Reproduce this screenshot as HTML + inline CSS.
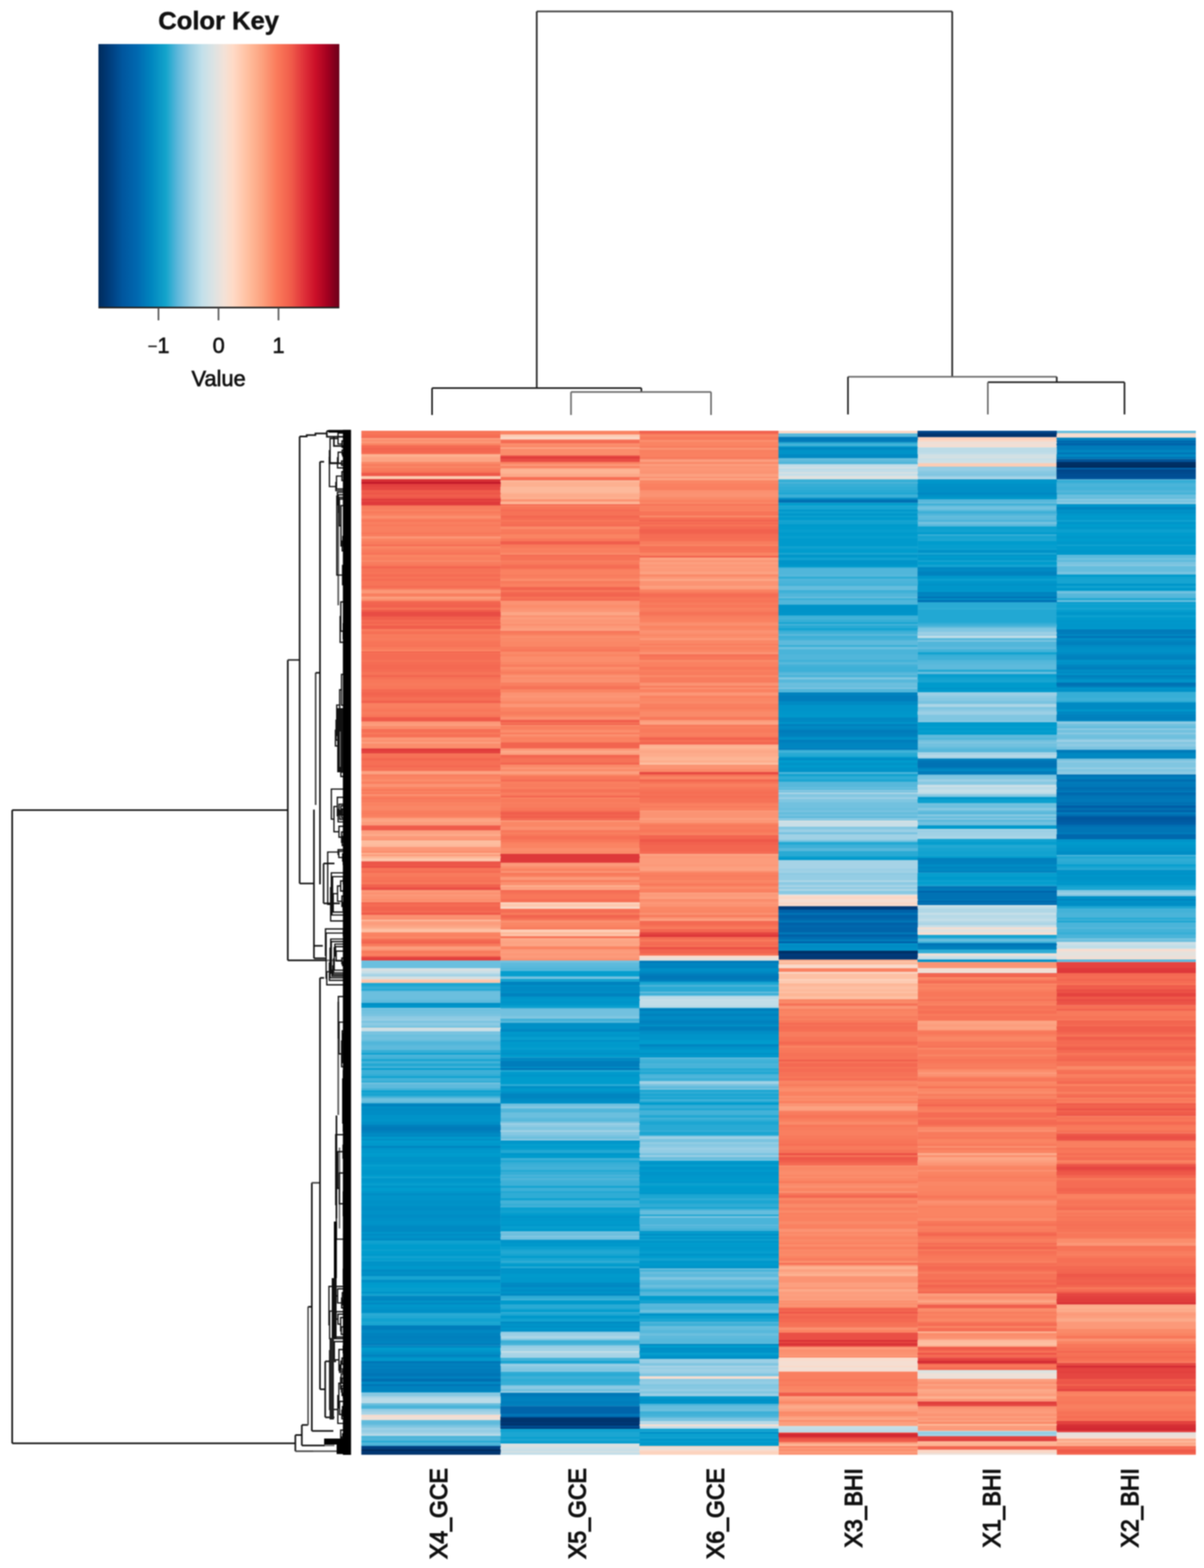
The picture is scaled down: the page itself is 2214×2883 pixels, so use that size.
<!DOCTYPE html>
<html><head><meta charset="utf-8"><style>
html,body{margin:0;padding:0;background:#fff;}
svg{display:block;filter:blur(1.1px);}
</style></head><body>
<svg width="2214" height="2883" viewBox="0 0 2214 2883">
<rect width="2214" height="2883" fill="#fff"/>
<defs><linearGradient id="kg" x1="0" x2="1" y1="0" y2="0"><stop offset="0.0" stop-color="#002b5c"/><stop offset="0.04" stop-color="#003a78"/><stop offset="0.1" stop-color="#00569e"/><stop offset="0.16" stop-color="#0068b0"/><stop offset="0.22" stop-color="#0086bf"/><stop offset="0.28" stop-color="#13a4cb"/><stop offset="0.33" stop-color="#5fb8db"/><stop offset="0.38" stop-color="#97cde2"/><stop offset="0.43" stop-color="#c2e0ea"/><stop offset="0.48" stop-color="#dde3e3"/><stop offset="0.52" stop-color="#f2e2d8"/><stop offset="0.56" stop-color="#ffdac6"/><stop offset="0.62" stop-color="#ffbf9f"/><stop offset="0.68" stop-color="#fca17e"/><stop offset="0.74" stop-color="#fb7b5b"/><stop offset="0.8" stop-color="#f05c4a"/><stop offset="0.85" stop-color="#e0333a"/><stop offset="0.9" stop-color="#cc1029"/><stop offset="0.95" stop-color="#a30020"/><stop offset="1.0" stop-color="#6b001a"/></linearGradient></defs>
<rect x="181" y="81" width="443" height="485" fill="url(#kg)"/>
<path d="M181,565.5 H624" stroke="#222" stroke-width="3"/>
<path d="M291.4,566 V589" stroke="#555" stroke-width="3"/>
<path d="M401.8,566 V589" stroke="#555" stroke-width="3"/>
<path d="M512.1,566 V589" stroke="#555" stroke-width="3"/>
<text x="402" y="54" font-family="Liberation Sans, Arial, sans-serif" font-size="47" font-weight="bold" text-anchor="middle" fill="#111" stroke="#111" stroke-width="0.8">Color Key</text>
<text x="291.5" y="649" font-family="Liberation Sans, Arial, sans-serif" font-size="40" text-anchor="middle" fill="#111" stroke="#111" stroke-width="1.0"><tspan font-size="31" dy="-2.5" fill="#222" stroke="#222" stroke-width="0.5">−</tspan><tspan dy="2.5">1</tspan></text>
<text x="402" y="649" font-family="Liberation Sans, Arial, sans-serif" font-size="40" text-anchor="middle" fill="#111" stroke="#111" stroke-width="1.0">0</text>
<text x="512" y="649" font-family="Liberation Sans, Arial, sans-serif" font-size="40" text-anchor="middle" fill="#111" stroke="#111" stroke-width="1.0">1</text>
<text x="402" y="710" font-family="Liberation Sans, Arial, sans-serif" font-size="40" text-anchor="middle" fill="#111" stroke="#111" stroke-width="1.2">Value</text>
<path d="M987,21 H1751" stroke="#3a3a3a" stroke-width="3" fill="none"/>
<path d="M987,21 V713.5" stroke="#1e1e1e" stroke-width="3" fill="none"/>
<path d="M1751,21 V692.8" stroke="#1e1e1e" stroke-width="3" fill="none"/>
<path d="M794.5,713.5 H1179.4" stroke="#1e1e1e" stroke-width="3" fill="none"/>
<path d="M794.5,713.5 V763" stroke="#1e1e1e" stroke-width="3" fill="none"/>
<path d="M1179.4,713.5 V720.7" stroke="#1e1e1e" stroke-width="3" fill="none"/>
<path d="M1050,720.7 H1307.5" stroke="#6a6a6a" stroke-width="3" fill="none"/>
<path d="M1050,720.7 V763" stroke="#6a6a6a" stroke-width="3" fill="none"/>
<path d="M1307.5,720.7 V763" stroke="#6a6a6a" stroke-width="3" fill="none"/>
<path d="M1559.3,692.8 H1943.2" stroke="#6a6a6a" stroke-width="3" fill="none"/>
<path d="M1559.3,692.8 V762" stroke="#1e1e1e" stroke-width="3" fill="none"/>
<path d="M1943.2,692.8 V702.8" stroke="#1e1e1e" stroke-width="3" fill="none"/>
<path d="M1816.5,702.8 H2067.8" stroke="#1e1e1e" stroke-width="3" fill="none"/>
<path d="M1816.5,702.8 V762" stroke="#6a6a6a" stroke-width="3" fill="none"/>
<path d="M2067.8,702.8 V762" stroke="#1e1e1e" stroke-width="3" fill="none"/>
<path d="M22.4,1489.6 V2653.8" stroke="#111" stroke-width="3" fill="none"/>
<path d="M22.4,1489.6 H529.2" stroke="#1a1a1a" stroke-width="3" fill="none"/>
<path d="M22.4,2653.8 H543.1" stroke="#111" stroke-width="3" fill="none"/>
<path d="M529.2,1213.4 V1765.8" stroke="#111" stroke-width="3" fill="none"/>
<path d="M529.2,1213.4 H551" stroke="#333" stroke-width="3" fill="none"/>
<path d="M529.2,1765.8 H600" stroke="#111" stroke-width="3" fill="none"/>
<path d="M600,1765.8 H630" stroke="#777" stroke-width="3" fill="none"/>
<path d="M551,802.6 V1624.4" stroke="#111" stroke-width="3" fill="none"/>
<path d="M551,1624.4 H577.3" stroke="#1a1a1a" stroke-width="3" fill="none"/>
<path d="M551,802.6 H564 V800 H580 V797 H601" stroke="#111" stroke-width="3" fill="none"/>
<path d="M577.3,1488.4 V1762" stroke="#111" stroke-width="3" fill="none"/>
<path d="M577.3,1739 H593.6" stroke="#111" stroke-width="3" fill="none"/>
<path d="M577.3,1762 H600" stroke="#111" stroke-width="3" fill="none"/>
<path d="M588.4,849 V1626" stroke="#111" stroke-width="3" fill="none"/>
<path d="M588.4,849 H596" stroke="#111" stroke-width="3" fill="none"/>
<path d="M580.4,1237 V1480" stroke="#444" stroke-width="3" fill="none"/>
<path d="M580.4,1237 H588.4" stroke="#111" stroke-width="3" fill="none"/>
<path d="M595,1587.6 V1661" stroke="#1a1a1a" stroke-width="3" fill="none"/>
<path d="M595,1587.6 H615" stroke="#111" stroke-width="3" fill="none"/>
<path d="M595,1661 H625" stroke="#111" stroke-width="3" fill="none"/>
<path d="M622,911 V1113" stroke="#555" stroke-width="3" fill="none"/>
<path d="M601,792.5 H645" stroke="#000" stroke-width="3" fill="none"/>
<path d="M601,792.5 V803 H645" stroke="#111" stroke-width="3" fill="none"/>
<path d="M614,803 V820 H645" stroke="#111" stroke-width="3" fill="none"/>
<path d="M606,840 V852 H640" stroke="#222" stroke-width="3" fill="none"/>
<path d="M543.1,2638.5 V2668.3" stroke="#111" stroke-width="3" fill="none"/>
<path d="M543.1,2638.5 H555" stroke="#111" stroke-width="3" fill="none"/>
<path d="M543.1,2668.3 H576" stroke="#444" stroke-width="3" fill="none"/>
<path d="M576,2668.3 H620" stroke="#555" stroke-width="3" fill="none"/>
<path d="M555,2620 V2657.7" stroke="#111" stroke-width="3" fill="none"/>
<path d="M555,2657.7 H597.5" stroke="#111" stroke-width="3" fill="none"/>
<path d="M597.5,2657.7 H615" stroke="#777" stroke-width="3" fill="none"/>
<path d="M555,2620 H566.5" stroke="#111" stroke-width="3" fill="none"/>
<path d="M566.5,2402.7 V2620" stroke="#555" stroke-width="3" fill="none"/>
<path d="M566.5,2402.7 H573.2" stroke="#111" stroke-width="3" fill="none"/>
<path d="M573.4,2174.8 V2631" stroke="#111" stroke-width="3" fill="none"/>
<path d="M573.4,2631 H613" stroke="#111" stroke-width="3" fill="none"/>
<path d="M573.2,2174.8 H588.4" stroke="#444" stroke-width="3" fill="none"/>
<path d="M588.4,1798 V2554.4" stroke="#111" stroke-width="3" fill="none"/>
<path d="M588.4,1798 H596" stroke="#111" stroke-width="3" fill="none"/>
<path d="M588.4,2554.4 H598" stroke="#111" stroke-width="3" fill="none"/>
<path d="M598,2503 V2606" stroke="#111" stroke-width="3" fill="none"/>
<path d="M598,2503 H618" stroke="#111" stroke-width="3" fill="none"/>
<path d="M598,2606 H615" stroke="#111" stroke-width="3" fill="none"/>
<path d="M622,1842 V2050" stroke="#555" stroke-width="3" fill="none"/>
<path d="M618.7,2051 V2240" stroke="#111" stroke-width="3" fill="none"/>
<path d="M624.3,2110 V2258.7" stroke="#777" stroke-width="3" fill="none"/>
<path d="M632.3,2268 V2417" stroke="#777" stroke-width="3" fill="none"/>
<path d="M645.0 799.7H639.8V802.8H645.0M645.0 796.6H637.0V801.2H639.8M645.0 793.5H635.8V798.9H637.0M645.0 805.9H636.6V809.0H645.0M645.0 812.1H636.8V815.2H645.0M636.6 807.5H635.4V813.7H636.8M645.0 818.3H640.2V821.4H645.0M640.2 819.9H632.8V824.5H645.0M635.4 810.6H628.8V822.2H632.8M635.8 796.2H621.6V816.4H628.8M645.0 830.7H638.0V833.8H645.0M645.0 836.9H637.2V840.0H645.0M638.0 832.3H630.3V838.5H637.2M645.0 827.6H629.1V835.4H630.3M645.0 843.1H638.0V846.2H645.0M645.0 849.3H635.5V852.4H645.0M638.0 844.7H634.3V850.9H635.5M634.3 847.8H628.1V855.5H645.0M629.1 831.5H621.9V851.6H628.1M645.0 858.6H640.4V861.7H645.0M621.9 841.6H620.7V860.2H640.4M621.6 806.3H607.0V850.9H620.7M645.0 867.9H638.0V871.0H645.0M645.0 864.8H632.5V869.5H638.0M645.0 874.1H637.1V877.2H645.0M637.1 875.7H635.9V880.3H645.0M645.0 883.4H641.8V886.5H645.0M645.0 889.6H642.3V892.7H645.0M642.3 891.2H641.1V895.8H645.0M641.8 885.0H637.3V893.5H641.1M635.9 878.0H634.7V889.2H637.3M632.5 867.1H628.7V883.6H634.7M628.7 875.4H618.8V898.9H645.0M618.8 887.1H617.6V902.0H645.0M607.0 828.6H605.8V894.6H617.6M645.0 908.2H642.1V911.3H645.0M645.0 923.7H641.4V926.8H645.0M645.0 920.6H639.5V925.3H641.4M645.0 933.0H642.4V936.1H645.0M645.0 939.2H642.8V942.3H645.0M642.8 940.8H641.6V945.4H645.0M645.0 948.5H641.5V951.6H645.0M641.6 943.1H640.3V950.1H641.5M640.3 946.6H637.6V954.7H645.0M642.4 934.6H636.4V950.6H637.6M645.0 929.9H635.2V942.6H636.4M639.5 922.9H633.0V936.2H635.2M645.0 957.8H642.7V960.9H645.0M645.0 964.0H640.3V967.1H645.0M640.3 965.6H639.1V970.2H645.0M642.7 959.4H637.9V967.9H639.1M637.9 963.6H636.7V973.3H645.0M645.0 979.5H641.3V982.6H645.0M645.0 976.4H639.3V981.1H641.3M645.0 985.7H641.0V988.8H645.0M641.0 987.3H639.2V991.9H645.0M639.3 978.7H638.0V989.6H639.2M636.7 968.5H634.9V984.2H638.0M645.0 995.0H641.6V998.1H645.0M634.9 976.3H633.2V996.6H641.6M645.0 1004.3H641.5V1007.4H645.0M645.0 1001.2H639.9V1005.9H641.5M633.2 986.4H630.5V1003.5H639.9M645.0 1013.6H640.8V1016.7H645.0M645.0 1010.5H639.4V1015.2H640.8M630.5 995.0H629.3V1012.8H639.4M633.0 929.6H627.0V1003.9H629.3M645.0 917.5H624.1V966.7H627.0M645.0 914.4H622.9V942.1H624.1M642.1 909.8H621.7V928.3H622.9M645.0 905.1H620.5V919.0H621.7M645.0 1022.9H641.9V1026.0H645.0M645.0 1019.8H639.9V1024.5H641.9M645.0 1029.1H641.7V1032.2H645.0M641.7 1030.7H640.5V1035.3H645.0M639.9 1022.1H638.6V1033.0H640.5M638.6 1027.6H637.4V1038.4H645.0M645.0 1047.7H641.6V1050.8H645.0M645.0 1044.6H639.4V1049.3H641.6M645.0 1053.9H641.9V1057.0H645.0M639.4 1046.9H638.2V1055.5H641.9M645.0 1041.5H637.0V1051.2H638.2M637.4 1033.0H635.3V1046.3H637.0M645.0 1060.1H642.3V1063.2H645.0M645.0 1069.4H641.8V1072.5H645.0M645.0 1066.3H639.7V1071.0H641.8M642.3 1061.7H637.5V1068.6H639.7M645.0 1075.6H642.3V1078.7H645.0M642.3 1077.2H641.1V1081.8H645.0M645.0 1088.0H642.4V1091.1H645.0M645.0 1084.9H640.9V1089.5H642.4M640.9 1087.2H639.7V1094.2H645.0M641.1 1079.5H638.5V1090.7H639.7M637.5 1065.1H636.3V1085.1H638.5M635.3 1039.7H629.9V1075.1H636.3M620.5 912.1H619.3V1057.4H629.9M645.0 1103.5H641.2V1106.6H645.0M645.0 1100.4H640.0V1105.0H641.2M645.0 1109.7H642.4V1112.8H645.0M640.0 1102.7H638.2V1111.2H642.4M645.0 1119.0H640.8V1122.1H645.0M645.0 1125.2H640.4V1128.3H645.0M640.8 1120.5H639.2V1126.7H640.4M645.0 1115.9H638.0V1123.6H639.2M638.0 1119.8H636.8V1131.4H645.0M638.2 1107.0H635.6V1125.6H636.8M645.0 1097.3H634.4V1116.3H635.6M645.0 1140.7H641.2V1143.8H645.0M645.0 1137.6H639.4V1142.2H641.2M639.4 1139.9H638.2V1146.9H645.0M645.0 1150.0H641.7V1153.1H645.0M641.7 1151.5H640.2V1156.2H645.0M638.2 1143.4H637.0V1153.9H640.2M637.0 1148.6H635.8V1159.3H645.0M645.0 1165.5H641.0V1168.6H645.0M645.0 1162.4H639.8V1167.0H641.0M635.8 1154.0H633.6V1164.7H639.8M645.0 1134.5H632.4V1159.3H633.6M645.0 1174.8H640.8V1177.9H645.0M645.0 1171.7H639.6V1176.3H640.8M632.4 1146.9H631.2V1174.0H639.6M634.4 1106.8H626.7V1160.5H631.2M626.7 1133.6H625.5V1181.0H645.0M645.0 1187.2H640.8V1190.3H645.0M645.0 1193.4H642.5V1196.5H645.0M640.8 1188.7H639.6V1194.9H642.5M645.0 1184.1H638.4V1191.8H639.6M645.0 1202.7H641.4V1205.8H645.0M645.0 1199.6H639.6V1204.2H641.4M639.6 1201.9H638.4V1208.9H645.0M645.0 1212.0H642.5V1215.1H645.0M638.4 1205.4H637.2V1213.5H642.5M637.2 1209.5H636.0V1218.2H645.0M638.4 1188.0H634.8V1213.8H636.0M634.8 1200.9H633.6V1221.3H645.0M645.0 1224.4H640.3V1227.5H645.0M645.0 1230.6H640.5V1233.7H645.0M645.0 1236.8H640.8V1239.9H645.0M640.5 1232.1H639.3V1238.3H640.8M639.3 1235.2H638.1V1243.0H645.0M645.0 1246.1H641.6V1249.2H645.0M638.1 1239.1H636.9V1247.6H641.6M645.0 1252.3H642.6V1255.4H645.0M645.0 1258.5H642.6V1261.6H645.0M642.6 1260.0H639.8V1264.7H645.0M642.6 1253.8H638.6V1262.4H639.8M645.0 1270.9H642.1V1274.0H645.0M645.0 1267.8H640.0V1272.4H642.1M638.6 1258.1H637.4V1270.1H640.0M636.9 1243.4H634.6V1264.1H637.4M640.3 1225.9H633.4V1253.8H634.6M645.0 1277.1H642.8V1280.2H645.0M645.0 1283.3H641.2V1286.4H645.0M642.8 1278.6H638.7V1284.8H641.2M645.0 1289.5H640.6V1292.6H645.0M645.0 1298.8H641.5V1301.9H645.0M645.0 1295.7H639.6V1300.3H641.5M640.6 1291.0H638.4V1298.0H639.6M638.7 1281.7H635.0V1294.5H638.4M635.0 1288.1H633.8V1305.0H645.0M633.4 1239.9H628.0V1296.6H633.8M645.0 1311.2H640.7V1314.3H645.0M640.7 1312.7H639.5V1317.4H645.0M645.0 1308.1H638.3V1315.1H639.5M638.3 1311.6H637.1V1320.5H645.0M637.1 1316.0H635.9V1323.6H645.0M645.0 1332.9H640.5V1336.0H645.0M645.0 1329.8H639.2V1334.4H640.5M645.0 1326.7H638.0V1332.1H639.2M635.9 1319.8H634.7V1329.4H638.0M628.0 1268.2H624.6V1324.6H634.7M645.0 1342.2H641.7V1345.3H645.0M645.0 1339.1H638.3V1343.7H641.7M645.0 1348.4H641.3V1351.5H645.0M641.3 1349.9H640.1V1354.6H645.0M638.3 1341.4H637.1V1352.3H640.1M637.1 1346.8H632.1V1357.7H645.0M624.6 1296.4H619.2V1352.3H632.1M619.2 1324.3H618.0V1360.8H645.0M645.0 1370.1H640.0V1373.2H645.0M645.0 1367.0H638.5V1371.6H640.0M645.0 1376.3H639.3V1379.4H645.0M645.0 1391.8H638.7V1394.9H645.0M638.7 1393.3H637.5V1398.0H645.0M645.0 1388.7H635.1V1395.7H637.5M645.0 1404.2H638.6V1407.3H645.0M645.0 1401.1H637.4V1405.7H638.6M635.1 1392.2H631.6V1403.4H637.4M645.0 1413.5H638.8V1416.6H645.0M645.0 1410.4H637.3V1415.0H638.8M631.6 1397.8H630.4V1412.7H637.3M645.0 1385.6H629.2V1405.3H630.4M629.2 1395.4H628.0V1419.7H645.0M645.0 1422.8H638.3V1425.9H645.0M645.0 1432.1H641.6V1435.2H645.0M645.0 1429.0H639.7V1433.6H641.6M638.3 1424.3H633.5V1431.3H639.7M628.0 1407.6H626.8V1427.8H633.5M645.0 1382.5H625.6V1417.7H626.8M639.3 1377.8H624.4V1400.1H625.6M638.5 1369.3H623.2V1389.0H624.4M645.0 1363.9H622.0V1379.2H623.2M618.0 1342.6H616.8V1371.5H622.0M645.0 1438.3H640.9V1441.4H645.0M645.0 1444.5H642.4V1447.6H645.0M642.4 1446.0H641.1V1450.7H645.0M640.9 1439.8H639.7V1448.4H641.1M645.0 1453.8H641.6V1456.9H645.0M641.6 1455.3H639.2V1460.0H645.0M639.7 1444.1H637.3V1457.7H639.2M645.0 1472.4H641.5V1475.5H645.0M645.0 1469.3H640.3V1473.9H641.5M645.0 1466.2H639.1V1471.6H640.3M645.0 1463.1H637.9V1468.9H639.1M645.0 1491.0H640.7V1494.1H645.0M645.0 1487.9H633.8V1492.5H640.7M645.0 1484.8H632.2V1490.2H633.8M645.0 1497.2H640.6V1500.3H645.0M632.2 1487.5H629.4V1498.7H640.6M629.4 1493.1H628.2V1503.4H645.0M645.0 1481.7H627.0V1498.3H628.2M627.0 1490.0H624.7V1506.5H645.0M645.0 1478.6H623.5V1498.2H624.7M645.0 1509.6H638.4V1512.7H645.0M623.5 1488.4H621.7V1511.1H638.4M637.9 1466.0H620.3V1499.8H621.7M645.0 1518.9H640.0V1522.0H645.0M640.0 1520.4H638.8V1525.1H645.0M645.0 1515.8H635.3V1522.8H638.8M645.0 1528.2H638.9V1531.3H645.0M645.0 1537.5H637.3V1540.6H645.0M637.3 1539.0H636.1V1543.7H645.0M645.0 1534.4H634.9V1541.4H636.1M645.0 1546.8H636.5V1549.9H645.0M634.9 1537.9H630.5V1548.3H636.5M645.0 1553.0H637.9V1556.1H645.0M630.5 1543.1H629.3V1554.5H637.9M638.9 1529.7H628.1V1548.8H629.3M635.3 1519.3H623.3V1539.3H628.1M620.3 1482.9H614.1V1529.3H623.3M637.3 1450.9H609.3V1506.1H614.1M645.0 1568.5H637.2V1571.6H645.0M645.0 1577.8H639.2V1580.9H645.0M645.0 1574.7H637.9V1579.3H639.2M645.0 1584.0H636.8V1587.1H645.0M645.0 1596.4H637.1V1599.5H645.0M645.0 1593.3H635.9V1597.9H637.1M645.0 1590.2H633.7V1595.6H635.9M636.8 1585.5H632.5V1592.9H633.7M637.9 1577.0H631.3V1589.2H632.5M637.2 1570.0H630.1V1583.1H631.3M645.0 1565.4H623.0V1576.6H630.1M645.0 1562.3H621.8V1571.0H623.0M645.0 1605.7H640.6V1608.8H645.0M645.0 1602.6H636.5V1607.2H640.6M645.0 1621.2H638.8V1624.3H645.0M645.0 1618.1H636.3V1622.7H638.8M645.0 1627.4H636.5V1630.5H645.0M636.3 1620.4H632.7V1628.9H636.5M645.0 1615.0H631.5V1624.7H632.7M645.0 1633.6H638.7V1636.7H645.0M645.0 1639.8H639.9V1642.9H645.0M638.7 1635.1H632.0V1641.3H639.9M631.5 1619.8H626.4V1638.2H632.0M645.0 1646.0H639.2V1649.1H645.0M645.0 1652.2H637.3V1655.3H645.0M645.0 1661.5H640.1V1664.6H645.0M645.0 1658.4H635.2V1663.0H640.1M645.0 1667.7H636.6V1670.8H645.0M635.2 1660.7H634.0V1669.2H636.6M637.3 1653.7H632.8V1665.0H634.0M632.8 1659.4H630.9V1673.9H645.0M639.2 1647.5H628.7V1666.6H630.9M626.4 1629.0H620.7V1657.1H628.7M620.7 1643.1H612.8V1677.0H645.0M645.0 1611.9H611.6V1660.0H612.8M645.0 1683.2H638.3V1686.3H645.0M645.0 1680.1H635.1V1684.7H638.3M611.6 1636.0H610.4V1682.4H635.1M636.5 1604.9H609.2V1659.2H610.4M645.0 1689.4H640.6V1692.5H645.0M640.6 1690.9H636.0V1695.6H645.0M609.2 1632.1H608.0V1693.3H636.0M621.8 1566.6H602.6V1662.7H608.0M645.0 1701.8H637.4V1704.9H645.0M645.0 1698.7H636.2V1703.3H637.4M645.0 1717.3H636.5V1720.4H645.0M645.0 1714.2H634.0V1718.8H636.5M634.0 1716.5H632.8V1723.5H645.0M645.0 1711.1H631.6V1720.0H632.8M645.0 1729.7H636.1V1732.8H645.0M645.0 1739.0H637.4V1742.1H645.0M645.0 1748.3H637.9V1751.4H645.0M637.9 1749.8H634.1V1754.5H645.0M645.0 1745.2H632.9V1752.2H634.1M645.0 1757.6H637.1V1760.7H645.0M637.1 1759.1H635.9V1763.8H645.0M645.0 1766.9H639.1V1770.0H645.0M645.0 1776.2H635.8V1779.3H645.0M645.0 1773.1H633.6V1777.7H635.8M639.1 1768.4H629.8V1775.4H633.6M635.9 1761.5H628.6V1771.9H629.8M632.9 1748.7H618.2V1766.7H628.6M637.4 1740.5H617.0V1757.7H618.2M645.0 1735.9H615.8V1749.1H617.0M645.0 1782.4H635.1V1785.5H645.0M615.8 1742.5H614.6V1783.9H635.1M614.6 1763.2H613.4V1788.6H645.0M613.4 1775.9H612.2V1791.7H645.0M612.2 1783.8H610.5V1794.8H645.0M636.1 1731.2H609.3V1789.3H610.5M645.0 1726.6H608.1V1760.3H609.3M608.1 1743.4H606.9V1797.9H645.0M645.0 1801.0H635.1V1804.1H645.0M606.9 1770.7H605.7V1802.5H635.1M645.0 1810.3H641.4V1813.4H645.0M641.4 1811.8H640.2V1816.5H645.0M645.0 1807.2H639.0V1814.2H640.2M605.7 1786.6H600.9V1810.7H639.0M631.6 1715.6H599.7V1798.6H600.9M645.0 1708.0H598.5V1757.1H599.7M645.0 1828.9H640.8V1832.0H645.0M645.0 1825.8H639.6V1830.4H640.8M645.0 1822.7H638.4V1828.1H639.6M645.0 1835.1H641.5V1838.2H645.0M641.5 1836.6H640.3V1841.3H645.0M638.4 1825.4H637.2V1839.0H640.3M645.0 1853.7H641.6V1856.8H645.0M645.0 1850.6H640.4V1855.2H641.6M645.0 1847.5H639.2V1852.9H640.4M645.0 1844.4H638.0V1850.2H639.2M645.0 1859.9H640.6V1863.0H645.0M638.0 1847.3H636.4V1861.4H640.6M636.4 1854.4H635.2V1866.1H645.0M645.0 1869.2H641.2V1872.3H645.0M645.0 1875.4H640.4V1878.5H645.0M645.0 1884.7H642.7V1887.8H645.0M645.0 1881.6H641.5V1886.2H642.7M640.4 1876.9H639.2V1883.9H641.5M641.2 1870.7H638.0V1880.4H639.2M635.2 1860.2H634.0V1875.6H638.0M634.0 1867.9H632.8V1890.9H645.0M645.0 1894.0H642.5V1897.1H645.0M645.0 1909.5H640.7V1912.6H645.0M645.0 1906.4H639.3V1911.0H640.7M645.0 1918.8H642.0V1921.9H645.0M645.0 1915.7H640.8V1920.3H642.0M640.8 1918.0H639.6V1925.0H645.0M639.3 1908.7H638.1V1921.5H639.6M645.0 1903.3H636.5V1915.1H638.1M645.0 1928.1H642.0V1931.2H645.0M642.0 1929.6H640.8V1934.3H645.0M640.8 1932.0H639.4V1937.4H645.0M645.0 1940.5H642.0V1943.6H645.0M642.0 1942.0H640.8V1946.7H645.0M639.4 1934.7H638.2V1944.4H640.8M636.5 1909.2H632.9V1939.5H638.2M645.0 1900.2H631.7V1924.4H632.9M645.0 1949.8H641.4V1952.9H645.0M641.4 1951.3H640.2V1956.0H645.0M631.7 1912.3H630.5V1953.7H640.2M642.5 1895.5H629.3V1933.0H630.5M645.0 1962.2H641.4V1965.3H645.0M645.0 1959.1H640.2V1963.7H641.4M629.3 1914.3H628.1V1961.4H640.2M632.8 1879.4H623.4V1937.8H628.1M637.2 1832.2H622.2V1908.6H623.4M645.0 1971.5H641.4V1974.6H645.0M645.0 1977.7H641.4V1980.8H645.0M641.4 1973.0H640.2V1979.2H641.4M645.0 1983.9H642.6V1987.0H645.0M645.0 1990.1H640.7V1993.2H645.0M642.6 1985.4H639.5V1991.6H640.7M645.0 1996.3H640.5V1999.4H645.0M639.5 1988.5H638.3V1997.8H640.5M640.2 1976.1H636.2V1993.2H638.3M645.0 2005.6H642.4V2008.7H645.0M642.4 2007.1H639.1V2011.8H645.0M645.0 2002.5H637.9V2009.5H639.1M645.0 2018.0H640.5V2021.1H645.0M645.0 2014.9H639.3V2019.5H640.5M645.0 2027.3H642.5V2030.4H645.0M642.5 2028.8H641.1V2033.5H645.0M645.0 2024.2H639.7V2031.2H641.1M639.3 2017.2H638.1V2027.7H639.7M637.9 2006.0H636.1V2022.5H638.1M636.2 1984.7H634.8V2014.2H636.1M645.0 1968.4H631.5V1999.4H634.8M645.0 2039.7H641.7V2042.8H645.0M645.0 2036.6H640.5V2041.2H641.7M645.0 2049.0H640.6V2052.1H645.0M645.0 2045.9H639.4V2050.5H640.6M645.0 2055.2H640.4V2058.3H645.0M645.0 2061.4H642.0V2064.5H645.0M640.4 2056.7H639.2V2062.9H642.0M639.4 2048.2H638.0V2059.8H639.2M645.0 2070.7H641.3V2073.8H645.0M645.0 2067.6H640.1V2072.2H641.3M638.0 2054.0H636.8V2069.9H640.1M640.5 2038.9H635.6V2062.0H636.8M645.0 2080.0H640.6V2083.1H645.0M645.0 2076.9H639.4V2081.5H640.6M635.6 2050.5H631.4V2079.2H639.4M631.5 1983.9H630.2V2064.8H631.4M645.0 2089.3H640.8V2092.4H645.0M645.0 2098.6H640.8V2101.7H645.0M645.0 2095.5H639.6V2100.1H640.8M639.6 2097.8H638.4V2104.8H645.0M640.8 2090.8H636.6V2101.3H638.4M645.0 2114.1H641.8V2117.2H645.0M645.0 2111.0H640.6V2115.6H641.8M645.0 2107.9H639.4V2113.3H640.6M639.4 2110.6H638.2V2120.3H645.0M636.6 2096.1H635.4V2115.5H638.2M645.0 2123.4H641.6V2126.5H645.0M645.0 2129.6H641.6V2132.7H645.0M641.6 2131.1H640.4V2135.8H645.0M641.6 2124.9H639.2V2133.5H640.4M635.4 2105.8H630.8V2129.2H639.2M645.0 2138.9H641.2V2142.0H645.0M645.0 2145.1H641.5V2148.2H645.0M645.0 2151.3H642.1V2154.4H645.0M642.1 2152.8H639.7V2157.5H645.0M641.5 2146.6H637.3V2155.2H639.7M641.2 2140.4H636.1V2150.9H637.3M645.0 2169.9H641.1V2173.0H645.0M641.1 2171.4H639.8V2176.1H645.0M645.0 2166.8H638.6V2173.8H639.8M645.0 2163.7H637.4V2170.3H638.6M645.0 2179.2H642.3V2182.3H645.0M645.0 2185.4H642.1V2188.5H645.0M642.3 2180.7H638.3V2186.9H642.1M637.4 2167.0H636.2V2183.8H638.3M645.0 2160.6H635.0V2175.4H636.2M636.1 2145.7H632.7V2168.0H635.0M645.0 2194.7H642.1V2197.8H645.0M642.1 2196.2H639.9V2200.9H645.0M645.0 2204.0H642.2V2207.1H645.0M639.9 2198.6H638.7V2205.5H642.2M645.0 2213.3H640.5V2216.4H645.0M645.0 2210.2H639.3V2214.8H640.5M645.0 2219.5H642.7V2222.6H645.0M645.0 2225.7H640.8V2228.8H645.0M642.7 2221.0H638.4V2227.2H640.8M645.0 2235.0H641.3V2238.1H645.0M645.0 2231.9H639.8V2236.5H641.3M645.0 2241.2H642.6V2244.3H645.0M639.8 2234.2H638.6V2242.7H642.6M638.4 2224.1H636.1V2238.5H638.6M639.3 2212.5H634.9V2231.3H636.1M638.7 2202.1H633.7V2221.9H634.9M645.0 2247.4H641.4V2250.5H645.0M645.0 2253.6H641.6V2256.7H645.0M641.4 2248.9H640.2V2255.1H641.6M645.0 2262.9H642.0V2266.0H645.0M645.0 2269.1H640.8V2272.2H645.0M640.8 2270.6H639.6V2275.3H645.0M642.0 2264.4H638.4V2273.0H639.6M645.0 2259.8H637.0V2268.7H638.4M640.2 2252.0H635.8V2264.3H637.0M633.7 2212.0H632.5V2258.2H635.8M645.0 2191.6H631.3V2235.1H632.5M632.7 2156.8H624.0V2213.3H631.3M630.8 2117.5H621.2V2185.1H624.0M621.2 2151.3H618.5V2278.4H645.0M645.0 2086.2H617.3V2214.8H618.5M645.0 2284.6H641.9V2287.7H645.0M645.0 2281.5H640.7V2286.1H641.9M645.0 2290.8H641.6V2293.9H645.0M640.7 2283.8H638.6V2292.3H641.6M645.0 2297.0H641.1V2300.1H645.0M645.0 2303.2H641.0V2306.3H645.0M641.1 2298.5H638.2V2304.7H641.0M638.2 2301.6H637.0V2309.4H645.0M638.6 2288.1H635.1V2305.5H637.0M635.1 2296.8H633.9V2312.5H645.0M645.0 2315.6H641.9V2318.7H645.0M645.0 2321.8H642.1V2324.9H645.0M641.9 2317.1H640.3V2323.3H642.1M645.0 2328.0H642.3V2331.1H645.0M642.3 2329.5H641.1V2334.2H645.0M641.1 2331.9H638.3V2337.3H645.0M645.0 2343.5H642.7V2346.6H645.0M645.0 2349.7H642.0V2352.8H645.0M642.7 2345.0H639.2V2351.2H642.0M645.0 2340.4H637.7V2348.1H639.2M638.3 2334.6H636.5V2344.3H637.7M636.5 2339.4H634.2V2355.9H645.0M640.3 2320.2H633.0V2347.7H634.2M645.0 2359.0H639.0V2362.1H645.0M633.0 2334.0H631.4V2360.5H639.0M645.0 2368.3H639.4V2371.4H645.0M645.0 2377.6H639.6V2380.7H645.0M645.0 2374.5H634.1V2379.1H639.6M645.0 2383.8H640.5V2386.9H645.0M640.5 2385.3H639.3V2390.0H645.0M639.3 2387.7H633.8V2393.1H645.0M633.8 2390.4H631.9V2396.2H645.0M631.9 2393.3H630.7V2399.3H645.0M634.1 2376.8H629.5V2396.3H630.7M645.0 2405.5H636.0V2408.6H645.0M645.0 2402.4H634.7V2407.0H636.0M629.5 2386.6H628.2V2404.7H634.7M639.4 2369.8H620.8V2395.6H628.2M645.0 2414.8H640.8V2417.9H645.0M645.0 2421.0H640.0V2424.1H645.0M645.0 2427.2H638.3V2430.3H645.0M638.3 2428.7H637.1V2433.4H645.0M645.0 2436.5H640.3V2439.6H645.0M637.1 2431.1H634.1V2438.0H640.3M645.0 2445.8H639.3V2448.9H645.0M645.0 2442.7H638.1V2447.3H639.3M634.1 2434.6H632.9V2445.0H638.1M645.0 2452.0H640.9V2455.1H645.0M632.9 2439.8H627.6V2453.5H640.9M640.0 2422.5H626.4V2446.7H627.6M640.8 2416.3H621.5V2434.6H626.4M645.0 2411.7H618.1V2425.5H621.5M618.1 2418.6H616.9V2458.2H645.0M620.8 2382.7H612.3V2438.4H616.9M612.3 2410.6H606.1V2461.3H645.0M645.0 2365.2H604.9V2435.9H606.1M645.0 2467.5H638.5V2470.6H645.0M645.0 2464.4H636.9V2469.0H638.5M645.0 2473.7H640.2V2476.8H645.0M645.0 2479.9H640.5V2483.0H645.0M640.5 2481.4H637.9V2486.1H645.0M645.0 2489.2H638.9V2492.3H645.0M637.9 2483.8H636.7V2490.7H638.9M640.2 2475.2H631.2V2487.3H636.7M645.0 2495.4H638.1V2498.5H645.0M645.0 2504.7H640.8V2507.8H645.0M645.0 2501.6H638.0V2506.2H640.8M645.0 2510.9H639.1V2514.0H645.0M638.0 2503.9H635.9V2512.4H639.1M638.1 2496.9H628.9V2508.2H635.9M628.9 2502.6H626.9V2517.1H645.0M626.9 2509.8H625.7V2520.2H645.0M625.7 2515.0H624.5V2523.3H645.0M631.2 2481.3H623.3V2519.2H624.5M636.9 2466.7H614.8V2500.2H623.3M645.0 2529.5H640.3V2532.6H645.0M645.0 2535.7H638.5V2538.8H645.0M640.3 2531.0H636.9V2537.2H638.5M645.0 2541.9H639.2V2545.0H645.0M636.9 2534.1H628.7V2543.4H639.2M645.0 2526.4H627.5V2538.8H628.7M645.0 2551.2H638.3V2554.3H645.0M645.0 2557.4H640.6V2560.5H645.0M645.0 2563.6H636.9V2566.7H645.0M640.6 2558.9H632.7V2565.1H636.9M632.7 2562.0H631.5V2569.8H645.0M638.3 2552.7H629.1V2565.9H631.5M645.0 2548.1H627.9V2559.3H629.1M627.5 2532.6H626.3V2553.7H627.9M645.0 2572.9H636.9V2576.0H645.0M636.9 2574.4H635.7V2579.1H645.0M645.0 2582.2H638.3V2585.3H645.0M638.3 2583.7H637.1V2588.4H645.0M645.0 2591.5H636.6V2594.6H645.0M645.0 2597.7H636.0V2600.8H645.0M636.6 2593.0H633.1V2599.2H636.0M633.1 2596.1H631.0V2603.9H645.0M637.1 2586.1H629.8V2600.0H631.0M645.0 2607.0H636.7V2610.1H645.0M629.8 2593.0H628.6V2608.5H636.7M635.7 2576.8H624.3V2600.8H628.6M626.3 2543.2H623.1V2588.8H624.3M645.0 2613.2H636.6V2616.3H645.0M636.6 2614.7H635.4V2619.4H645.0M623.1 2566.0H621.2V2617.1H635.4M614.8 2483.5H606.1V2591.5H621.2M645.0 2625.6H640.1V2628.7H645.0M640.1 2627.1H634.6V2631.8H645.0M645.0 2634.9H637.9V2638.0H645.0M645.0 2644.2H642.1V2647.3H645.0M645.0 2641.1H635.9V2645.7H642.1M645.0 2650.4H640.3V2653.5H645.0M635.9 2643.4H634.7V2651.9H640.3M637.9 2636.4H630.1V2647.7H634.7M645.0 2656.6H642.2V2659.7H645.0M645.0 2662.8H642.2V2665.9H645.0M642.2 2658.1H640.9V2664.3H642.2M630.1 2642.1H628.9V2661.2H640.9M645.0 2669.0H641.9V2672.1H645.0M628.9 2651.7H627.7V2670.5H641.9M634.6 2629.5H626.5V2661.1H627.7" stroke="#111" stroke-width="2.4" fill="none"/>
<rect x="630.5" y="790.5" width="15" height="1884.5" fill="#000"/>
<rect x="596" y="2645" width="49" height="11" fill="#000"/>
<rect x="620" y="1302" width="11" height="118" fill="#111"/>
<rect x="614" y="2246" width="5.5" height="104" fill="#000"/>
<rect x="610" y="2350" width="9" height="110" fill="#111"/>
<rect x="606" y="2460" width="8" height="150" fill="#222"/>
<path d="M625.5,1345 V1410" stroke="#999" stroke-width="1.5"/>
<rect x="619" y="2656" width="26" height="17.5" fill="#000"/>
<rect x="604" y="790.5" width="41" height="5" fill="#000"/>
<g><path fill="#f77458" d="M664.5 792.0h256.2v4.3h-256.2zM664.5 796.0h256.2v3.3h-256.2zM664.5 866.0h256.2v3.9h-256.2zM664.5 956.0h256.2v3.3h-256.2zM664.5 1016.0h256.2v4.3h-256.2zM664.5 1051.0h256.2v5.3h-256.2zM664.5 1060.0h256.2v4.3h-256.2zM664.5 1068.0h256.2v5.3h-256.2zM664.5 1073.0h256.2v4.3h-256.2zM664.5 1159.0h256.2v3.3h-256.2zM664.5 1180.0h256.2v6.3h-256.2zM664.5 1238.0h256.2v1.3h-256.2zM664.5 1239.0h256.2v2.3h-256.2zM664.5 1597.0h256.2v4.3h-256.2zM664.5 1612.0h256.2v6.3h-256.2zM920.2 876.4h256.2v1.9h-256.2zM920.2 932.0h256.2v5.3h-256.2zM920.2 1097.0h256.2v3.3h-256.2zM920.2 1159.4h256.2v2.9h-256.2zM920.2 1261.0h256.2v3.3h-256.2zM920.2 1387.6h256.2v0.7h-256.2zM1175.8 940.0h256.2v4.3h-256.2zM1175.8 944.0h256.2v4.3h-256.2zM1175.8 964.0h256.2v4.3h-256.2zM1175.8 1011.0h256.2v5.3h-256.2zM1175.8 1103.0h256.2v5.3h-256.2zM1175.8 1332.7h256.2v2.6h-256.2zM1175.8 1354.0h256.2v1.9h-256.2zM1175.8 1437.0h256.2v4.3h-256.2zM1175.8 1701.0h256.2v4.3h-256.2zM1431.5 1906.0h256.2v6.3h-256.2zM1431.5 1912.0h256.2v3.3h-256.2zM1431.5 1920.0h256.2v3.3h-256.2zM1431.5 1942.0h256.2v5.3h-256.2zM1431.5 1961.0h256.2v3.3h-256.2zM1431.5 2050.0h256.2v5.3h-256.2zM1431.5 2097.0h256.2v3.3h-256.2zM1431.5 2100.0h256.2v3.3h-256.2zM1431.5 2195.0h256.2v3.3h-256.2zM1687.2 1868.0h256.2v5.3h-256.2zM1687.2 1873.0h256.2v3.2h-256.2zM1687.2 1947.0h256.2v4.3h-256.2zM1687.2 1997.0h256.2v4.3h-256.2zM1687.2 2018.0h256.2v1.7h-256.2zM1687.2 2024.0h256.2v3.3h-256.2zM1687.2 2068.0h256.2v2.0h-256.2zM1687.2 2069.7h256.2v2.6h-256.2zM1687.2 2272.0h256.2v3.3h-256.2zM1687.2 2288.0h256.2v4.3h-256.2zM1687.2 2305.0h256.2v4.3h-256.2zM1687.2 2348.0h256.2v5.3h-256.2zM1687.2 2358.0h256.2v4.3h-256.2zM1687.2 2430.0h256.2v3.3h-256.2zM1687.2 2484.0h256.2v3.3h-256.2zM1687.2 2507.7h256.2v3.6h-256.2zM1687.2 2517.0h256.2v2.3h-256.2zM1942.8 1808.0h256.2v3.3h-256.2zM1942.8 1868.0h256.2v5.3h-256.2zM1942.8 1951.0h256.2v4.3h-256.2zM1942.8 2207.0h256.2v6.3h-256.2zM1942.8 2236.0h256.2v3.3h-256.2zM1942.8 2259.0h256.2v6.3h-256.2zM1942.8 2292.0h256.2v5.3h-256.2zM1942.8 2297.0h256.2v3.3h-256.2zM1942.8 2599.0h256.2v5.3h-256.2zM1942.8 2607.0h256.2v4.3h-256.2z"/>
<path fill="#f66f55" d="M664.5 799.0h256.2v4.3h-256.2zM664.5 832.0h256.2v3.3h-256.2zM664.5 1147.0h256.2v3.3h-256.2zM664.5 1162.0h256.2v4.3h-256.2zM664.5 1199.0h256.2v4.3h-256.2zM664.5 1339.6h256.2v2.7h-256.2zM664.5 1342.0h256.2v5.3h-256.2zM664.5 1350.0h256.2v4.3h-256.2zM664.5 1354.0h256.2v1.9h-256.2zM664.5 1391.0h256.2v3.3h-256.2zM664.5 1398.0h256.2v4.3h-256.2zM664.5 1402.0h256.2v5.3h-256.2zM664.5 1414.0h256.2v3.3h-256.2zM664.5 1595.0h256.2v2.3h-256.2zM664.5 1625.0h256.2v2.3h-256.2zM920.2 809.0h256.2v3.3h-256.2zM920.2 878.0h256.2v5.3h-256.2zM920.2 959.0h256.2v5.3h-256.2zM920.2 1038.0h256.2v3.3h-256.2zM920.2 1504.0h256.2v3.3h-256.2zM920.2 1537.0h256.2v6.3h-256.2zM920.2 1670.6h256.2v4.7h-256.2zM920.2 1687.0h256.2v3.3h-256.2zM920.2 1690.0h256.2v1.3h-256.2zM1175.8 951.0h256.2v5.3h-256.2zM1175.8 990.0h256.2v5.3h-256.2zM1175.8 1360.0h256.2v4.3h-256.2zM1175.8 1457.0h256.2v3.3h-256.2zM1175.8 1466.0h256.2v3.3h-256.2zM1431.5 1875.9h256.2v1.4h-256.2zM1431.5 1892.0h256.2v5.3h-256.2zM1431.5 1947.0h256.2v2.3h-256.2zM1431.5 1982.0h256.2v5.7h-256.2zM1431.5 2103.0h256.2v4.3h-256.2zM1431.5 2430.0h256.2v3.3h-256.2zM1687.2 1858.0h256.2v6.3h-256.2zM1687.2 2021.0h256.2v3.3h-256.2zM1687.2 2027.0h256.2v4.3h-256.2zM1687.2 2300.0h256.2v5.3h-256.2zM1687.2 2322.0h256.2v1.3h-256.2zM1687.2 2334.0h256.2v4.3h-256.2zM1687.2 2441.0h256.2v4.3h-256.2zM1687.2 2491.0h256.2v3.3h-256.2zM1942.8 1789.0h256.2v1.3h-256.2zM1942.8 1849.0h256.2v6.3h-256.2zM1942.8 1920.0h256.2v3.3h-256.2zM1942.8 1939.0h256.2v3.3h-256.2zM1942.8 1966.9h256.2v0.4h-256.2zM1942.8 1971.0h256.2v4.3h-256.2zM1942.8 2011.0h256.2v4.3h-256.2zM1942.8 2169.0h256.2v3.3h-256.2zM1942.8 2251.0h256.2v3.3h-256.2zM1942.8 2313.0h256.2v5.3h-256.2zM1942.8 2318.0h256.2v4.3h-256.2zM1942.8 2491.0h256.2v3.3h-256.2zM1942.8 2497.0h256.2v5.3h-256.2z"/>
<path fill="#f46952" d="M664.5 803.0h256.2v2.8h-256.2zM664.5 1104.6h256.2v3.7h-256.2zM664.5 1139.0h256.2v5.3h-256.2zM664.5 1222.0h256.2v4.3h-256.2zM664.5 1226.0h256.2v5.3h-256.2zM664.5 1267.0h256.2v6.3h-256.2zM664.5 1279.0h256.2v4.3h-256.2zM664.5 1318.0h256.2v1.3h-256.2zM664.5 1407.0h256.2v4.3h-256.2zM664.5 1727.0h256.2v4.3h-256.2zM920.2 812.0h256.2v3.0h-256.2zM920.2 926.7h256.2v2.6h-256.2zM920.2 1088.0h256.2v3.3h-256.2zM920.2 1103.0h256.2v1.9h-256.2zM920.2 1391.0h256.2v3.3h-256.2zM1175.8 960.0h256.2v4.3h-256.2zM1175.8 968.0h256.2v5.3h-256.2zM1175.8 1367.0h256.2v2.6h-256.2zM1175.8 1693.0h256.2v3.3h-256.2zM1175.8 1696.0h256.2v5.3h-256.2zM1175.8 1735.0h256.2v3.3h-256.2zM1431.5 1915.0h256.2v5.3h-256.2zM1431.5 1955.0h256.2v5.3h-256.2zM1431.5 2137.0h256.2v4.3h-256.2zM1431.5 2424.0h256.2v6.3h-256.2zM1687.2 1790.0h256.2v4.3h-256.2zM1687.2 2062.0h256.2v6.3h-256.2zM1687.2 2328.0h256.2v6.3h-256.2zM1687.2 2353.0h256.2v5.3h-256.2zM1687.2 2514.0h256.2v3.3h-256.2zM1942.8 1790.0h256.2v4.3h-256.2zM1942.8 1912.0h256.2v3.3h-256.2zM1942.8 1915.0h256.2v5.3h-256.2zM1942.8 1930.0h256.2v6.3h-256.2zM1942.8 1942.0h256.2v5.3h-256.2zM1942.8 1988.0h256.2v5.3h-256.2zM1942.8 2015.0h256.2v3.3h-256.2zM1942.8 2062.0h256.2v6.3h-256.2zM1942.8 2190.0h256.2v3.3h-256.2zM1942.8 2328.0h256.2v6.3h-256.2zM1942.8 2494.0h256.2v3.3h-256.2zM1942.8 2658.6h256.2v2.7h-256.2z"/>
<path fill="#fc9979" d="M664.5 805.5h256.2v3.8h-256.2zM664.5 812.0h256.2v3.3h-256.2zM664.5 1084.0h256.2v1.3h-256.2zM664.5 1088.0h256.2v3.3h-256.2zM664.5 1328.0h256.2v3.3h-256.2zM664.5 1357.0h256.2v3.3h-256.2zM664.5 1516.0h256.2v1.7h-256.2zM664.5 1537.0h256.2v6.3h-256.2zM664.5 1571.0h256.2v3.3h-256.2zM664.5 1638.0h256.2v3.3h-256.2zM664.5 1644.0h256.2v4.3h-256.2zM920.2 1144.0h256.2v3.3h-256.2zM920.2 1150.0h256.2v5.3h-256.2zM920.2 1586.0h256.2v3.3h-256.2zM920.2 1589.0h256.2v4.3h-256.2zM920.2 1612.0h256.2v6.3h-256.2zM920.2 1745.0h256.2v4.3h-256.2zM1175.8 844.4h256.2v1.9h-256.2zM1175.8 1045.0h256.2v6.3h-256.2zM1175.8 1081.0h256.2v3.3h-256.2zM1175.8 1173.0h256.2v4.3h-256.2zM1175.8 1331.0h256.2v2.0h-256.2zM1175.8 1490.0h256.2v3.3h-256.2zM1175.8 1511.0h256.2v2.3h-256.2zM1175.8 1574.0h256.2v4.3h-256.2zM1175.8 1589.0h256.2v4.3h-256.2zM1175.8 1644.0h256.2v4.3h-256.2zM1175.8 1659.0h256.2v3.3h-256.2zM1431.5 2491.0h256.2v3.3h-256.2zM1687.2 1768.4h256.2v1.9h-256.2zM1687.2 1971.0h256.2v4.3h-256.2zM1687.2 2388.0h256.2v3.3h-256.2zM1687.2 2398.0h256.2v0.7h-256.2zM1687.2 2590.0h256.2v5.3h-256.2zM1687.2 2625.0h256.2v4.3h-256.2zM1942.8 2285.0h256.2v3.3h-256.2zM1942.8 2415.0h256.2v4.3h-256.2zM1942.8 2430.0h256.2v3.3h-256.2zM1942.8 2433.0h256.2v5.3h-256.2zM1942.8 2438.0h256.2v3.3h-256.2zM1942.8 2441.0h256.2v3.0h-256.2z"/>
<path fill="#fa8766" d="M664.5 809.0h256.2v1.3h-256.2zM664.5 857.0h256.2v3.3h-256.2zM664.5 1004.0h256.2v4.3h-256.2zM664.5 1481.0h256.2v4.3h-256.2zM664.5 1485.0h256.2v5.3h-256.2zM920.2 1180.0h256.2v6.3h-256.2zM920.2 1186.0h256.2v3.3h-256.2zM920.2 1217.0h256.2v5.3h-256.2zM920.2 1289.0h256.2v5.3h-256.2zM920.2 1511.0h256.2v5.3h-256.2zM920.2 1516.0h256.2v4.3h-256.2zM920.2 1551.7h256.2v1.6h-256.2zM920.2 1696.0h256.2v5.3h-256.2zM1175.8 886.0h256.2v3.3h-256.2zM1175.8 923.0h256.2v3.3h-256.2zM1175.8 1001.0h256.2v3.3h-256.2zM1175.8 1155.0h256.2v4.3h-256.2zM1175.8 1166.0h256.2v3.3h-256.2zM1175.8 1177.0h256.2v3.3h-256.2zM1175.8 1180.0h256.2v4.9h-256.2zM1175.8 1194.0h256.2v5.3h-256.2zM1175.8 1283.0h256.2v6.3h-256.2zM1175.8 1618.0h256.2v4.3h-256.2zM1175.8 1667.0h256.2v3.3h-256.2zM1175.8 1670.0h256.2v5.3h-256.2zM1431.5 1864.0h256.2v4.3h-256.2zM1431.5 1997.0h256.2v4.3h-256.2zM1431.5 2018.0h256.2v3.3h-256.2zM1431.5 2145.0h256.2v6.3h-256.2zM1431.5 2160.0h256.2v3.3h-256.2zM1431.5 2166.0h256.2v3.3h-256.2zM1431.5 2203.0h256.2v4.3h-256.2zM1431.5 2265.0h256.2v3.3h-256.2zM1431.5 2272.0h256.2v3.3h-256.2zM1431.5 2281.0h256.2v4.3h-256.2zM1431.5 2300.0h256.2v5.3h-256.2zM1431.5 2494.0h256.2v2.6h-256.2zM1431.5 2554.0h256.2v4.3h-256.2zM1431.5 2558.0h256.2v2.6h-256.2zM1687.2 1795.9h256.2v4.4h-256.2zM1687.2 1808.0h256.2v3.3h-256.2zM1687.2 1906.0h256.2v6.3h-256.2zM1687.2 1926.0h256.2v4.3h-256.2zM1687.2 1939.0h256.2v3.3h-256.2zM1687.2 1988.0h256.2v5.3h-256.2zM1687.2 2001.0h256.2v6.3h-256.2zM1687.2 2015.0h256.2v3.3h-256.2zM1687.2 2172.0h256.2v3.3h-256.2zM1687.2 2175.0h256.2v5.3h-256.2zM1687.2 2405.0h256.2v1.3h-256.2zM1687.2 2424.0h256.2v6.3h-256.2zM1687.2 2438.0h256.2v3.3h-256.2zM1942.8 1964.0h256.2v3.2h-256.2zM1942.8 2277.0h256.2v1.3h-256.2zM1942.8 2443.7h256.2v1.6h-256.2z"/>
<path fill="#fb9373" d="M664.5 810.0h256.2v2.3h-256.2zM664.5 1100.0h256.2v3.3h-256.2zM664.5 1326.0h256.2v2.3h-256.2zM664.5 1423.0h256.2v1.3h-256.2zM664.5 1441.0h256.2v6.3h-256.2zM664.5 1460.0h256.2v3.3h-256.2zM664.5 1636.0h256.2v2.3h-256.2zM664.5 1648.0h256.2v5.3h-256.2zM664.5 1656.0h256.2v3.3h-256.2zM664.5 1745.0h256.2v3.3h-256.2zM920.2 917.6h256.2v1.7h-256.2zM920.2 919.0h256.2v3.3h-256.2zM920.2 1104.6h256.2v3.7h-256.2zM920.2 1108.0h256.2v4.3h-256.2zM920.2 1117.0h256.2v4.3h-256.2zM920.2 1131.0h256.2v4.3h-256.2zM920.2 1241.0h256.2v4.3h-256.2zM920.2 1273.0h256.2v6.3h-256.2zM920.2 1601.0h256.2v4.3h-256.2zM920.2 1622.0h256.2v3.3h-256.2zM920.2 1761.0h256.2v3.3h-256.2zM1175.8 823.0h256.2v4.3h-256.2zM1175.8 857.0h256.2v3.3h-256.2zM1175.8 866.0h256.2v5.3h-256.2zM1175.8 906.0h256.2v3.3h-256.2zM1175.8 909.0h256.2v5.3h-256.2zM1175.8 1030.0h256.2v3.3h-256.2zM1175.8 1068.0h256.2v5.3h-256.2zM1175.8 1073.0h256.2v4.3h-256.2zM1175.8 1159.0h256.2v3.3h-256.2zM1175.8 1199.0h256.2v4.3h-256.2zM1175.8 1255.0h256.2v6.3h-256.2zM1175.8 1407.0h256.2v4.3h-256.2zM1175.8 1411.0h256.2v3.3h-256.2zM1175.8 1493.0h256.2v4.3h-256.2zM1175.8 1497.0h256.2v4.3h-256.2zM1175.8 1501.0h256.2v3.3h-256.2zM1175.8 1662.0h256.2v5.3h-256.2zM1175.8 1687.0h256.2v3.3h-256.2zM1431.5 1849.0h256.2v6.3h-256.2zM1431.5 2031.0h256.2v3.3h-256.2zM1431.5 2041.0h256.2v1.6h-256.2zM1431.5 2190.0h256.2v3.3h-256.2zM1431.5 2259.0h256.2v6.3h-256.2zM1431.5 2348.0h256.2v5.3h-256.2zM1431.5 2353.0h256.2v5.3h-256.2zM1431.5 2367.0h256.2v3.3h-256.2zM1431.5 2398.0h256.2v5.3h-256.2zM1431.5 2487.0h256.2v4.3h-256.2zM1687.2 1770.0h256.2v6.3h-256.2zM1687.2 2107.0h256.2v3.3h-256.2zM1687.2 2141.0h256.2v2.2h-256.2zM1687.2 2540.0h256.2v5.3h-256.2zM1687.2 2599.0h256.2v5.3h-256.2zM1687.2 2607.0h256.2v4.3h-256.2zM1942.8 2288.0h256.2v3.3h-256.2zM1942.8 2461.0h256.2v5.3h-256.2z"/>
<path fill="#fa8463" d="M664.5 815.0h256.2v4.3h-256.2zM664.5 937.0h256.2v3.3h-256.2zM664.5 990.0h256.2v5.3h-256.2zM664.5 1020.0h256.2v2.3h-256.2zM664.5 1022.0h256.2v3.3h-256.2zM664.5 1194.0h256.2v4.3h-256.2zM664.5 1427.0h256.2v6.3h-256.2zM664.5 1447.0h256.2v4.3h-256.2zM664.5 1454.0h256.2v3.3h-256.2zM664.5 1475.0h256.2v3.3h-256.2zM664.5 1501.0h256.2v3.0h-256.2zM664.5 1714.0h256.2v4.3h-256.2zM920.2 792.0h256.2v4.3h-256.2zM920.2 814.7h256.2v0.6h-256.2zM920.2 820.0h256.2v2.3h-256.2zM920.2 982.0h256.2v3.3h-256.2zM920.2 985.0h256.2v5.3h-256.2zM920.2 1166.0h256.2v3.3h-256.2zM920.2 1203.0h256.2v4.3h-256.2zM920.2 1231.0h256.2v4.3h-256.2zM920.2 1238.0h256.2v3.3h-256.2zM920.2 1267.0h256.2v6.3h-256.2zM920.2 1300.7h256.2v3.6h-256.2zM920.2 1304.0h256.2v4.3h-256.2zM920.2 1314.0h256.2v4.3h-256.2zM920.2 1354.0h256.2v3.3h-256.2zM920.2 1360.0h256.2v4.3h-256.2zM920.2 1424.0h256.2v3.3h-256.2zM920.2 1466.0h256.2v3.3h-256.2zM920.2 1553.0h256.2v6.3h-256.2zM920.2 1701.0h256.2v4.3h-256.2zM920.2 1741.0h256.2v4.3h-256.2zM1175.8 799.0h256.2v4.3h-256.2zM1175.8 812.0h256.2v3.3h-256.2zM1175.8 815.0h256.2v5.3h-256.2zM1175.8 883.0h256.2v3.3h-256.2zM1175.8 1016.0h256.2v4.3h-256.2zM1175.8 1020.0h256.2v2.3h-256.2zM1175.8 1085.0h256.2v3.3h-256.2zM1175.8 1150.0h256.2v5.3h-256.2zM1175.8 1304.0h256.2v4.3h-256.2zM1175.8 1427.0h256.2v6.3h-256.2zM1175.8 1513.0h256.2v3.3h-256.2zM1175.8 1534.0h256.2v2.0h-256.2zM1175.8 1628.0h256.2v3.3h-256.2zM1175.8 1675.0h256.2v3.3h-256.2zM1431.5 1837.0h256.2v3.3h-256.2zM1431.5 1858.0h256.2v6.3h-256.2zM1431.5 1873.0h256.2v3.2h-256.2zM1431.5 1923.0h256.2v3.3h-256.2zM1431.5 1988.0h256.2v5.3h-256.2zM1431.5 2169.0h256.2v3.3h-256.2zM1431.5 2184.0h256.2v6.3h-256.2zM1431.5 2233.0h256.2v3.3h-256.2zM1431.5 2309.0h256.2v4.3h-256.2zM1431.5 2403.0h256.2v2.3h-256.2zM1431.5 2445.0h256.2v5.9h-256.2zM1431.5 2548.0h256.2v6.3h-256.2zM1687.2 1814.0h256.2v5.3h-256.2zM1687.2 1845.0h256.2v4.3h-256.2zM1687.2 1912.0h256.2v3.3h-256.2zM1687.2 1964.6h256.2v2.7h-256.2zM1687.2 1979.0h256.2v3.3h-256.2zM1687.2 1993.0h256.2v4.3h-256.2zM1687.2 2094.0h256.2v6.3h-256.2zM1687.2 2114.0h256.2v6.3h-256.2zM1687.2 2145.0h256.2v6.3h-256.2zM1687.2 2154.0h256.2v6.3h-256.2zM1687.2 2180.0h256.2v4.3h-256.2zM1687.2 2184.0h256.2v6.3h-256.2zM1687.2 2220.0h256.2v5.3h-256.2zM1687.2 2225.0h256.2v5.3h-256.2zM1687.2 2230.0h256.2v3.3h-256.2zM1687.2 2233.0h256.2v3.3h-256.2zM1687.2 2415.0h256.2v4.3h-256.2zM1942.8 2133.0h256.2v4.3h-256.2zM1942.8 2451.0h256.2v5.3h-256.2zM1942.8 2466.0h256.2v4.3h-256.2zM1942.8 2470.0h256.2v1.3h-256.2zM1942.8 2562.0h256.2v5.3h-256.2z"/>
<path fill="#f2644f" d="M664.5 819.0h256.2v1.3h-256.2zM664.5 823.0h256.2v4.3h-256.2zM664.5 1108.0h256.2v4.3h-256.2zM664.5 1144.0h256.2v3.3h-256.2zM664.5 1273.0h256.2v6.3h-256.2zM664.5 1628.0h256.2v3.3h-256.2zM664.5 1659.0h256.2v3.3h-256.2zM664.5 1667.0h256.2v3.3h-256.2zM664.5 1670.0h256.2v5.3h-256.2zM664.5 1731.0h256.2v4.3h-256.2zM920.2 1081.0h256.2v4.3h-256.2zM920.2 1091.0h256.2v6.3h-256.2zM920.2 1367.0h256.2v6.3h-256.2zM920.2 1497.0h256.2v4.3h-256.2zM920.2 1682.0h256.2v5.3h-256.2zM1175.8 979.0h256.2v3.3h-256.2zM1175.8 1725.0h256.2v2.3h-256.2zM1175.8 1749.0h256.2v4.3h-256.2zM1431.5 2419.0h256.2v5.3h-256.2zM1431.5 2649.0h256.2v3.0h-256.2zM1687.2 2031.0h256.2v3.3h-256.2zM1687.2 2362.0h256.2v5.3h-256.2zM1687.2 2375.0h256.2v3.2h-256.2zM1687.2 2475.7h256.2v2.6h-256.2zM1687.2 2481.0h256.2v3.3h-256.2zM1687.2 2661.0h256.2v4.3h-256.2zM1942.8 1800.0h256.2v3.3h-256.2zM1942.8 1877.0h256.2v3.3h-256.2zM1942.8 2031.0h256.2v3.3h-256.2zM1942.8 2184.0h256.2v6.3h-256.2zM1942.8 2338.0h256.2v4.3h-256.2z"/>
<path fill="#f56c54" d="M664.5 820.0h256.2v3.3h-256.2zM664.5 1001.0h256.2v3.3h-256.2zM664.5 1056.0h256.2v4.3h-256.2zM664.5 1064.0h256.2v4.3h-256.2zM664.5 1077.0h256.2v4.3h-256.2zM664.5 1134.0h256.2v1.3h-256.2zM664.5 1203.0h256.2v4.3h-256.2zM664.5 1207.0h256.2v6.3h-256.2zM664.5 1217.0h256.2v5.3h-256.2zM664.5 1231.0h256.2v4.3h-256.2zM664.5 1285.0h256.2v4.3h-256.2zM664.5 1601.0h256.2v4.3h-256.2zM664.5 1662.0h256.2v5.3h-256.2zM664.5 1675.0h256.2v3.3h-256.2zM920.2 808.0h256.2v1.3h-256.2zM920.2 937.0h256.2v3.3h-256.2zM920.2 951.0h256.2v5.3h-256.2zM920.2 964.0h256.2v4.3h-256.2zM920.2 1041.0h256.2v4.3h-256.2zM920.2 1100.0h256.2v3.3h-256.2zM920.2 1433.0h256.2v4.3h-256.2zM920.2 1490.0h256.2v3.3h-256.2zM920.2 1638.0h256.2v3.3h-256.2zM920.2 1653.0h256.2v3.3h-256.2zM920.2 1675.0h256.2v3.3h-256.2zM1175.8 796.0h256.2v3.0h-256.2zM1175.8 982.0h256.2v3.3h-256.2zM1175.8 985.0h256.2v5.3h-256.2zM1175.8 1091.0h256.2v6.3h-256.2zM1175.8 1355.6h256.2v1.7h-256.2zM1175.8 1455.0h256.2v2.3h-256.2zM1175.8 1463.0h256.2v3.3h-256.2zM1175.8 1565.0h256.2v5.3h-256.2zM1175.8 1731.0h256.2v4.3h-256.2zM1431.5 1880.0h256.2v4.3h-256.2zM1431.5 1887.0h256.2v5.3h-256.2zM1431.5 1964.0h256.2v3.3h-256.2zM1431.5 1967.0h256.2v4.3h-256.2zM1431.5 2141.0h256.2v2.2h-256.2zM1431.5 2322.0h256.2v3.3h-256.2zM1431.5 2415.0h256.2v4.3h-256.2zM1687.2 1803.0h256.2v5.3h-256.2zM1687.2 2045.0h256.2v5.3h-256.2zM1687.2 2050.0h256.2v5.3h-256.2zM1687.2 2058.0h256.2v4.3h-256.2zM1687.2 2249.9h256.2v1.4h-256.2zM1687.2 2265.0h256.2v3.3h-256.2zM1687.2 2285.0h256.2v3.3h-256.2zM1687.2 2323.0h256.2v2.3h-256.2zM1687.2 2367.0h256.2v3.3h-256.2zM1687.2 2433.0h256.2v5.3h-256.2zM1687.2 2445.0h256.2v3.6h-256.2zM1942.8 1794.0h256.2v6.3h-256.2zM1942.8 1803.0h256.2v5.3h-256.2zM1942.8 1884.0h256.2v3.3h-256.2zM1942.8 2120.0h256.2v4.3h-256.2zM1942.8 2127.0h256.2v6.3h-256.2zM1942.8 2172.0h256.2v3.3h-256.2zM1942.8 2175.0h256.2v5.3h-256.2zM1942.8 2180.0h256.2v4.3h-256.2zM1942.8 2220.0h256.2v5.3h-256.2zM1942.8 2291.0h256.2v1.3h-256.2zM1942.8 2370.0h256.2v5.3h-256.2zM1942.8 2604.0h256.2v3.3h-256.2zM1942.8 2661.0h256.2v4.3h-256.2z"/>
<path fill="#f36650" d="M664.5 827.0h256.2v5.3h-256.2zM664.5 1041.0h256.2v4.3h-256.2zM664.5 1155.0h256.2v2.3h-256.2zM664.5 1241.0h256.2v4.3h-256.2zM664.5 1394.0h256.2v4.3h-256.2zM920.2 948.0h256.2v3.3h-256.2zM920.2 1020.0h256.2v2.3h-256.2zM920.2 1079.0h256.2v2.3h-256.2zM920.2 1364.7h256.2v2.6h-256.2zM920.2 1373.0h256.2v3.3h-256.2zM920.2 1388.0h256.2v3.3h-256.2zM920.2 1402.0h256.2v4.2h-256.2zM920.2 1463.0h256.2v3.3h-256.2zM1175.8 1364.0h256.2v3.3h-256.2zM1175.8 1433.0h256.2v4.3h-256.2zM1175.8 1537.0h256.2v6.3h-256.2zM1175.8 1553.0h256.2v6.3h-256.2zM1175.8 1559.0h256.2v6.3h-256.2zM1175.8 1708.0h256.2v6.3h-256.2zM1175.8 1746.0h256.2v3.3h-256.2zM1431.5 1960.0h256.2v1.3h-256.2zM1431.5 2198.0h256.2v4.2h-256.2zM1431.5 2409.0h256.2v3.3h-256.2zM1687.2 2268.0h256.2v4.3h-256.2zM1687.2 2292.0h256.2v5.3h-256.2zM1687.2 2658.6h256.2v2.7h-256.2zM1942.8 1811.0h256.2v1.2h-256.2zM1942.8 1875.9h256.2v1.4h-256.2zM1942.8 1880.0h256.2v4.3h-256.2zM1942.8 1897.0h256.2v5.3h-256.2zM1942.8 1923.0h256.2v3.3h-256.2zM1942.8 1947.0h256.2v4.3h-256.2zM1942.8 2161.0h256.2v2.3h-256.2zM1942.8 2163.0h256.2v3.3h-256.2zM1942.8 2193.0h256.2v2.3h-256.2zM1942.8 2334.0h256.2v4.3h-256.2zM1942.8 2362.0h256.2v5.3h-256.2zM1942.8 2484.0h256.2v3.3h-256.2zM1942.8 2545.0h256.2v3.3h-256.2zM1942.8 2671.0h256.2v3.8h-256.2z"/>
<path fill="#fdb090" d="M664.5 835.0h256.2v5.3h-256.2zM664.5 1567.7h256.2v3.6h-256.2zM664.5 1705.0h256.2v3.3h-256.2zM920.2 886.0h256.2v3.3h-256.2zM920.2 889.0h256.2v6.3h-256.2zM920.2 906.0h256.2v3.3h-256.2zM920.2 914.0h256.2v3.9h-256.2zM920.2 922.0h256.2v1.3h-256.2zM920.2 1627.0h256.2v1.3h-256.2zM920.2 1634.0h256.2v2.3h-256.2zM1175.8 1369.3h256.2v4.0h-256.2zM1431.5 2327.6h256.2v0.7h-256.2zM1431.5 2328.0h256.2v6.3h-256.2zM1687.2 2448.3h256.2v3.0h-256.2zM1687.2 2567.0h256.2v5.3h-256.2zM1687.2 2655.0h256.2v3.9h-256.2zM1942.8 2403.0h256.2v3.3h-256.2z"/>
<path fill="#fca686" d="M664.5 840.0h256.2v3.3h-256.2zM664.5 846.0h256.2v3.3h-256.2zM664.5 1507.0h256.2v4.3h-256.2zM664.5 1701.0h256.2v4.3h-256.2zM920.2 860.4h256.2v2.9h-256.2zM920.2 875.0h256.2v1.7h-256.2zM920.2 1125.0h256.2v6.3h-256.2zM920.2 1727.0h256.2v4.3h-256.2zM920.2 1735.0h256.2v3.3h-256.2zM1175.8 1064.0h256.2v4.3h-256.2zM1175.8 1328.0h256.2v3.3h-256.2zM1175.8 1380.0h256.2v4.3h-256.2zM1431.5 2607.0h256.2v4.3h-256.2zM1431.5 2651.7h256.2v0.6h-256.2zM1687.2 1877.0h256.2v3.3h-256.2zM1687.2 2127.0h256.2v6.3h-256.2zM1687.2 2391.0h256.2v4.3h-256.2zM1687.2 2558.0h256.2v4.3h-256.2zM1687.2 2629.0h256.2v2.3h-256.2zM1942.8 2645.0h256.2v4.3h-256.2zM1942.8 2652.0h256.2v3.3h-256.2z"/>
<path fill="#fca282" d="M664.5 843.0h256.2v3.3h-256.2zM664.5 1339.0h256.2v0.9h-256.2zM664.5 1418.0h256.2v5.3h-256.2zM664.5 1530.0h256.2v4.3h-256.2zM664.5 1693.0h256.2v3.3h-256.2zM920.2 823.0h256.2v3.3h-256.2zM920.2 1731.0h256.2v4.3h-256.2zM920.2 1738.0h256.2v2.3h-256.2zM1175.8 878.0h256.2v5.3h-256.2zM1175.8 1025.0h256.2v5.3h-256.2zM1175.8 1051.0h256.2v5.3h-256.2zM1175.8 1323.6h256.2v0.7h-256.2zM1175.8 1597.0h256.2v4.3h-256.2zM1175.8 1690.0h256.2v3.3h-256.2zM1431.5 2034.0h256.2v4.3h-256.2zM1431.5 2038.0h256.2v3.3h-256.2zM1431.5 2388.0h256.2v3.3h-256.2zM1687.2 1880.0h256.2v4.3h-256.2zM1687.2 1887.0h256.2v5.3h-256.2zM1687.2 2461.0h256.2v3.6h-256.2zM1687.2 2545.0h256.2v3.3h-256.2z"/>
<path fill="#fa8a69" d="M664.5 849.0h256.2v4.3h-256.2zM664.5 1030.0h256.2v3.3h-256.2zM664.5 1103.0h256.2v1.9h-256.2zM664.5 1335.0h256.2v4.3h-256.2zM664.5 1722.0h256.2v3.3h-256.2zM920.2 860.0h256.2v0.7h-256.2zM920.2 968.0h256.2v5.3h-256.2zM920.2 1016.0h256.2v4.3h-256.2zM920.2 1173.0h256.2v4.3h-256.2zM920.2 1177.0h256.2v3.3h-256.2zM920.2 1199.0h256.2v4.3h-256.2zM920.2 1300.0h256.2v1.0h-256.2zM920.2 1407.0h256.2v4.3h-256.2zM920.2 1414.0h256.2v4.3h-256.2zM920.2 1565.0h256.2v5.3h-256.2zM920.2 1625.0h256.2v2.3h-256.2zM920.2 1740.0h256.2v1.3h-256.2zM1175.8 849.0h256.2v4.3h-256.2zM1175.8 914.0h256.2v5.3h-256.2zM1175.8 926.0h256.2v1.0h-256.2zM1175.8 948.0h256.2v3.3h-256.2zM1175.8 1056.0h256.2v4.3h-256.2zM1175.8 1186.0h256.2v3.3h-256.2zM1175.8 1213.0h256.2v4.3h-256.2zM1175.8 1241.0h256.2v4.3h-256.2zM1175.8 1289.0h256.2v5.3h-256.2zM1175.8 1308.0h256.2v6.3h-256.2zM1175.8 1314.0h256.2v4.3h-256.2zM1175.8 1405.9h256.2v1.4h-256.2zM1175.8 1414.0h256.2v4.3h-256.2zM1175.8 1418.0h256.2v1.9h-256.2zM1175.8 1653.0h256.2v3.3h-256.2zM1431.5 1840.0h256.2v5.3h-256.2zM1431.5 2062.0h256.2v6.3h-256.2zM1431.5 2151.0h256.2v3.3h-256.2zM1431.5 2175.0h256.2v5.3h-256.2zM1431.5 2213.0h256.2v4.3h-256.2zM1431.5 2217.0h256.2v3.3h-256.2zM1431.5 2225.0h256.2v5.3h-256.2zM1431.5 2245.0h256.2v6.3h-256.2zM1431.5 2278.0h256.2v3.3h-256.2zM1431.5 2297.0h256.2v3.3h-256.2zM1431.5 2305.0h256.2v4.3h-256.2zM1431.5 2396.0h256.2v2.3h-256.2zM1431.5 2576.0h256.2v5.3h-256.2zM1431.5 2595.0h256.2v4.3h-256.2zM1687.2 1875.9h256.2v1.4h-256.2zM1687.2 2072.0h256.2v6.3h-256.2zM1687.2 2142.9h256.2v2.4h-256.2zM1687.2 2213.0h256.2v4.3h-256.2zM1687.2 2239.0h256.2v6.3h-256.2zM1687.2 2409.0h256.2v3.3h-256.2zM1687.2 2614.0h256.2v4.3h-256.2zM1942.8 1960.0h256.2v1.3h-256.2zM1942.8 1961.0h256.2v3.3h-256.2zM1942.8 2445.0h256.2v6.3h-256.2z"/>
<path fill="#f87c5e" d="M664.5 853.0h256.2v4.3h-256.2zM664.5 860.0h256.2v3.3h-256.2zM664.5 932.0h256.2v5.3h-256.2zM664.5 995.0h256.2v6.3h-256.2zM664.5 1033.0h256.2v5.3h-256.2zM664.5 1166.0h256.2v3.3h-256.2zM664.5 1173.0h256.2v4.3h-256.2zM664.5 1292.0h256.2v2.3h-256.2zM664.5 1300.0h256.2v4.3h-256.2zM664.5 1308.0h256.2v6.3h-256.2zM664.5 1469.0h256.2v6.3h-256.2zM664.5 1493.0h256.2v4.3h-256.2zM664.5 1605.0h256.2v3.3h-256.2zM664.5 1725.0h256.2v2.3h-256.2zM920.2 929.0h256.2v3.3h-256.2zM920.2 1004.0h256.2v1.3h-256.2zM920.2 1056.0h256.2v4.3h-256.2zM920.2 1189.0h256.2v5.3h-256.2zM920.2 1222.0h256.2v4.3h-256.2zM920.2 1235.0h256.2v3.3h-256.2zM920.2 1308.0h256.2v6.3h-256.2zM920.2 1441.0h256.2v6.3h-256.2zM920.2 1478.0h256.2v3.3h-256.2zM920.2 1481.0h256.2v4.3h-256.2zM920.2 1705.0h256.2v3.3h-256.2zM920.2 1708.0h256.2v1.3h-256.2zM1175.8 820.0h256.2v3.3h-256.2zM1175.8 995.0h256.2v6.3h-256.2zM1175.8 1108.0h256.2v4.3h-256.2zM1175.8 1121.0h256.2v4.3h-256.2zM1175.8 1131.0h256.2v4.3h-256.2zM1175.8 1235.0h256.2v3.3h-256.2zM1175.8 1245.0h256.2v4.3h-256.2zM1175.8 1249.0h256.2v6.3h-256.2zM1175.8 1261.0h256.2v3.3h-256.2zM1175.8 1300.0h256.2v4.3h-256.2zM1175.8 1339.0h256.2v3.3h-256.2zM1175.8 1481.0h256.2v4.3h-256.2zM1175.8 1520.0h256.2v5.3h-256.2zM1175.8 1604.0h256.2v1.3h-256.2zM1175.8 1608.0h256.2v4.3h-256.2zM1175.8 1682.0h256.2v4.9h-256.2zM1175.8 1705.0h256.2v3.3h-256.2zM1431.5 1786.0h256.2v1.0h-256.2zM1431.5 1868.0h256.2v5.3h-256.2zM1431.5 1897.0h256.2v5.3h-256.2zM1431.5 1902.0h256.2v4.3h-256.2zM1431.5 1993.0h256.2v4.3h-256.2zM1431.5 2045.0h256.2v5.3h-256.2zM1431.5 2072.0h256.2v6.3h-256.2zM1431.5 2193.0h256.2v2.3h-256.2zM1431.5 2201.9h256.2v1.4h-256.2zM1431.5 2207.0h256.2v6.3h-256.2zM1431.5 2313.0h256.2v5.3h-256.2zM1431.5 2439.0h256.2v2.3h-256.2zM1687.2 1800.0h256.2v3.3h-256.2zM1687.2 1832.0h256.2v5.3h-256.2zM1687.2 1894.0h256.2v3.3h-256.2zM1687.2 1936.0h256.2v3.3h-256.2zM1687.2 1955.0h256.2v5.3h-256.2zM1687.2 1964.0h256.2v0.9h-256.2zM1687.2 1978.3h256.2v1.0h-256.2zM1687.2 2011.0h256.2v4.3h-256.2zM1687.2 2019.4h256.2v1.9h-256.2zM1687.2 2038.0h256.2v3.3h-256.2zM1687.2 2087.0h256.2v3.3h-256.2zM1687.2 2110.0h256.2v4.3h-256.2zM1687.2 2163.0h256.2v3.3h-256.2zM1687.2 2259.0h256.2v6.3h-256.2zM1687.2 2281.0h256.2v4.3h-256.2zM1687.2 2338.0h256.2v4.3h-256.2zM1687.2 2412.0h256.2v3.3h-256.2zM1942.8 1979.0h256.2v3.3h-256.2zM1942.8 2097.0h256.2v3.3h-256.2zM1942.8 2233.0h256.2v3.3h-256.2zM1942.8 2265.0h256.2v3.3h-256.2zM1942.8 2275.0h256.2v2.3h-256.2zM1942.8 2300.0h256.2v5.3h-256.2zM1942.8 2581.0h256.2v3.3h-256.2z"/>
<path fill="#f87a5c" d="M664.5 863.0h256.2v3.3h-256.2zM664.5 929.0h256.2v3.3h-256.2zM664.5 940.0h256.2v4.3h-256.2zM664.5 964.0h256.2v4.3h-256.2zM664.5 1011.0h256.2v5.3h-256.2zM664.5 1081.0h256.2v3.3h-256.2zM664.5 1169.0h256.2v4.3h-256.2zM664.5 1189.0h256.2v5.3h-256.2zM664.5 1255.0h256.2v6.3h-256.2zM664.5 1347.0h256.2v3.3h-256.2zM664.5 1457.0h256.2v3.3h-256.2zM664.5 1608.0h256.2v4.3h-256.2zM664.5 1622.0h256.2v3.3h-256.2zM664.5 1735.0h256.2v3.3h-256.2zM664.5 1748.0h256.2v1.3h-256.2zM664.5 1749.0h256.2v4.3h-256.2zM920.2 883.0h256.2v0.6h-256.2zM920.2 973.0h256.2v6.3h-256.2zM920.2 1005.0h256.2v3.3h-256.2zM920.2 1033.0h256.2v5.3h-256.2zM920.2 1068.0h256.2v5.3h-256.2zM920.2 1162.0h256.2v4.3h-256.2zM920.2 1347.0h256.2v3.3h-256.2zM920.2 1460.0h256.2v3.3h-256.2zM920.2 1469.0h256.2v6.3h-256.2zM920.2 1678.0h256.2v4.3h-256.2zM920.2 1721.0h256.2v1.3h-256.2zM1175.8 803.0h256.2v6.3h-256.2zM1175.8 840.0h256.2v3.3h-256.2zM1175.8 1088.0h256.2v3.3h-256.2zM1175.8 1238.0h256.2v3.3h-256.2zM1175.8 1318.0h256.2v5.9h-256.2zM1175.8 1342.0h256.2v5.3h-256.2zM1175.8 1475.0h256.2v3.3h-256.2zM1175.8 1516.0h256.2v4.3h-256.2zM1175.8 1727.0h256.2v4.3h-256.2zM1431.5 1877.0h256.2v3.3h-256.2zM1431.5 1926.0h256.2v4.3h-256.2zM1431.5 2055.0h256.2v3.3h-256.2zM1431.5 2087.0h256.2v3.3h-256.2zM1431.5 2090.0h256.2v4.3h-256.2zM1431.5 2107.0h256.2v3.3h-256.2zM1431.5 2110.0h256.2v4.3h-256.2zM1431.5 2172.0h256.2v3.3h-256.2zM1431.5 2535.0h256.2v5.3h-256.2zM1431.5 2545.0h256.2v3.3h-256.2zM1687.2 1843.9h256.2v1.4h-256.2zM1687.2 1864.0h256.2v4.3h-256.2zM1687.2 1930.0h256.2v6.3h-256.2zM1687.2 1942.0h256.2v5.3h-256.2zM1687.2 1961.0h256.2v3.3h-256.2zM1687.2 2055.0h256.2v3.3h-256.2zM1687.2 2081.0h256.2v6.3h-256.2zM1687.2 2103.0h256.2v4.3h-256.2zM1687.2 2297.0h256.2v3.3h-256.2zM1687.2 2313.0h256.2v5.3h-256.2zM1942.8 1858.0h256.2v6.3h-256.2zM1942.8 1864.0h256.2v4.3h-256.2zM1942.8 1873.0h256.2v3.2h-256.2zM1942.8 2072.0h256.2v6.3h-256.2zM1942.8 2166.0h256.2v3.3h-256.2zM1942.8 2204.0h256.2v3.3h-256.2zM1942.8 2367.0h256.2v3.3h-256.2zM1942.8 2567.0h256.2v5.3h-256.2zM1942.8 2572.0h256.2v4.3h-256.2zM1942.8 2590.0h256.2v5.3h-256.2z"/>
<path fill="#ec5548" d="M664.5 869.6h256.2v1.7h-256.2zM664.5 906.0h256.2v3.3h-256.2zM664.5 914.0h256.2v3.9h-256.2zM664.5 1525.0h256.2v1.9h-256.2zM664.5 1584.0h256.2v5.3h-256.2zM1942.8 2094.0h256.2v3.3h-256.2zM1942.8 2141.0h256.2v4.3h-256.2zM1942.8 2540.0h256.2v5.3h-256.2z"/>
<path fill="#ee5849" d="M664.5 871.0h256.2v4.3h-256.2zM664.5 1324.0h256.2v2.3h-256.2zM664.5 1589.0h256.2v4.3h-256.2zM664.5 1627.0h256.2v1.3h-256.2zM1175.8 1543.0h256.2v5.3h-256.2zM1431.5 1949.0h256.2v2.3h-256.2zM1431.5 2127.0h256.2v6.3h-256.2zM1431.5 2412.0h256.2v3.3h-256.2zM1431.5 2645.0h256.2v4.3h-256.2zM1687.2 2478.0h256.2v3.3h-256.2zM1687.2 2487.0h256.2v4.3h-256.2zM1687.2 2665.0h256.2v0.7h-256.2zM1942.8 1811.9h256.2v2.4h-256.2zM1942.8 1832.0h256.2v5.3h-256.2zM1942.8 1845.0h256.2v3.7h-256.2zM1942.8 2028.6h256.2v2.7h-256.2zM1942.8 2154.0h256.2v6.3h-256.2zM1942.8 2342.0h256.2v6.3h-256.2zM1942.8 2375.0h256.2v3.2h-256.2zM1942.8 2535.0h256.2v5.3h-256.2z"/>
<path fill="#eb5246" d="M664.5 875.0h256.2v0.8h-256.2zM664.5 1631.0h256.2v3.3h-256.2zM1175.8 1423.0h256.2v1.3h-256.2zM1175.8 1741.0h256.2v4.3h-256.2zM1431.5 2120.0h256.2v4.3h-256.2zM1942.8 1823.0h256.2v3.3h-256.2zM1942.8 1840.0h256.2v5.3h-256.2zM1942.8 2038.0h256.2v3.3h-256.2zM1942.8 2087.0h256.2v3.3h-256.2zM1942.8 2151.0h256.2v3.3h-256.2zM1942.8 2548.0h256.2v6.3h-256.2z"/>
<path fill="#fdceb6" d="M664.5 875.5h256.2v2.8h-256.2zM920.2 1709.0h256.2v5.3h-256.2zM1687.2 803.3h256.2v5.0h-256.2zM1687.2 853.0h256.2v4.3h-256.2z"/>
<path fill="#fdc7ad" d="M664.5 878.0h256.2v3.3h-256.2zM664.5 1578.0h256.2v6.0h-256.2zM920.2 1662.0h256.2v5.3h-256.2zM920.2 1718.0h256.2v3.3h-256.2zM1687.2 857.0h256.2v1.3h-256.2z"/>
<path fill="#d73035" d="M664.5 881.0h256.2v2.3h-256.2zM664.5 883.0h256.2v3.3h-256.2zM1431.5 2470.0h256.2v3.3h-256.2zM1942.8 2395.0h256.2v3.3h-256.2z"/>
<path fill="#c21a2a" d="M664.5 886.0h256.2v3.3h-256.2z"/>
<path fill="#d02630" d="M664.5 889.0h256.2v1.3h-256.2zM1431.5 2464.0h256.2v2.3h-256.2z"/>
<path fill="#e2403e" d="M664.5 890.0h256.2v5.3h-256.2zM664.5 1761.0h256.2v3.3h-256.2zM1431.5 2450.6h256.2v0.7h-256.2zM1431.5 2473.0h256.2v3.0h-256.2zM1687.2 2640.3h256.2v2.0h-256.2zM1687.2 2642.0h256.2v3.3h-256.2zM1942.8 2383.0h256.2v5.3h-256.2zM1942.8 2514.0h256.2v3.3h-256.2zM1942.8 2521.0h256.2v4.3h-256.2z"/>
<path fill="#e54641" d="M664.5 895.0h256.2v6.3h-256.2zM1175.8 1714.0h256.2v4.3h-256.2zM1431.5 2633.4h256.2v2.9h-256.2zM1431.5 2642.0h256.2v3.2h-256.2zM1687.2 2581.0h256.2v3.3h-256.2zM1942.8 2050.0h256.2v1.7h-256.2zM1942.8 2145.0h256.2v6.3h-256.2zM1942.8 2377.9h256.2v0.4h-256.2zM1942.8 2378.0h256.2v5.3h-256.2zM1942.8 2525.0h256.2v5.3h-256.2zM1942.8 2530.0h256.2v5.3h-256.2zM1942.8 2554.0h256.2v4.3h-256.2z"/>
<path fill="#ef5b4a" d="M664.5 901.0h256.2v5.3h-256.2zM664.5 1121.0h256.2v4.3h-256.2zM664.5 1198.0h256.2v1.3h-256.2zM664.5 1319.0h256.2v5.3h-256.2zM664.5 1520.0h256.2v5.3h-256.2zM664.5 1678.0h256.2v4.3h-256.2zM920.2 1507.0h256.2v1.3h-256.2zM1431.5 2562.0h256.2v5.3h-256.2zM1687.2 1794.0h256.2v2.2h-256.2zM1942.8 2045.0h256.2v5.3h-256.2zM1942.8 2083.4h256.2v3.9h-256.2zM1942.8 2665.0h256.2v3.3h-256.2zM1942.8 2668.0h256.2v3.3h-256.2z"/>
<path fill="#f05e4c" d="M664.5 909.0h256.2v5.3h-256.2zM664.5 1135.0h256.2v4.3h-256.2zM664.5 1150.0h256.2v5.3h-256.2zM664.5 1289.0h256.2v3.3h-256.2zM664.5 1517.4h256.2v2.9h-256.2zM920.2 995.0h256.2v6.3h-256.2zM920.2 1324.0h256.2v4.3h-256.2zM920.2 1493.0h256.2v4.3h-256.2zM920.2 1501.0h256.2v3.3h-256.2zM1175.8 1745.0h256.2v1.3h-256.2zM1431.5 2133.0h256.2v4.3h-256.2zM1431.5 2405.0h256.2v1.3h-256.2zM1431.5 2560.3h256.2v2.0h-256.2zM1431.5 2644.9h256.2v0.4h-256.2zM1687.2 2398.4h256.2v4.9h-256.2zM1942.8 1814.0h256.2v5.3h-256.2zM1942.8 1887.0h256.2v5.3h-256.2zM1942.8 1892.0h256.2v5.3h-256.2zM1942.8 1906.0h256.2v6.3h-256.2zM1942.8 1926.0h256.2v4.3h-256.2zM1942.8 2327.6h256.2v0.7h-256.2zM1942.8 2348.0h256.2v5.3h-256.2zM1942.8 2358.0h256.2v4.3h-256.2z"/>
<path fill="#d93337" d="M664.5 917.6h256.2v1.7h-256.2zM1942.8 2618.0h256.2v3.3h-256.2z"/>
<path fill="#e4433f" d="M664.5 919.0h256.2v4.3h-256.2zM664.5 1380.0h256.2v4.3h-256.2zM1431.5 2466.0h256.2v4.3h-256.2zM1687.2 2496.3h256.2v1.0h-256.2zM1687.2 2497.0h256.2v5.3h-256.2zM1942.8 1770.0h256.2v6.3h-256.2zM1942.8 1776.0h256.2v4.3h-256.2zM1942.8 1826.0h256.2v6.3h-256.2zM1942.8 2505.4h256.2v0.9h-256.2zM1942.8 2517.0h256.2v4.3h-256.2zM1942.8 2614.0h256.2v4.3h-256.2zM1942.8 2630.0h256.2v3.3h-256.2z"/>
<path fill="#de393a" d="M664.5 923.0h256.2v3.3h-256.2zM664.5 1376.0h256.2v4.3h-256.2zM920.2 840.0h256.2v3.3h-256.2zM920.2 1570.0h256.2v1.3h-256.2zM920.2 1571.0h256.2v3.3h-256.2zM920.2 1574.0h256.2v4.3h-256.2zM920.2 1578.0h256.2v6.3h-256.2zM1175.8 1718.0h256.2v4.3h-256.2zM1175.8 1722.0h256.2v1.3h-256.2zM1942.8 1780.0h256.2v6.3h-256.2zM1942.8 1786.0h256.2v3.3h-256.2zM1942.8 2398.0h256.2v0.7h-256.2zM1942.8 2633.0h256.2v0.7h-256.2z"/>
<path fill="#e03d3c" d="M664.5 926.0h256.2v3.3h-256.2zM664.5 1384.0h256.2v1.3h-256.2zM664.5 1764.0h256.2v2.3h-256.2zM920.2 1584.0h256.2v2.3h-256.2zM1687.2 2576.3h256.2v5.0h-256.2zM1687.2 2645.0h256.2v4.3h-256.2zM1942.8 2388.0h256.2v3.3h-256.2zM1942.8 2391.0h256.2v4.3h-256.2z"/>
<path fill="#fa8161" d="M664.5 944.0h256.2v4.3h-256.2zM664.5 1463.0h256.2v3.3h-256.2zM664.5 1478.0h256.2v3.3h-256.2zM664.5 1718.0h256.2v4.3h-256.2zM664.5 1753.0h256.2v4.3h-256.2zM920.2 826.0h256.2v1.3h-256.2zM920.2 849.0h256.2v4.3h-256.2zM920.2 1008.0h256.2v3.3h-256.2zM920.2 1047.0h256.2v4.3h-256.2zM920.2 1051.0h256.2v5.3h-256.2zM920.2 1073.0h256.2v4.3h-256.2zM920.2 1077.0h256.2v2.3h-256.2zM920.2 1339.0h256.2v3.3h-256.2zM920.2 1357.0h256.2v3.3h-256.2zM920.2 1548.0h256.2v4.0h-256.2zM920.2 1597.0h256.2v4.3h-256.2zM920.2 1691.0h256.2v2.3h-256.2zM1175.8 832.0h256.2v3.3h-256.2zM1175.8 835.0h256.2v5.3h-256.2zM1175.8 889.0h256.2v6.3h-256.2zM1175.8 919.0h256.2v4.3h-256.2zM1175.8 937.0h256.2v3.3h-256.2zM1175.8 1139.0h256.2v5.3h-256.2zM1175.8 1189.0h256.2v5.3h-256.2zM1175.8 1217.0h256.2v5.3h-256.2zM1175.8 1222.0h256.2v4.3h-256.2zM1175.8 1267.0h256.2v6.3h-256.2zM1175.8 1279.0h256.2v4.3h-256.2zM1175.8 1478.0h256.2v3.3h-256.2zM1175.8 1485.0h256.2v5.3h-256.2zM1175.8 1605.0h256.2v3.3h-256.2zM1175.8 1622.0h256.2v3.3h-256.2zM1175.8 1634.0h256.2v4.3h-256.2zM1431.5 1780.0h256.2v6.3h-256.2zM1431.5 1987.4h256.2v0.9h-256.2zM1431.5 2007.0h256.2v4.3h-256.2zM1431.5 2011.0h256.2v4.3h-256.2zM1431.5 2024.0h256.2v3.3h-256.2zM1431.5 2236.0h256.2v3.3h-256.2zM1431.5 2239.0h256.2v6.3h-256.2zM1431.5 2251.0h256.2v3.3h-256.2zM1431.5 2254.0h256.2v5.3h-256.2zM1431.5 2275.0h256.2v3.3h-256.2zM1431.5 2285.0h256.2v3.3h-256.2zM1431.5 2521.4h256.2v3.9h-256.2zM1687.2 2100.0h256.2v3.3h-256.2zM1687.2 2160.0h256.2v3.3h-256.2zM1687.2 2166.0h256.2v3.3h-256.2zM1687.2 2190.0h256.2v3.3h-256.2zM1687.2 2193.0h256.2v2.3h-256.2zM1687.2 2195.0h256.2v3.3h-256.2zM1687.2 2236.0h256.2v3.3h-256.2zM1942.8 1993.0h256.2v4.3h-256.2zM1942.8 2107.0h256.2v3.3h-256.2zM1942.8 2198.0h256.2v5.3h-256.2z"/>
<path fill="#fb8d6c" d="M664.5 948.0h256.2v3.3h-256.2zM664.5 1367.0h256.2v6.3h-256.2zM664.5 1373.0h256.2v3.3h-256.2zM664.5 1417.0h256.2v1.3h-256.2zM664.5 1433.0h256.2v4.3h-256.2zM664.5 1565.0h256.2v3.0h-256.2zM664.5 1653.0h256.2v3.3h-256.2zM664.5 1690.0h256.2v1.3h-256.2zM664.5 1738.7h256.2v2.6h-256.2zM920.2 815.0h256.2v5.3h-256.2zM920.2 827.0h256.2v5.3h-256.2zM920.2 832.0h256.2v3.3h-256.2zM920.2 835.0h256.2v2.9h-256.2zM920.2 1064.0h256.2v4.3h-256.2zM920.2 1112.0h256.2v5.3h-256.2zM920.2 1169.0h256.2v4.3h-256.2zM920.2 1198.0h256.2v1.3h-256.2zM920.2 1207.0h256.2v6.3h-256.2zM920.2 1213.0h256.2v4.3h-256.2zM920.2 1226.0h256.2v5.3h-256.2zM920.2 1245.0h256.2v4.3h-256.2zM920.2 1332.7h256.2v2.6h-256.2zM920.2 1342.0h256.2v5.3h-256.2zM920.2 1405.9h256.2v1.4h-256.2zM920.2 1525.0h256.2v1.9h-256.2zM920.2 1559.0h256.2v6.3h-256.2zM920.2 1593.0h256.2v4.3h-256.2zM920.2 1764.0h256.2v2.3h-256.2zM1175.8 1144.0h256.2v3.3h-256.2zM1175.8 1169.0h256.2v4.3h-256.2zM1175.8 1631.0h256.2v3.3h-256.2zM1431.5 2001.0h256.2v6.3h-256.2zM1431.5 2021.0h256.2v3.3h-256.2zM1431.5 2154.0h256.2v6.3h-256.2zM1431.5 2163.0h256.2v3.3h-256.2zM1431.5 2268.0h256.2v4.3h-256.2zM1431.5 2288.0h256.2v4.3h-256.2zM1431.5 2318.0h256.2v4.3h-256.2zM1431.5 2475.7h256.2v2.6h-256.2zM1431.5 2481.0h256.2v3.3h-256.2zM1431.5 2599.0h256.2v5.3h-256.2zM1431.5 2611.0h256.2v3.3h-256.2zM1431.5 2665.0h256.2v3.3h-256.2zM1687.2 1967.0h256.2v4.3h-256.2zM1687.2 2007.0h256.2v4.3h-256.2zM1687.2 2124.0h256.2v3.3h-256.2zM1687.2 2406.0h256.2v3.3h-256.2zM1687.2 2451.0h256.2v5.3h-256.2zM1942.8 2278.0h256.2v3.3h-256.2zM1942.8 2281.0h256.2v4.3h-256.2z"/>
<path fill="#fb9070" d="M664.5 951.0h256.2v2.3h-256.2zM664.5 1355.6h256.2v1.7h-256.2zM664.5 1360.0h256.2v4.3h-256.2zM664.5 1543.0h256.2v2.2h-256.2zM664.5 1641.0h256.2v3.3h-256.2zM664.5 1682.0h256.2v5.3h-256.2zM664.5 1687.0h256.2v3.3h-256.2zM920.2 1147.0h256.2v3.3h-256.2zM920.2 1249.0h256.2v6.3h-256.2zM920.2 1283.0h256.2v6.3h-256.2zM920.2 1318.0h256.2v5.9h-256.2zM920.2 1350.0h256.2v4.3h-256.2zM920.2 1520.0h256.2v5.3h-256.2zM920.2 1693.0h256.2v3.3h-256.2zM1175.8 798.7h256.2v0.6h-256.2zM1175.8 809.0h256.2v3.3h-256.2zM1175.8 901.0h256.2v5.3h-256.2zM1175.8 1147.0h256.2v3.3h-256.2zM1175.8 1162.0h256.2v4.3h-256.2zM1175.8 1264.0h256.2v3.3h-256.2zM1175.8 1601.0h256.2v3.3h-256.2zM1175.8 1656.0h256.2v3.3h-256.2zM1175.8 1678.0h256.2v4.3h-256.2zM1431.5 2015.0h256.2v3.3h-256.2zM1431.5 2142.9h256.2v2.4h-256.2zM1431.5 2180.0h256.2v4.3h-256.2zM1431.5 2325.0h256.2v2.9h-256.2zM1431.5 2391.0h256.2v4.3h-256.2zM1431.5 2441.0h256.2v4.3h-256.2zM1431.5 2484.0h256.2v3.3h-256.2zM1431.5 2671.0h256.2v3.8h-256.2zM1687.2 1975.0h256.2v3.6h-256.2zM1687.2 2078.0h256.2v3.3h-256.2zM1687.2 2151.0h256.2v3.3h-256.2zM1687.2 2207.0h256.2v6.3h-256.2zM1687.2 2383.0h256.2v5.3h-256.2zM1687.2 2395.0h256.2v3.3h-256.2zM1687.2 2456.0h256.2v5.3h-256.2zM1687.2 2585.4h256.2v4.9h-256.2z"/>
<path fill="#f97f60" d="M664.5 953.0h256.2v3.3h-256.2zM664.5 959.0h256.2v5.3h-256.2zM664.5 968.0h256.2v5.3h-256.2zM664.5 973.0h256.2v6.3h-256.2zM664.5 982.0h256.2v3.3h-256.2zM664.5 1008.0h256.2v3.3h-256.2zM664.5 1025.0h256.2v5.3h-256.2zM664.5 1091.0h256.2v6.3h-256.2zM664.5 1157.0h256.2v2.3h-256.2zM664.5 1294.0h256.2v6.3h-256.2zM664.5 1424.0h256.2v3.3h-256.2zM664.5 1437.0h256.2v4.3h-256.2zM664.5 1490.0h256.2v3.3h-256.2zM664.5 1497.0h256.2v4.3h-256.2zM920.2 796.0h256.2v3.0h-256.2zM920.2 857.0h256.2v3.3h-256.2zM920.2 1011.0h256.2v5.3h-256.2zM920.2 1030.0h256.2v3.3h-256.2zM920.2 1060.0h256.2v4.3h-256.2zM920.2 1255.0h256.2v6.3h-256.2zM920.2 1335.0h256.2v4.3h-256.2zM920.2 1364.0h256.2v1.0h-256.2zM920.2 1437.0h256.2v4.3h-256.2zM920.2 1447.0h256.2v4.3h-256.2zM920.2 1457.0h256.2v3.3h-256.2zM920.2 1475.0h256.2v3.3h-256.2zM920.2 1530.0h256.2v4.3h-256.2zM920.2 1608.0h256.2v4.3h-256.2zM920.2 1618.0h256.2v4.3h-256.2zM1175.8 827.0h256.2v5.3h-256.2zM1175.8 843.0h256.2v1.7h-256.2zM1175.8 876.4h256.2v1.9h-256.2zM1175.8 895.0h256.2v6.3h-256.2zM1175.8 929.0h256.2v3.3h-256.2zM1175.8 932.0h256.2v5.3h-256.2zM1175.8 959.0h256.2v1.3h-256.2zM1175.8 1084.0h256.2v1.3h-256.2zM1175.8 1117.0h256.2v4.3h-256.2zM1175.8 1135.0h256.2v4.3h-256.2zM1175.8 1231.0h256.2v4.3h-256.2zM1175.8 1294.0h256.2v6.3h-256.2zM1175.8 1335.0h256.2v4.3h-256.2zM1175.8 1347.0h256.2v3.3h-256.2zM1175.8 1350.0h256.2v4.3h-256.2zM1175.8 1441.0h256.2v6.3h-256.2zM1175.8 1530.0h256.2v4.3h-256.2zM1175.8 1612.0h256.2v6.3h-256.2zM1175.8 1638.0h256.2v3.3h-256.2zM1431.5 1855.0h256.2v3.3h-256.2zM1431.5 2027.0h256.2v1.9h-256.2zM1431.5 2042.3h256.2v3.0h-256.2zM1431.5 2058.0h256.2v4.3h-256.2zM1431.5 2078.0h256.2v3.3h-256.2zM1431.5 2081.0h256.2v6.3h-256.2zM1431.5 2220.0h256.2v5.3h-256.2zM1431.5 2230.0h256.2v3.3h-256.2zM1431.5 2292.0h256.2v5.3h-256.2zM1431.5 2525.0h256.2v5.3h-256.2zM1431.5 2530.0h256.2v5.3h-256.2zM1431.5 2540.0h256.2v5.3h-256.2zM1431.5 2658.6h256.2v2.7h-256.2zM1687.2 1811.0h256.2v3.3h-256.2zM1687.2 1819.0h256.2v4.3h-256.2zM1687.2 1840.0h256.2v4.2h-256.2zM1687.2 1902.0h256.2v4.3h-256.2zM1687.2 1960.0h256.2v1.3h-256.2zM1687.2 2041.0h256.2v4.3h-256.2zM1687.2 2169.0h256.2v3.3h-256.2zM1687.2 2203.0h256.2v4.3h-256.2zM1687.2 2217.0h256.2v3.3h-256.2zM1687.2 2254.0h256.2v5.3h-256.2zM1687.2 2278.0h256.2v3.3h-256.2zM1687.2 2318.0h256.2v4.3h-256.2zM1687.2 2419.0h256.2v5.3h-256.2zM1942.8 1975.0h256.2v4.3h-256.2zM1942.8 2007.0h256.2v4.3h-256.2zM1942.8 2018.0h256.2v3.3h-256.2zM1942.8 2024.0h256.2v3.3h-256.2zM1942.8 2100.0h256.2v3.3h-256.2zM1942.8 2103.0h256.2v4.3h-256.2zM1942.8 2195.0h256.2v3.3h-256.2zM1942.8 2203.0h256.2v1.3h-256.2zM1942.8 2225.0h256.2v5.3h-256.2zM1942.8 2305.0h256.2v4.3h-256.2zM1942.8 2558.0h256.2v4.3h-256.2zM1942.8 2584.0h256.2v6.3h-256.2z"/>
<path fill="#f8775a" d="M664.5 979.0h256.2v3.3h-256.2zM664.5 985.0h256.2v1.3h-256.2zM664.5 1038.0h256.2v3.3h-256.2zM664.5 1177.0h256.2v3.3h-256.2zM664.5 1249.0h256.2v6.3h-256.2zM664.5 1261.0h256.2v3.3h-256.2zM664.5 1264.0h256.2v3.3h-256.2zM664.5 1304.0h256.2v4.3h-256.2zM664.5 1314.0h256.2v4.3h-256.2zM664.5 1451.0h256.2v3.3h-256.2zM664.5 1466.0h256.2v3.3h-256.2zM920.2 956.0h256.2v3.3h-256.2zM920.2 979.0h256.2v3.3h-256.2zM920.2 990.0h256.2v5.3h-256.2zM920.2 1001.0h256.2v3.3h-256.2zM920.2 1045.0h256.2v2.3h-256.2zM920.2 1085.0h256.2v3.3h-256.2zM920.2 1194.0h256.2v4.3h-256.2zM920.2 1427.0h256.2v6.3h-256.2zM920.2 1485.0h256.2v5.3h-256.2zM920.2 1526.6h256.2v3.7h-256.2zM920.2 1534.0h256.2v3.3h-256.2zM920.2 1543.0h256.2v5.3h-256.2zM920.2 1605.0h256.2v3.3h-256.2zM920.2 1644.0h256.2v4.3h-256.2zM920.2 1648.0h256.2v5.3h-256.2zM1175.8 1100.0h256.2v3.3h-256.2zM1175.8 1112.0h256.2v5.3h-256.2zM1175.8 1184.6h256.2v1.7h-256.2zM1175.8 1207.0h256.2v6.3h-256.2zM1175.8 1226.0h256.2v5.3h-256.2zM1175.8 1447.0h256.2v4.3h-256.2zM1175.8 1454.0h256.2v1.3h-256.2zM1175.8 1525.0h256.2v5.3h-256.2zM1175.8 1625.0h256.2v3.3h-256.2zM1431.5 1930.0h256.2v6.3h-256.2zM1431.5 1979.0h256.2v3.3h-256.2zM1431.5 2068.0h256.2v4.3h-256.2zM1431.5 2094.0h256.2v3.3h-256.2zM1687.2 1823.0h256.2v3.3h-256.2zM1687.2 1826.0h256.2v6.3h-256.2zM1687.2 1855.0h256.2v3.3h-256.2zM1687.2 1897.0h256.2v5.3h-256.2zM1687.2 1915.0h256.2v5.3h-256.2zM1687.2 1920.0h256.2v3.3h-256.2zM1687.2 1951.0h256.2v4.3h-256.2zM1687.2 1982.0h256.2v6.3h-256.2zM1687.2 2034.0h256.2v4.3h-256.2zM1687.2 2090.0h256.2v4.3h-256.2zM1687.2 2198.0h256.2v5.3h-256.2zM1687.2 2245.0h256.2v5.2h-256.2zM1687.2 2275.0h256.2v3.3h-256.2zM1687.2 2309.0h256.2v4.3h-256.2zM1687.2 2511.0h256.2v3.3h-256.2zM1942.8 1936.0h256.2v3.3h-256.2zM1942.8 2021.0h256.2v3.3h-256.2zM1942.8 2027.0h256.2v1.9h-256.2zM1942.8 2051.4h256.2v3.9h-256.2zM1942.8 2058.0h256.2v4.3h-256.2zM1942.8 2068.0h256.2v4.3h-256.2zM1942.8 2114.0h256.2v6.3h-256.2zM1942.8 2124.0h256.2v3.3h-256.2zM1942.8 2137.0h256.2v3.9h-256.2zM1942.8 2213.0h256.2v4.3h-256.2zM1942.8 2230.0h256.2v3.3h-256.2zM1942.8 2239.0h256.2v6.3h-256.2zM1942.8 2268.0h256.2v4.3h-256.2zM1942.8 2272.0h256.2v3.3h-256.2zM1942.8 2309.0h256.2v4.3h-256.2zM1942.8 2456.0h256.2v5.3h-256.2zM1942.8 2471.0h256.2v2.3h-256.2zM1942.8 2473.0h256.2v5.3h-256.2zM1942.8 2502.0h256.2v3.7h-256.2zM1942.8 2576.0h256.2v5.3h-256.2z"/>
<path fill="#fc9676" d="M664.5 986.0h256.2v4.3h-256.2zM664.5 1085.0h256.2v3.3h-256.2zM664.5 1559.0h256.2v6.3h-256.2zM920.2 853.0h256.2v4.3h-256.2zM920.2 1121.0h256.2v4.3h-256.2zM920.2 1139.0h256.2v5.3h-256.2zM920.2 1279.0h256.2v4.3h-256.2zM920.2 1294.0h256.2v6.3h-256.2zM920.2 1376.0h256.2v4.3h-256.2zM920.2 1411.0h256.2v3.3h-256.2zM920.2 1423.0h256.2v1.3h-256.2zM920.2 1508.0h256.2v3.3h-256.2zM920.2 1753.0h256.2v4.3h-256.2zM1175.8 860.0h256.2v3.3h-256.2zM1175.8 863.0h256.2v3.3h-256.2zM1175.8 1024.6h256.2v0.7h-256.2zM1175.8 1038.0h256.2v3.3h-256.2zM1175.8 1060.0h256.2v4.3h-256.2zM1175.8 1273.0h256.2v6.3h-256.2zM1175.8 1507.0h256.2v4.3h-256.2zM1175.8 1686.6h256.2v0.7h-256.2zM1431.5 2028.6h256.2v2.7h-256.2zM1431.5 2345.9h256.2v2.4h-256.2zM1431.5 2572.0h256.2v4.3h-256.2zM1431.5 2661.0h256.2v4.3h-256.2zM1687.2 1776.0h256.2v4.3h-256.2zM1687.2 2137.0h256.2v4.3h-256.2zM1687.2 2548.0h256.2v6.3h-256.2zM1687.2 2572.0h256.2v4.3h-256.2z"/>
<path fill="#f67257" d="M664.5 1045.0h256.2v6.3h-256.2zM664.5 1117.0h256.2v4.3h-256.2zM664.5 1186.0h256.2v3.3h-256.2zM664.5 1213.0h256.2v4.3h-256.2zM664.5 1235.0h256.2v3.3h-256.2zM664.5 1245.0h256.2v4.3h-256.2zM664.5 1283.0h256.2v2.3h-256.2zM664.5 1385.0h256.2v3.3h-256.2zM664.5 1388.0h256.2v3.3h-256.2zM664.5 1411.0h256.2v3.3h-256.2zM664.5 1618.0h256.2v4.3h-256.2zM664.5 1738.0h256.2v1.0h-256.2zM664.5 1757.0h256.2v2.3h-256.2zM920.2 940.0h256.2v4.3h-256.2zM920.2 944.0h256.2v4.3h-256.2zM920.2 1022.0h256.2v3.3h-256.2zM920.2 1025.0h256.2v5.3h-256.2zM920.2 1264.0h256.2v3.3h-256.2zM920.2 1328.0h256.2v3.3h-256.2zM920.2 1394.0h256.2v4.3h-256.2zM920.2 1398.0h256.2v4.3h-256.2zM920.2 1451.0h256.2v3.3h-256.2zM920.2 1454.0h256.2v3.3h-256.2zM920.2 1636.0h256.2v2.3h-256.2zM920.2 1641.0h256.2v3.3h-256.2zM920.2 1656.0h256.2v3.3h-256.2zM920.2 1722.0h256.2v3.3h-256.2zM1175.8 926.7h256.2v2.6h-256.2zM1175.8 1004.0h256.2v4.3h-256.2zM1175.8 1008.0h256.2v3.3h-256.2zM1175.8 1097.0h256.2v3.3h-256.2zM1175.8 1125.0h256.2v6.3h-256.2zM1175.8 1203.0h256.2v4.3h-256.2zM1175.8 1424.0h256.2v3.3h-256.2zM1175.8 1451.0h256.2v3.3h-256.2zM1175.8 1460.0h256.2v3.3h-256.2zM1175.8 1469.0h256.2v6.3h-256.2zM1175.8 1723.0h256.2v2.3h-256.2zM1175.8 1738.0h256.2v3.3h-256.2zM1175.8 1753.0h256.2v4.3h-256.2zM1431.5 1845.0h256.2v4.3h-256.2zM1431.5 1884.0h256.2v3.3h-256.2zM1431.5 1936.0h256.2v3.3h-256.2zM1431.5 1939.0h256.2v3.3h-256.2zM1431.5 1951.0h256.2v4.3h-256.2zM1431.5 1971.0h256.2v4.3h-256.2zM1431.5 1975.0h256.2v4.3h-256.2zM1431.5 2114.0h256.2v6.3h-256.2zM1431.5 2124.0h256.2v3.3h-256.2zM1431.5 2433.0h256.2v5.3h-256.2zM1431.5 2438.0h256.2v1.3h-256.2zM1687.2 1837.0h256.2v3.3h-256.2zM1687.2 1849.0h256.2v6.3h-256.2zM1687.2 1923.0h256.2v3.3h-256.2zM1687.2 2251.0h256.2v3.3h-256.2zM1687.2 2325.0h256.2v3.3h-256.2zM1687.2 2342.0h256.2v6.3h-256.2zM1687.2 2370.0h256.2v5.3h-256.2zM1942.8 1848.4h256.2v0.9h-256.2zM1942.8 1902.0h256.2v4.3h-256.2zM1942.8 1955.0h256.2v5.3h-256.2zM1942.8 1967.0h256.2v4.3h-256.2zM1942.8 1982.0h256.2v6.3h-256.2zM1942.8 1997.0h256.2v4.3h-256.2zM1942.8 2001.0h256.2v6.3h-256.2zM1942.8 2055.0h256.2v3.3h-256.2zM1942.8 2078.0h256.2v3.3h-256.2zM1942.8 2081.0h256.2v2.7h-256.2zM1942.8 2110.0h256.2v4.3h-256.2zM1942.8 2217.0h256.2v3.3h-256.2zM1942.8 2245.0h256.2v6.3h-256.2zM1942.8 2254.0h256.2v5.3h-256.2zM1942.8 2322.0h256.2v3.3h-256.2zM1942.8 2325.0h256.2v2.9h-256.2zM1942.8 2478.0h256.2v3.3h-256.2zM1942.8 2481.0h256.2v3.3h-256.2zM1942.8 2487.0h256.2v4.3h-256.2zM1942.8 2595.0h256.2v4.3h-256.2zM1942.8 2611.0h256.2v2.2h-256.2z"/>
<path fill="#fc9f7f" d="M664.5 1097.0h256.2v3.3h-256.2zM664.5 1364.0h256.2v3.3h-256.2zM664.5 1503.7h256.2v0.6h-256.2zM664.5 1504.0h256.2v3.3h-256.2zM664.5 1526.6h256.2v3.7h-256.2zM664.5 1741.0h256.2v4.3h-256.2zM920.2 822.0h256.2v1.3h-256.2zM920.2 1155.0h256.2v4.3h-256.2zM920.2 1384.0h256.2v3.9h-256.2zM920.2 1418.0h256.2v5.3h-256.2zM1175.8 846.0h256.2v3.3h-256.2zM1175.8 871.0h256.2v4.3h-256.2zM1175.8 875.0h256.2v1.7h-256.2zM1175.8 1033.0h256.2v5.3h-256.2zM1175.8 1077.0h256.2v4.3h-256.2zM1175.8 1504.0h256.2v3.3h-256.2zM1175.8 1571.0h256.2v3.3h-256.2zM1175.8 1593.0h256.2v4.3h-256.2zM1175.8 1641.0h256.2v3.3h-256.2zM1175.8 1648.0h256.2v5.3h-256.2zM1431.5 2334.0h256.2v4.3h-256.2zM1431.5 2358.0h256.2v4.3h-256.2zM1431.5 2362.0h256.2v5.3h-256.2zM1431.5 2378.0h256.2v5.3h-256.2zM1431.5 2567.0h256.2v5.3h-256.2zM1431.5 2590.0h256.2v5.3h-256.2zM1431.5 2604.0h256.2v3.3h-256.2zM1431.5 2614.0h256.2v4.3h-256.2zM1431.5 2618.0h256.2v3.3h-256.2zM1431.5 2652.0h256.2v3.3h-256.2zM1687.2 1892.0h256.2v2.3h-256.2zM1687.2 2133.0h256.2v4.3h-256.2zM1687.2 2535.0h256.2v5.3h-256.2zM1687.2 2604.0h256.2v3.3h-256.2zM1687.2 2611.0h256.2v3.3h-256.2zM1942.8 2412.0h256.2v3.3h-256.2zM1942.8 2419.0h256.2v5.3h-256.2z"/>
<path fill="#f1614e" d="M664.5 1112.0h256.2v5.3h-256.2zM920.2 1323.6h256.2v0.7h-256.2zM920.2 1331.0h256.2v2.0h-256.2zM1175.8 792.0h256.2v4.3h-256.2zM1175.8 956.0h256.2v3.3h-256.2zM1175.8 973.0h256.2v6.3h-256.2zM1175.8 1022.0h256.2v2.9h-256.2zM1175.8 1357.0h256.2v3.3h-256.2zM1175.8 1535.7h256.2v1.6h-256.2zM1175.8 1548.0h256.2v5.3h-256.2zM1431.5 2406.0h256.2v3.3h-256.2zM1687.2 2403.0h256.2v2.3h-256.2zM1687.2 2494.0h256.2v2.6h-256.2zM1942.8 1855.0h256.2v3.3h-256.2zM1942.8 2034.0h256.2v4.3h-256.2zM1942.8 2041.0h256.2v4.3h-256.2zM1942.8 2160.0h256.2v1.3h-256.2zM1942.8 2353.0h256.2v5.3h-256.2z"/>
<path fill="#e84c44" d="M664.5 1125.0h256.2v6.3h-256.2zM664.5 1583.7h256.2v0.6h-256.2zM664.5 1593.0h256.2v2.3h-256.2zM664.5 1634.0h256.2v2.3h-256.2zM920.2 837.6h256.2v2.7h-256.2zM920.2 843.0h256.2v3.3h-256.2zM920.2 846.0h256.2v3.3h-256.2zM1687.2 1789.0h256.2v1.3h-256.2zM1942.8 1837.0h256.2v3.3h-256.2zM1942.8 2140.6h256.2v0.7h-256.2z"/>
<path fill="#ea4f45" d="M664.5 1131.0h256.2v3.3h-256.2zM1431.5 2451.0h256.2v5.3h-256.2zM1431.5 2456.0h256.2v5.3h-256.2zM1431.5 2461.0h256.2v3.3h-256.2zM1942.8 1819.0h256.2v4.3h-256.2zM1942.8 2090.0h256.2v4.3h-256.2z"/>
<path fill="#fc9c7c" d="M664.5 1331.0h256.2v4.3h-256.2zM664.5 1511.0h256.2v5.3h-256.2zM664.5 1556.3h256.2v3.0h-256.2zM664.5 1696.0h256.2v5.3h-256.2zM920.2 1135.0h256.2v4.3h-256.2zM920.2 1159.0h256.2v0.7h-256.2zM920.2 1631.0h256.2v3.3h-256.2zM920.2 1749.0h256.2v4.3h-256.2zM920.2 1757.0h256.2v4.3h-256.2zM1175.8 853.0h256.2v4.3h-256.2zM1175.8 1041.0h256.2v4.3h-256.2zM1175.8 1324.0h256.2v4.3h-256.2zM1175.8 1578.0h256.2v6.3h-256.2zM1175.8 1584.0h256.2v5.3h-256.2zM1431.5 2375.0h256.2v3.3h-256.2zM1431.5 2383.0h256.2v5.3h-256.2zM1431.5 2395.0h256.2v1.3h-256.2zM1431.5 2478.0h256.2v3.3h-256.2zM1431.5 2581.0h256.2v3.3h-256.2zM1431.5 2668.0h256.2v3.3h-256.2zM1687.2 1884.0h256.2v3.3h-256.2zM1687.2 2377.9h256.2v0.4h-256.2zM1687.2 2378.0h256.2v5.3h-256.2zM1687.2 2562.0h256.2v5.3h-256.2zM1687.2 2595.0h256.2v4.3h-256.2zM1687.2 2621.0h256.2v4.3h-256.2z"/>
<path fill="#fdac8c" d="M664.5 1534.0h256.2v3.3h-256.2zM920.2 909.0h256.2v5.3h-256.2zM920.2 1628.0h256.2v3.3h-256.2zM920.2 1725.0h256.2v2.3h-256.2zM1175.8 1376.0h256.2v4.3h-256.2zM1175.8 1384.0h256.2v4.3h-256.2zM1175.8 1388.0h256.2v3.3h-256.2zM1175.8 1398.0h256.2v4.3h-256.2zM1175.8 1570.0h256.2v1.3h-256.2zM1431.5 1764.0h256.2v3.3h-256.2zM1431.5 2621.0h256.2v1.3h-256.2zM1687.2 2576.0h256.2v0.6h-256.2zM1942.8 2398.4h256.2v4.9h-256.2zM1942.8 2409.0h256.2v3.3h-256.2zM1942.8 2655.0h256.2v3.9h-256.2z"/>
<path fill="#fdbd9f" d="M664.5 1544.9h256.2v3.4h-256.2zM664.5 1548.0h256.2v5.3h-256.2zM664.5 1691.0h256.2v2.3h-256.2zM1175.8 1402.0h256.2v4.2h-256.2zM1687.2 2466.0h256.2v4.3h-256.2z"/>
<path fill="#fdb99b" d="M664.5 1553.0h256.2v3.6h-256.2zM920.2 883.3h256.2v3.0h-256.2zM920.2 895.0h256.2v6.3h-256.2zM920.2 901.0h256.2v5.3h-256.2zM920.2 1714.0h256.2v4.3h-256.2zM1431.5 1811.0h256.2v3.3h-256.2zM1431.5 1819.0h256.2v4.3h-256.2zM1687.2 2464.3h256.2v2.0h-256.2zM1942.8 2649.0h256.2v3.3h-256.2z"/>
<path fill="#fdb696" d="M664.5 1574.0h256.2v4.3h-256.2zM920.2 863.0h256.2v3.3h-256.2zM1175.8 1373.0h256.2v3.3h-256.2zM1175.8 1394.0h256.2v4.3h-256.2zM1431.5 1770.0h256.2v3.3h-256.2zM1431.5 1808.0h256.2v3.3h-256.2zM1431.5 1826.0h256.2v6.3h-256.2zM1431.5 2655.0h256.2v3.9h-256.2zM1687.2 2618.0h256.2v3.3h-256.2zM1687.2 2649.4h256.2v2.9h-256.2zM1687.2 2652.0h256.2v3.3h-256.2z"/>
<path fill="#fdc0a4" d="M664.5 1708.0h256.2v6.3h-256.2zM1431.5 1790.0h256.2v4.3h-256.2zM1431.5 1794.0h256.2v6.3h-256.2zM1431.5 1814.0h256.2v5.3h-256.2zM1431.5 1823.0h256.2v3.3h-256.2zM1431.5 1832.0h256.2v5.3h-256.2zM1687.2 2470.0h256.2v3.3h-256.2z"/>
<path fill="#e64942" d="M664.5 1759.0h256.2v2.3h-256.2zM1175.8 1419.6h256.2v3.7h-256.2zM1687.2 2506.0h256.2v2.0h-256.2zM1687.2 2584.0h256.2v1.7h-256.2zM1942.8 1768.4h256.2v1.9h-256.2zM1942.8 2506.0h256.2v5.3h-256.2z"/>
<path fill="#86c8e2" d="M664.5 1766.0h256.2v1.3h-256.2zM664.5 1884.0h256.2v3.3h-256.2zM664.5 2562.0h256.2v5.3h-256.2zM920.2 2034.0h256.2v4.3h-256.2zM920.2 2081.0h256.2v6.3h-256.2zM920.2 2263.6h256.2v1.7h-256.2zM920.2 2461.0h256.2v3.6h-256.2zM920.2 2514.0h256.2v3.3h-256.2zM1175.8 2103.0h256.2v4.3h-256.2zM1175.8 2548.0h256.2v6.3h-256.2zM1431.5 1463.0h256.2v3.3h-256.2zM1431.5 1520.0h256.2v5.3h-256.2zM1431.5 1622.0h256.2v3.3h-256.2zM1431.5 1638.0h256.2v3.3h-256.2zM1687.2 866.0h256.2v5.3h-256.2zM1687.2 1159.0h256.2v3.3h-256.2zM1687.2 1272.4h256.2v0.9h-256.2zM1687.2 1283.0h256.2v6.3h-256.2zM1687.2 1324.0h256.2v4.3h-256.2zM1687.2 1437.0h256.2v4.3h-256.2zM1687.2 1485.0h256.2v5.3h-256.2zM1687.2 1497.0h256.2v4.3h-256.2zM1687.2 1504.0h256.2v3.3h-256.2zM1942.8 1038.0h256.2v3.3h-256.2zM1942.8 1636.3h256.2v2.0h-256.2zM1942.8 1638.0h256.2v3.3h-256.2zM1942.8 1644.0h256.2v4.0h-256.2z"/>
<path fill="#6bbfde" d="M664.5 1767.0h256.2v3.3h-256.2zM664.5 1770.0h256.2v6.3h-256.2zM664.5 1776.0h256.2v4.3h-256.2zM664.5 1823.0h256.2v3.3h-256.2zM664.5 1826.0h256.2v6.3h-256.2zM664.5 1832.0h256.2v5.3h-256.2zM664.5 1855.0h256.2v3.3h-256.2zM664.5 1902.0h256.2v4.3h-256.2zM664.5 2581.0h256.2v3.3h-256.2zM664.5 2618.0h256.2v3.3h-256.2zM920.2 2028.6h256.2v2.7h-256.2zM920.2 2045.0h256.2v5.3h-256.2zM920.2 2050.0h256.2v5.3h-256.2zM920.2 2090.0h256.2v4.3h-256.2zM920.2 2268.0h256.2v4.3h-256.2zM1175.8 2127.0h256.2v6.3h-256.2zM1175.8 2338.0h256.2v4.3h-256.2zM1175.8 2362.0h256.2v5.3h-256.2zM1175.8 2438.0h256.2v3.3h-256.2zM1175.8 2451.0h256.2v5.3h-256.2zM1175.8 2590.0h256.2v5.3h-256.2zM1431.5 1189.0h256.2v5.3h-256.2zM1431.5 1255.0h256.2v6.3h-256.2zM1431.5 1485.0h256.2v5.3h-256.2zM1687.2 1152.6h256.2v2.7h-256.2zM1687.2 1235.0h256.2v3.3h-256.2zM1687.2 1481.0h256.2v4.3h-256.2zM1687.2 1516.0h256.2v1.7h-256.2zM1687.2 1727.0h256.2v4.3h-256.2zM1942.8 909.0h256.2v5.3h-256.2zM1942.8 1020.0h256.2v2.3h-256.2zM1942.8 1025.0h256.2v5.3h-256.2zM1942.8 1086.3h256.2v2.0h-256.2zM1942.8 1354.0h256.2v3.3h-256.2zM1942.8 1727.0h256.2v4.3h-256.2zM1942.8 1767.0h256.2v1.7h-256.2z"/>
<path fill="#d5e0e3" d="M664.5 1780.0h256.2v6.3h-256.2zM920.2 2668.0h256.2v3.3h-256.2zM1431.5 860.0h256.2v2.3h-256.2zM1431.5 867.0h256.2v4.3h-256.2zM1431.5 2633.0h256.2v0.7h-256.2zM1687.2 840.0h256.2v3.3h-256.2zM1687.2 2519.0h256.2v2.3h-256.2z"/>
<path fill="#c6dfe8" d="M664.5 1786.0h256.2v4.3h-256.2zM920.2 2484.0h256.2v3.3h-256.2zM920.2 2665.0h256.2v3.3h-256.2zM1175.8 1837.0h256.2v3.3h-256.2zM1431.5 863.0h256.2v3.3h-256.2zM1431.5 871.0h256.2v4.3h-256.2zM1431.5 2622.0h256.2v3.3h-256.2zM1687.2 843.0h256.2v3.3h-256.2zM1687.2 1451.0h256.2v3.3h-256.2zM1687.2 1454.0h256.2v3.3h-256.2zM1687.2 1678.0h256.2v4.3h-256.2zM1687.2 1690.0h256.2v3.3h-256.2z"/>
<path fill="#abd5e6" d="M664.5 1790.0h256.2v4.3h-256.2zM920.2 2456.0h256.2v5.3h-256.2zM920.2 2487.0h256.2v4.3h-256.2zM1431.5 862.0h256.2v1.3h-256.2zM1431.5 1618.0h256.2v4.3h-256.2zM1431.5 1628.0h256.2v3.3h-256.2zM1431.5 1634.0h256.2v4.3h-256.2zM1687.2 1294.0h256.2v6.3h-256.2zM1687.2 1391.0h256.2v3.3h-256.2zM1687.2 1394.0h256.2v0.7h-256.2zM1687.2 1537.0h256.2v5.9h-256.2zM1687.2 1696.0h256.2v5.3h-256.2z"/>
<path fill="#8dcae3" d="M664.5 1794.0h256.2v1.3h-256.2zM664.5 1868.0h256.2v5.3h-256.2zM664.5 1880.0h256.2v4.3h-256.2zM664.5 2560.0h256.2v2.3h-256.2zM920.2 2068.0h256.2v4.3h-256.2zM920.2 2094.0h256.2v3.3h-256.2zM920.2 2448.3h256.2v3.0h-256.2zM920.2 2511.0h256.2v3.3h-256.2zM920.2 2548.0h256.2v6.3h-256.2zM1175.8 2107.0h256.2v3.3h-256.2zM1175.8 2535.0h256.2v5.3h-256.2zM1431.5 1451.6h256.2v2.7h-256.2zM1431.5 1504.0h256.2v3.3h-256.2zM1431.5 1605.0h256.2v3.3h-256.2zM1431.5 1631.0h256.2v3.3h-256.2zM1431.5 1641.0h256.2v3.3h-256.2zM1687.2 1279.0h256.2v4.3h-256.2zM1687.2 1304.0h256.2v4.3h-256.2zM1687.2 1441.0h256.2v2.3h-256.2zM1687.2 1460.0h256.2v3.3h-256.2zM1687.2 2633.0h256.2v3.3h-256.2zM1942.8 923.0h256.2v3.3h-256.2zM1942.8 1325.9h256.2v2.4h-256.2zM1942.8 1328.0h256.2v3.3h-256.2zM1942.8 1339.0h256.2v3.3h-256.2zM1942.8 1347.0h256.2v3.3h-256.2zM1942.8 1367.0h256.2v6.3h-256.2zM1942.8 1398.0h256.2v4.3h-256.2zM1942.8 1418.0h256.2v5.3h-256.2zM1942.8 1423.0h256.2v1.3h-256.2z"/>
<path fill="#d1e0e4" d="M664.5 1795.0h256.2v5.3h-256.2zM1687.2 835.0h256.2v5.3h-256.2zM1687.2 1757.0h256.2v4.3h-256.2z"/>
<path fill="#d9e1e2" d="M664.5 1800.0h256.2v0.7h-256.2zM920.2 2655.0h256.2v6.3h-256.2zM1431.5 1508.3h256.2v3.0h-256.2zM1687.2 821.6h256.2v1.7h-256.2zM1687.2 1752.4h256.2v0.9h-256.2zM1942.8 1743.3h256.2v2.0h-256.2z"/>
<path fill="#fdcab2" d="M664.5 1800.4h256.2v2.9h-256.2zM920.2 799.0h256.2v4.3h-256.2zM1431.5 1803.0h256.2v5.3h-256.2zM1687.2 851.3h256.2v2.0h-256.2z"/>
<path fill="#fdc4a8" d="M664.5 1803.0h256.2v4.6h-256.2zM920.2 926.0h256.2v1.0h-256.2zM1431.5 1767.0h256.2v3.3h-256.2zM1431.5 1802.7h256.2v0.6h-256.2z"/>
<path fill="#2facd5" d="M664.5 1807.3h256.2v1.0h-256.2zM664.5 1975.0h256.2v4.3h-256.2zM920.2 2193.0h256.2v2.3h-256.2zM920.2 2195.0h256.2v3.3h-256.2zM920.2 2198.0h256.2v5.3h-256.2zM920.2 2318.0h256.2v4.3h-256.2zM920.2 2383.0h256.2v5.3h-256.2zM920.2 2412.0h256.2v3.3h-256.2zM920.2 2535.0h256.2v5.3h-256.2zM1175.8 1967.0h256.2v4.3h-256.2zM1175.8 2007.0h256.2v4.3h-256.2zM1175.8 2031.0h256.2v3.3h-256.2zM1175.8 2058.0h256.2v4.3h-256.2zM1175.8 2203.0h256.2v4.3h-256.2zM1175.8 2213.0h256.2v4.3h-256.2zM1175.8 2217.0h256.2v3.3h-256.2zM1431.5 883.0h256.2v3.3h-256.2zM1431.5 895.0h256.2v6.3h-256.2zM1431.5 1060.0h256.2v4.3h-256.2zM1431.5 1427.0h256.2v6.3h-256.2zM1687.2 1117.0h256.2v4.3h-256.2zM1687.2 1144.0h256.2v3.3h-256.2zM1687.2 1745.6h256.2v3.7h-256.2zM1687.2 1749.0h256.2v3.7h-256.2zM1942.8 883.0h256.2v3.3h-256.2zM1942.8 1578.0h256.2v6.3h-256.2zM1942.8 1666.0h256.2v1.3h-256.2z"/>
<path fill="#17a4d1" d="M664.5 1808.0h256.2v3.3h-256.2zM664.5 1819.0h256.2v2.3h-256.2zM664.5 2011.0h256.2v4.3h-256.2zM664.5 2346.0h256.2v2.3h-256.2zM664.5 2348.0h256.2v5.3h-256.2zM664.5 2414.4h256.2v0.9h-256.2zM664.5 2433.0h256.2v4.3h-256.2zM920.2 1803.0h256.2v2.3h-256.2zM920.2 2180.0h256.2v4.3h-256.2zM920.2 2305.0h256.2v4.3h-256.2zM920.2 2502.0h256.2v4.3h-256.2zM1175.8 1805.0h256.2v3.3h-256.2zM1175.8 2018.0h256.2v3.3h-256.2zM1175.8 2195.0h256.2v3.3h-256.2zM1175.8 2391.0h256.2v4.3h-256.2zM1175.8 2629.0h256.2v4.3h-256.2zM1431.5 932.0h256.2v5.3h-256.2zM1431.5 956.0h256.2v3.3h-256.2zM1431.5 1016.0h256.2v4.3h-256.2zM1431.5 1144.0h256.2v3.3h-256.2zM1431.5 1157.0h256.2v2.3h-256.2zM1687.2 985.0h256.2v5.3h-256.2zM1687.2 1016.0h256.2v4.3h-256.2zM1687.2 1030.0h256.2v3.3h-256.2zM1687.2 1038.0h256.2v3.3h-256.2zM1687.2 1249.0h256.2v6.3h-256.2zM1687.2 1350.0h256.2v1.3h-256.2zM1687.2 1475.0h256.2v2.0h-256.2zM1687.2 1542.6h256.2v0.7h-256.2zM1687.2 1559.0h256.2v6.3h-256.2zM1687.2 1571.0h256.2v3.3h-256.2zM1687.2 1718.6h256.2v3.7h-256.2zM1687.2 1722.0h256.2v3.3h-256.2zM1942.8 1064.0h256.2v4.3h-256.2zM1942.8 1068.0h256.2v5.3h-256.2zM1942.8 1117.0h256.2v4.3h-256.2zM1942.8 1634.0h256.2v2.6h-256.2z"/>
<path fill="#22a8d3" d="M664.5 1811.0h256.2v3.3h-256.2zM664.5 1955.0h256.2v5.3h-256.2zM664.5 2419.0h256.2v5.3h-256.2zM664.5 2649.0h256.2v3.3h-256.2zM920.2 1784.4h256.2v1.9h-256.2zM920.2 2114.0h256.2v6.3h-256.2zM920.2 2133.0h256.2v4.3h-256.2zM920.2 2151.0h256.2v3.3h-256.2zM920.2 2190.0h256.2v3.3h-256.2zM920.2 2300.0h256.2v5.3h-256.2zM920.2 2328.0h256.2v4.3h-256.2zM920.2 2382.4h256.2v0.9h-256.2zM1175.8 1808.0h256.2v3.3h-256.2zM1175.8 1964.0h256.2v3.3h-256.2zM1175.8 1971.0h256.2v4.3h-256.2zM1175.8 2050.0h256.2v5.3h-256.2zM1431.5 914.0h256.2v1.6h-256.2zM1431.5 1388.0h256.2v3.3h-256.2zM1431.5 1548.0h256.2v5.3h-256.2zM1687.2 1121.0h256.2v4.3h-256.2zM1687.2 1125.0h256.2v6.3h-256.2zM1687.2 1131.0h256.2v4.3h-256.2zM1687.2 1135.0h256.2v4.3h-256.2zM1687.2 1139.0h256.2v5.3h-256.2zM1687.2 1231.0h256.2v4.3h-256.2zM1687.2 1553.0h256.2v6.3h-256.2zM1942.8 1574.0h256.2v4.3h-256.2z"/>
<path fill="#36aed6" d="M664.5 1814.0h256.2v5.3h-256.2zM664.5 1930.7h256.2v5.6h-256.2zM664.5 1960.0h256.2v1.3h-256.2zM920.2 2137.0h256.2v4.3h-256.2zM920.2 2154.0h256.2v6.3h-256.2zM920.2 2213.0h256.2v4.3h-256.2zM920.2 2464.3h256.2v2.0h-256.2zM920.2 2521.4h256.2v3.9h-256.2zM920.2 2540.0h256.2v5.3h-256.2zM1175.8 2034.0h256.2v4.3h-256.2zM1175.8 2078.0h256.2v3.3h-256.2zM1175.8 2370.0h256.2v5.3h-256.2zM1431.5 803.0h256.2v0.6h-256.2zM1431.5 889.0h256.2v6.3h-256.2zM1431.5 1100.0h256.2v3.3h-256.2zM1431.5 1139.0h256.2v5.3h-256.2zM1431.5 1159.0h256.2v3.3h-256.2zM1431.5 1186.0h256.2v3.3h-256.2zM1431.5 1451.0h256.2v0.9h-256.2zM1431.5 1574.0h256.2v0.9h-256.2zM1687.2 982.0h256.2v3.3h-256.2zM1687.2 1203.0h256.2v4.3h-256.2zM1942.8 1273.0h256.2v6.3h-256.2zM1942.8 1279.0h256.2v4.3h-256.2zM1942.8 1714.0h256.2v4.3h-256.2z"/>
<path fill="#57b8db" d="M664.5 1821.0h256.2v2.3h-256.2zM664.5 1920.0h256.2v3.3h-256.2zM664.5 2580.0h256.2v1.3h-256.2zM664.5 2610.6h256.2v0.7h-256.2zM920.2 1776.0h256.2v4.3h-256.2zM920.2 1853.0h256.2v2.3h-256.2zM920.2 1877.0h256.2v3.3h-256.2zM920.2 2038.0h256.2v3.3h-256.2zM920.2 2058.0h256.2v4.3h-256.2zM1175.8 2358.0h256.2v4.3h-256.2zM1175.8 2367.0h256.2v3.3h-256.2zM1175.8 2378.0h256.2v4.7h-256.2zM1175.8 2396.0h256.2v2.3h-256.2zM1175.8 2398.0h256.2v5.3h-256.2zM1175.8 2406.0h256.2v3.3h-256.2zM1175.8 2412.0h256.2v2.7h-256.2zM1175.8 2445.0h256.2v6.3h-256.2zM1175.8 2461.0h256.2v5.3h-256.2zM1175.8 2466.0h256.2v4.3h-256.2zM1175.8 2604.0h256.2v3.3h-256.2zM1431.5 796.4h256.2v2.9h-256.2zM1431.5 799.0h256.2v4.3h-256.2zM1431.5 1056.0h256.2v4.3h-256.2zM1431.5 1217.0h256.2v5.3h-256.2zM1431.5 1249.0h256.2v6.3h-256.2zM1431.5 1437.0h256.2v4.3h-256.2zM1431.5 1441.0h256.2v6.3h-256.2zM1431.5 1559.0h256.2v6.3h-256.2zM1687.2 917.6h256.2v1.7h-256.2zM1687.2 919.0h256.2v4.3h-256.2zM1687.2 937.0h256.2v3.3h-256.2zM1687.2 964.0h256.2v4.3h-256.2zM1687.2 1173.0h256.2v4.3h-256.2zM1687.2 1217.0h256.2v5.3h-256.2zM1687.2 1238.0h256.2v1.7h-256.2zM1687.2 1376.0h256.2v4.3h-256.2zM1687.2 1380.0h256.2v3.3h-256.2zM1687.2 1493.0h256.2v4.3h-256.2zM1687.2 1725.0h256.2v2.3h-256.2zM1942.8 1022.0h256.2v3.3h-256.2zM1942.8 1091.0h256.2v6.3h-256.2zM1942.8 1705.0h256.2v3.3h-256.2z"/>
<path fill="#65bddd" d="M664.5 1837.0h256.2v3.3h-256.2zM664.5 1912.0h256.2v3.3h-256.2zM664.5 2018.0h256.2v3.3h-256.2zM664.5 2024.0h256.2v3.3h-256.2zM664.5 2611.0h256.2v3.3h-256.2zM1175.8 1823.0h256.2v3.3h-256.2zM1175.8 2225.0h256.2v5.3h-256.2zM1175.8 2230.0h256.2v3.3h-256.2zM1175.8 2441.0h256.2v4.3h-256.2zM1175.8 2470.0h256.2v1.3h-256.2zM1175.8 2584.0h256.2v6.3h-256.2zM1431.5 842.0h256.2v1.3h-256.2zM1431.5 843.0h256.2v3.3h-256.2zM1431.5 1077.0h256.2v4.3h-256.2zM1431.5 1081.0h256.2v4.3h-256.2zM1431.5 1097.0h256.2v3.3h-256.2zM1431.5 1261.0h256.2v3.3h-256.2zM1431.5 1447.0h256.2v4.3h-256.2zM1431.5 1493.0h256.2v4.3h-256.2zM1687.2 923.0h256.2v3.3h-256.2zM1687.2 929.0h256.2v3.3h-256.2zM1687.2 948.0h256.2v3.3h-256.2zM1687.2 1373.0h256.2v3.3h-256.2zM1687.2 1490.0h256.2v3.3h-256.2zM1687.2 1501.0h256.2v3.3h-256.2zM1942.8 792.0h256.2v4.3h-256.2zM1942.8 914.0h256.2v3.9h-256.2zM1942.8 1041.0h256.2v4.3h-256.2zM1942.8 1045.0h256.2v6.3h-256.2zM1942.8 1103.0h256.2v4.2h-256.2zM1942.8 1335.0h256.2v4.3h-256.2z"/>
<path fill="#5ebadc" d="M664.5 1840.0h256.2v4.2h-256.2zM664.5 1923.0h256.2v3.3h-256.2zM664.5 1926.0h256.2v4.3h-256.2zM664.5 1993.0h256.2v4.3h-256.2zM664.5 1997.0h256.2v4.3h-256.2zM664.5 2027.0h256.2v1.9h-256.2zM664.5 2614.0h256.2v4.3h-256.2zM920.2 1770.0h256.2v6.3h-256.2zM920.2 1880.0h256.2v0.7h-256.2zM920.2 2055.0h256.2v3.3h-256.2zM1175.8 1944.0h256.2v3.3h-256.2zM1175.8 1997.0h256.2v4.3h-256.2zM1175.8 2251.0h256.2v3.3h-256.2zM1175.8 2342.0h256.2v6.3h-256.2zM1175.8 2353.0h256.2v5.3h-256.2zM1175.8 2456.0h256.2v5.3h-256.2zM1431.5 846.0h256.2v3.3h-256.2zM1431.5 1166.0h256.2v3.3h-256.2zM1431.5 1177.0h256.2v3.3h-256.2zM1431.5 1180.0h256.2v6.3h-256.2zM1431.5 1238.0h256.2v3.3h-256.2zM1431.5 1501.0h256.2v3.3h-256.2zM1687.2 951.0h256.2v5.3h-256.2zM1687.2 1189.0h256.2v5.3h-256.2zM1687.2 1222.0h256.2v4.3h-256.2zM1687.2 1226.0h256.2v5.3h-256.2zM1687.2 1351.0h256.2v3.3h-256.2zM1687.2 1354.0h256.2v3.3h-256.2zM1687.2 1507.0h256.2v4.3h-256.2zM1942.8 796.0h256.2v0.7h-256.2zM1942.8 881.0h256.2v2.3h-256.2zM1942.8 1030.0h256.2v3.3h-256.2z"/>
<path fill="#008fc6" d="M664.5 1843.9h256.2v1.4h-256.2zM664.5 2034.0h256.2v4.3h-256.2zM664.5 2062.0h256.2v3.3h-256.2zM664.5 2094.0h256.2v3.3h-256.2zM664.5 2217.0h256.2v3.3h-256.2zM664.5 2251.0h256.2v3.3h-256.2zM664.5 2275.0h256.2v3.3h-256.2zM664.5 2353.0h256.2v5.3h-256.2zM664.5 2409.0h256.2v3.3h-256.2zM664.5 2494.0h256.2v3.3h-256.2zM920.2 1811.0h256.2v3.3h-256.2zM920.2 1823.0h256.2v3.3h-256.2zM920.2 1880.4h256.2v3.9h-256.2zM920.2 1884.0h256.2v3.3h-256.2zM920.2 1912.0h256.2v3.3h-256.2zM920.2 1996.6h256.2v0.7h-256.2zM920.2 1997.0h256.2v4.3h-256.2zM920.2 2007.0h256.2v4.3h-256.2zM920.2 2024.0h256.2v3.3h-256.2zM920.2 2438.0h256.2v3.3h-256.2zM920.2 2445.0h256.2v3.6h-256.2zM1175.8 1766.0h256.2v1.3h-256.2zM1175.8 1780.0h256.2v6.3h-256.2zM1175.8 1897.0h256.2v5.3h-256.2zM1175.8 1936.0h256.2v3.3h-256.2zM1175.8 2268.0h256.2v4.3h-256.2zM1175.8 2494.0h256.2v3.3h-256.2zM1175.8 2633.0h256.2v3.3h-256.2zM1431.5 1272.4h256.2v0.9h-256.2zM1431.5 1741.0h256.2v4.3h-256.2zM1687.2 895.0h256.2v6.3h-256.2zM1687.2 901.0h256.2v5.3h-256.2zM1687.2 1100.0h256.2v3.3h-256.2zM1687.2 1745.0h256.2v0.9h-256.2zM1942.8 940.0h256.2v4.3h-256.2zM1942.8 1189.0h256.2v5.3h-256.2zM1942.8 1662.0h256.2v4.3h-256.2z"/>
<path fill="#0091c7" d="M664.5 1845.0h256.2v4.3h-256.2zM664.5 2193.0h256.2v2.3h-256.2zM664.5 2207.0h256.2v6.3h-256.2zM664.5 2225.0h256.2v5.3h-256.2zM664.5 2230.0h256.2v3.3h-256.2zM664.5 2239.0h256.2v6.3h-256.2zM664.5 2338.0h256.2v4.3h-256.2zM664.5 2406.0h256.2v3.3h-256.2zM920.2 1887.0h256.2v5.3h-256.2zM920.2 1936.0h256.2v3.3h-256.2zM920.2 2332.0h256.2v2.3h-256.2zM1175.8 1853.0h256.2v2.3h-256.2zM1175.8 1884.0h256.2v3.3h-256.2zM1175.8 2481.0h256.2v3.3h-256.2zM1175.8 2484.0h256.2v3.3h-256.2zM1175.8 2572.0h256.2v4.3h-256.2zM1431.5 1735.0h256.2v3.3h-256.2zM1431.5 1745.0h256.2v3.3h-256.2zM1687.2 881.0h256.2v2.3h-256.2zM1687.2 889.0h256.2v6.3h-256.2zM1687.2 909.0h256.2v5.3h-256.2zM1687.2 1011.0h256.2v5.3h-256.2zM1687.2 1073.0h256.2v4.3h-256.2zM1942.8 926.7h256.2v2.6h-256.2zM1942.8 1194.0h256.2v5.3h-256.2zM1942.8 1217.0h256.2v5.3h-256.2zM1942.8 1267.0h256.2v5.7h-256.2zM1942.8 1542.6h256.2v0.7h-256.2zM1942.8 1605.0h256.2v3.3h-256.2zM1942.8 1648.0h256.2v5.3h-256.2z"/>
<path fill="#0096ca" d="M664.5 1849.0h256.2v4.3h-256.2zM664.5 2137.0h256.2v4.3h-256.2zM664.5 2151.0h256.2v3.3h-256.2zM664.5 2154.0h256.2v6.3h-256.2zM664.5 2166.0h256.2v3.3h-256.2zM664.5 2169.0h256.2v3.3h-256.2zM664.5 2190.0h256.2v3.3h-256.2zM664.5 2265.0h256.2v3.3h-256.2zM664.5 2398.0h256.2v5.3h-256.2zM920.2 1930.0h256.2v6.3h-256.2zM920.2 1975.0h256.2v4.3h-256.2zM920.2 2251.0h256.2v3.3h-256.2zM920.2 2441.0h256.2v4.3h-256.2zM1175.8 2160.0h256.2v3.3h-256.2zM1175.8 2172.0h256.2v3.3h-256.2zM1175.8 2318.0h256.2v4.3h-256.2zM1175.8 2395.0h256.2v1.3h-256.2zM1175.8 2491.0h256.2v3.3h-256.2zM1175.8 2645.0h256.2v4.3h-256.2zM1175.8 2652.0h256.2v3.3h-256.2zM1431.5 937.0h256.2v3.3h-256.2zM1431.5 944.0h256.2v4.3h-256.2zM1431.5 1308.0h256.2v6.3h-256.2zM1431.5 1578.0h256.2v3.7h-256.2zM1687.2 883.0h256.2v3.3h-256.2zM1687.2 886.0h256.2v3.3h-256.2zM1687.2 1060.0h256.2v4.3h-256.2zM1687.2 1068.0h256.2v5.3h-256.2zM1687.2 1077.0h256.2v4.3h-256.2zM1687.2 1081.0h256.2v4.3h-256.2zM1687.2 1088.0h256.2v0.9h-256.2zM1687.2 1239.4h256.2v1.9h-256.2zM1687.2 1466.0h256.2v3.3h-256.2zM1687.2 1517.4h256.2v2.9h-256.2zM1687.2 1767.0h256.2v1.7h-256.2zM1942.8 929.0h256.2v3.3h-256.2zM1942.8 944.0h256.2v4.3h-256.2zM1942.8 959.0h256.2v5.3h-256.2zM1942.8 1011.0h256.2v5.3h-256.2zM1942.8 1073.0h256.2v4.3h-256.2zM1942.8 1125.0h256.2v6.3h-256.2zM1942.8 1139.0h256.2v5.3h-256.2zM1942.8 1147.0h256.2v3.3h-256.2zM1942.8 1150.0h256.2v5.3h-256.2zM1942.8 1304.0h256.2v4.3h-256.2zM1942.8 1553.0h256.2v6.3h-256.2zM1942.8 1608.0h256.2v4.3h-256.2zM1942.8 1618.0h256.2v4.3h-256.2z"/>
<path fill="#80c6e1" d="M664.5 1853.0h256.2v2.3h-256.2zM664.5 2621.0h256.2v4.3h-256.2zM920.2 1868.0h256.2v5.3h-256.2zM920.2 2072.0h256.2v6.3h-256.2zM920.2 2272.0h256.2v3.3h-256.2zM920.2 2517.0h256.2v4.3h-256.2zM1175.8 1987.4h256.2v0.9h-256.2zM1175.8 2088.0h256.2v2.3h-256.2zM1175.8 2236.0h256.2v3.3h-256.2zM1175.8 2332.0h256.2v2.3h-256.2zM1175.8 2348.0h256.2v5.3h-256.2zM1175.8 2506.0h256.2v5.3h-256.2zM1175.8 2525.0h256.2v5.3h-256.2zM1175.8 2545.0h256.2v3.3h-256.2zM1175.8 2558.0h256.2v4.3h-256.2zM1431.5 1245.0h256.2v4.3h-256.2zM1431.5 1460.0h256.2v3.3h-256.2zM1431.5 1469.0h256.2v6.3h-256.2zM1687.2 871.0h256.2v4.3h-256.2zM1687.2 1155.0h256.2v4.3h-256.2zM1687.2 1300.0h256.2v4.3h-256.2zM1687.2 1314.0h256.2v4.3h-256.2zM1687.2 1318.0h256.2v6.3h-256.2zM1687.2 1364.0h256.2v3.3h-256.2zM1687.2 1427.0h256.2v6.3h-256.2zM1687.2 1463.0h256.2v2.6h-256.2zM1942.8 926.0h256.2v1.0h-256.2zM1942.8 1364.0h256.2v3.3h-256.2zM1942.8 1376.0h256.2v2.7h-256.2zM1942.8 1402.0h256.2v5.3h-256.2zM1942.8 1407.0h256.2v4.3h-256.2zM1942.8 1414.0h256.2v4.3h-256.2zM1942.8 1725.0h256.2v2.3h-256.2z"/>
<path fill="#72c1df" d="M664.5 1858.0h256.2v6.3h-256.2zM664.5 1887.0h256.2v2.9h-256.2zM664.5 1906.0h256.2v6.3h-256.2zM664.5 1990.0h256.2v3.3h-256.2zM664.5 2021.0h256.2v3.3h-256.2zM920.2 1767.0h256.2v3.3h-256.2zM920.2 1795.0h256.2v5.3h-256.2zM920.2 1855.0h256.2v3.3h-256.2zM920.2 1858.0h256.2v6.3h-256.2zM920.2 1864.0h256.2v4.3h-256.2zM920.2 2031.0h256.2v3.3h-256.2zM920.2 2265.0h256.2v3.3h-256.2zM920.2 2275.0h256.2v3.3h-256.2zM920.2 2554.0h256.2v4.3h-256.2zM1175.8 2409.0h256.2v3.3h-256.2zM1431.5 1475.0h256.2v3.3h-256.2zM1431.5 1478.0h256.2v3.3h-256.2zM1431.5 1481.0h256.2v4.3h-256.2zM1431.5 1497.0h256.2v4.3h-256.2zM1431.5 1507.0h256.2v1.6h-256.2zM1431.5 1544.9h256.2v3.4h-256.2zM1687.2 932.0h256.2v5.3h-256.2zM1687.2 959.0h256.2v5.3h-256.2zM1687.2 1360.0h256.2v4.3h-256.2zM1687.2 1367.0h256.2v6.3h-256.2zM1687.2 1478.0h256.2v3.3h-256.2zM1687.2 1511.0h256.2v5.3h-256.2zM1942.8 1088.0h256.2v3.3h-256.2zM1942.8 1331.0h256.2v4.3h-256.2zM1942.8 1342.0h256.2v5.3h-256.2zM1942.8 1350.0h256.2v4.3h-256.2zM1942.8 1394.4h256.2v3.9h-256.2z"/>
<path fill="#79c3e0" d="M664.5 1864.0h256.2v4.3h-256.2zM664.5 1877.0h256.2v3.3h-256.2zM664.5 1897.0h256.2v5.3h-256.2zM920.2 1766.0h256.2v1.3h-256.2zM920.2 2062.0h256.2v3.3h-256.2zM920.2 2087.0h256.2v3.3h-256.2zM920.2 2278.0h256.2v1.9h-256.2zM920.2 2546.6h256.2v1.7h-256.2zM1175.8 1993.0h256.2v4.3h-256.2zM1175.8 2001.0h256.2v2.7h-256.2zM1175.8 2094.0h256.2v6.3h-256.2zM1175.8 2120.0h256.2v4.3h-256.2zM1175.8 2607.0h256.2v4.3h-256.2zM1175.8 2611.0h256.2v2.3h-256.2zM1431.5 853.0h256.2v0.9h-256.2zM1431.5 1264.0h256.2v3.3h-256.2zM1431.5 1454.0h256.2v3.3h-256.2zM1431.5 1490.0h256.2v3.3h-256.2zM1431.5 1519.7h256.2v0.6h-256.2zM1431.5 1530.0h256.2v4.3h-256.2zM1687.2 1177.0h256.2v3.3h-256.2zM1687.2 1289.0h256.2v5.3h-256.2zM1687.2 1424.0h256.2v3.3h-256.2zM1687.2 1476.7h256.2v1.6h-256.2zM1942.8 919.0h256.2v4.3h-256.2zM1942.8 1033.0h256.2v5.3h-256.2zM1942.8 1051.0h256.2v5.3h-256.2zM1942.8 1357.0h256.2v3.3h-256.2zM1942.8 1373.0h256.2v3.3h-256.2zM1942.8 1731.0h256.2v1.3h-256.2z"/>
<path fill="#94cde4" d="M664.5 1873.0h256.2v4.3h-256.2zM664.5 2590.0h256.2v5.3h-256.2zM664.5 2629.0h256.2v4.3h-256.2zM920.2 2473.4h256.2v4.9h-256.2zM920.2 2521.0h256.2v0.7h-256.2zM1175.8 1830.0h256.2v2.3h-256.2zM1175.8 2100.0h256.2v3.3h-256.2zM1175.8 2114.0h256.2v6.3h-256.2zM1175.8 2514.0h256.2v3.3h-256.2zM1175.8 2540.0h256.2v5.3h-256.2zM1175.8 2554.0h256.2v4.3h-256.2zM1431.5 1543.0h256.2v2.2h-256.2zM1431.5 1608.0h256.2v4.3h-256.2zM1431.5 1612.0h256.2v6.3h-256.2zM1431.5 1625.0h256.2v3.3h-256.2zM1687.2 858.0h256.2v2.3h-256.2zM1687.2 860.0h256.2v3.3h-256.2zM1687.2 863.0h256.2v3.3h-256.2zM1687.2 1166.0h256.2v3.3h-256.2zM1942.8 917.6h256.2v1.7h-256.2zM1942.8 1411.0h256.2v3.3h-256.2z"/>
<path fill="#dce1e0" d="M664.5 1889.6h256.2v2.7h-256.2z"/>
<path fill="#cadfe7" d="M664.5 1892.0h256.2v4.7h-256.2zM1175.8 2613.0h256.2v1.3h-256.2zM1175.8 2622.0h256.2v3.3h-256.2zM1431.5 857.0h256.2v3.3h-256.2zM1431.5 1511.0h256.2v5.3h-256.2zM1431.5 1516.0h256.2v4.0h-256.2zM1687.2 1443.0h256.2v4.3h-256.2zM1687.2 1663.7h256.2v3.6h-256.2zM1687.2 1701.0h256.2v4.2h-256.2zM1942.8 1735.0h256.2v3.3h-256.2z"/>
<path fill="#51b6da" d="M664.5 1896.4h256.2v0.9h-256.2zM664.5 1915.0h256.2v5.3h-256.2zM664.5 1930.0h256.2v1.0h-256.2zM664.5 1939.0h256.2v3.3h-256.2zM664.5 2642.0h256.2v3.3h-256.2zM664.5 2645.0h256.2v4.3h-256.2zM664.5 2652.0h256.2v3.3h-256.2zM920.2 1780.0h256.2v4.7h-256.2zM920.2 2041.0h256.2v4.3h-256.2zM920.2 2166.0h256.2v3.3h-256.2zM1175.8 1979.0h256.2v3.3h-256.2zM1175.8 2254.0h256.2v5.3h-256.2zM1175.8 2375.0h256.2v3.3h-256.2zM1175.8 2403.0h256.2v3.3h-256.2zM1175.8 2430.0h256.2v3.3h-256.2zM1431.5 849.0h256.2v4.3h-256.2zM1431.5 1045.0h256.2v6.3h-256.2zM1431.5 1051.0h256.2v5.3h-256.2zM1431.5 1064.0h256.2v4.3h-256.2zM1431.5 1091.0h256.2v6.3h-256.2zM1431.5 1103.0h256.2v5.3h-256.2zM1431.5 1108.0h256.2v3.7h-256.2zM1431.5 1203.0h256.2v4.3h-256.2zM1431.5 1207.0h256.2v6.3h-256.2zM1431.5 1235.0h256.2v3.3h-256.2zM1431.5 1267.0h256.2v5.7h-256.2zM1687.2 944.0h256.2v4.3h-256.2zM1687.2 1150.0h256.2v2.9h-256.2zM1687.2 1180.0h256.2v6.3h-256.2zM1687.2 1186.0h256.2v3.3h-256.2zM1687.2 1213.0h256.2v4.3h-256.2zM1687.2 1357.0h256.2v3.3h-256.2zM1942.8 901.0h256.2v5.3h-256.2zM1942.8 1056.0h256.2v0.9h-256.2zM1942.8 1097.0h256.2v3.3h-256.2zM1942.8 1764.0h256.2v3.3h-256.2z"/>
<path fill="#11a2d0" d="M664.5 1936.0h256.2v3.3h-256.2zM664.5 1979.0h256.2v3.3h-256.2zM664.5 2163.0h256.2v3.3h-256.2zM664.5 2281.0h256.2v4.3h-256.2zM664.5 2309.0h256.2v4.3h-256.2zM664.5 2318.0h256.2v0.7h-256.2zM664.5 2378.0h256.2v4.7h-256.2zM664.5 2424.0h256.2v6.3h-256.2zM920.2 1800.0h256.2v3.3h-256.2zM920.2 2203.0h256.2v4.3h-256.2zM920.2 2225.0h256.2v5.3h-256.2zM920.2 2406.0h256.2v3.3h-256.2zM920.2 2424.0h256.2v6.3h-256.2zM920.2 2629.0h256.2v4.3h-256.2zM1175.8 2220.0h256.2v2.7h-256.2zM1175.8 2313.0h256.2v5.3h-256.2zM1175.8 2642.0h256.2v3.3h-256.2zM1431.5 959.0h256.2v5.3h-256.2zM1431.5 1004.0h256.2v4.3h-256.2zM1431.5 1025.0h256.2v5.3h-256.2zM1431.5 1155.0h256.2v2.3h-256.2zM1431.5 1423.0h256.2v4.3h-256.2zM1687.2 973.0h256.2v6.3h-256.2zM1687.2 1041.0h256.2v2.3h-256.2zM1687.2 1199.0h256.2v4.3h-256.2zM1687.2 1245.0h256.2v4.3h-256.2zM1687.2 1543.0h256.2v5.3h-256.2zM1687.2 1565.0h256.2v6.3h-256.2zM1687.2 1625.0h256.2v3.3h-256.2zM1687.2 1628.0h256.2v1.7h-256.2zM1942.8 956.0h256.2v3.3h-256.2zM1942.8 1001.0h256.2v3.3h-256.2zM1942.8 1060.0h256.2v4.3h-256.2zM1942.8 1077.0h256.2v4.3h-256.2zM1942.8 1108.0h256.2v4.3h-256.2zM1942.8 1628.0h256.2v3.3h-256.2z"/>
<path fill="#43b2d8" d="M664.5 1942.0h256.2v5.3h-256.2zM664.5 1951.0h256.2v4.3h-256.2zM664.5 1961.0h256.2v3.3h-256.2zM664.5 1982.0h256.2v6.3h-256.2zM664.5 2001.0h256.2v4.3h-256.2zM664.5 2640.0h256.2v2.3h-256.2zM920.2 1873.0h256.2v4.3h-256.2zM920.2 2145.0h256.2v6.3h-256.2zM920.2 2169.0h256.2v3.3h-256.2zM920.2 2207.0h256.2v6.3h-256.2zM920.2 2217.0h256.2v3.3h-256.2zM920.2 2388.0h256.2v3.3h-256.2zM920.2 2497.0h256.2v5.3h-256.2zM920.2 2506.0h256.2v2.0h-256.2zM1175.8 1947.0h256.2v4.3h-256.2zM1175.8 2021.0h256.2v3.3h-256.2zM1175.8 2041.0h256.2v4.3h-256.2zM1175.8 2045.0h256.2v5.3h-256.2zM1175.8 2055.0h256.2v3.3h-256.2zM1175.8 2259.0h256.2v4.9h-256.2zM1175.8 2599.0h256.2v5.3h-256.2zM1431.5 815.0h256.2v5.3h-256.2zM1431.5 881.0h256.2v2.3h-256.2zM1431.5 1043.0h256.2v2.3h-256.2zM1431.5 1073.0h256.2v4.3h-256.2zM1431.5 1088.0h256.2v3.3h-256.2zM1431.5 1135.0h256.2v4.3h-256.2zM1431.5 1147.0h256.2v3.3h-256.2zM1431.5 1162.0h256.2v4.3h-256.2zM1431.5 1173.0h256.2v4.3h-256.2zM1431.5 1213.0h256.2v4.3h-256.2zM1431.5 1222.0h256.2v4.3h-256.2zM1431.5 1380.0h256.2v4.3h-256.2zM1687.2 1194.0h256.2v5.3h-256.2zM1942.8 895.0h256.2v6.3h-256.2zM1942.8 906.0h256.2v3.3h-256.2zM1942.8 1670.0h256.2v5.3h-256.2zM1942.8 1675.0h256.2v3.3h-256.2zM1942.8 1708.0h256.2v6.3h-256.2z"/>
<path fill="#1ca6d2" d="M664.5 1947.0h256.2v4.3h-256.2zM664.5 2007.0h256.2v4.3h-256.2zM664.5 2430.0h256.2v3.3h-256.2zM920.2 1967.0h256.2v4.3h-256.2zM920.2 2297.0h256.2v3.3h-256.2zM920.2 2313.0h256.2v5.3h-256.2zM920.2 2415.0h256.2v4.3h-256.2zM920.2 2496.3h256.2v1.0h-256.2zM920.2 2633.0h256.2v3.3h-256.2zM920.2 2636.0h256.2v6.3h-256.2zM920.2 2645.0h256.2v4.3h-256.2zM1175.8 2003.4h256.2v3.9h-256.2zM1175.8 2011.0h256.2v4.3h-256.2zM1175.8 2038.0h256.2v3.3h-256.2zM1175.8 2062.0h256.2v6.3h-256.2zM1175.8 2081.0h256.2v6.3h-256.2zM1175.8 2198.0h256.2v5.3h-256.2zM1175.8 2207.0h256.2v6.3h-256.2zM1175.8 2424.0h256.2v6.3h-256.2zM1431.5 812.4h256.2v2.9h-256.2zM1431.5 820.0h256.2v1.9h-256.2zM1431.5 906.0h256.2v3.3h-256.2zM1431.5 929.0h256.2v3.3h-256.2zM1431.5 1131.0h256.2v1.3h-256.2zM1431.5 1391.0h256.2v1.3h-256.2zM1431.5 1433.0h256.2v4.3h-256.2zM1687.2 990.0h256.2v5.3h-256.2zM1942.8 1100.0h256.2v3.3h-256.2zM1942.8 1593.0h256.2v4.3h-256.2zM1942.8 1631.0h256.2v3.3h-256.2zM1942.8 1667.0h256.2v3.3h-256.2zM1942.8 1693.0h256.2v3.3h-256.2z"/>
<path fill="#069ece" d="M664.5 1964.0h256.2v3.3h-256.2zM664.5 2005.0h256.2v2.3h-256.2zM664.5 2141.0h256.2v4.3h-256.2zM664.5 2175.0h256.2v5.3h-256.2zM664.5 2313.0h256.2v5.3h-256.2zM664.5 2367.0h256.2v3.3h-256.2zM664.5 2370.0h256.2v5.3h-256.2zM920.2 1786.0h256.2v4.3h-256.2zM920.2 1790.0h256.2v4.3h-256.2zM920.2 1794.0h256.2v1.3h-256.2zM920.2 1906.0h256.2v6.3h-256.2zM920.2 1926.0h256.2v4.3h-256.2zM920.2 1942.0h256.2v2.7h-256.2zM920.2 2103.0h256.2v4.3h-256.2zM920.2 2110.0h256.2v4.3h-256.2zM920.2 2230.0h256.2v3.3h-256.2zM920.2 2254.0h256.2v5.3h-256.2zM920.2 2309.0h256.2v4.3h-256.2zM1175.8 2141.0h256.2v4.3h-256.2zM1175.8 2265.0h256.2v3.3h-256.2zM1175.8 2272.0h256.2v3.3h-256.2zM1175.8 2300.0h256.2v5.3h-256.2zM1175.8 2388.0h256.2v3.3h-256.2zM1175.8 2487.0h256.2v4.3h-256.2zM1175.8 2626.6h256.2v2.7h-256.2zM1175.8 2649.0h256.2v3.3h-256.2zM1431.5 924.4h256.2v1.9h-256.2zM1431.5 973.0h256.2v6.3h-256.2zM1431.5 985.0h256.2v5.3h-256.2zM1431.5 1008.0h256.2v3.3h-256.2zM1431.5 1041.0h256.2v2.3h-256.2zM1431.5 1574.6h256.2v3.7h-256.2zM1687.2 1001.0h256.2v3.3h-256.2zM1687.2 1004.0h256.2v4.3h-256.2zM1687.2 1241.0h256.2v4.3h-256.2zM1687.2 1335.0h256.2v4.3h-256.2zM1687.2 1342.0h256.2v5.3h-256.2zM1687.2 1548.0h256.2v5.3h-256.2zM1687.2 1574.0h256.2v3.2h-256.2zM1687.2 1604.3h256.2v1.0h-256.2zM1687.2 1605.0h256.2v3.3h-256.2zM1687.2 1608.0h256.2v4.3h-256.2zM1942.8 1121.0h256.2v4.3h-256.2z"/>
<path fill="#3db0d7" d="M664.5 1967.0h256.2v4.3h-256.2zM664.5 1971.0h256.2v4.3h-256.2zM664.5 2015.0h256.2v3.3h-256.2zM920.2 2129.0h256.2v4.3h-256.2zM920.2 2141.0h256.2v4.3h-256.2zM920.2 2163.0h256.2v3.3h-256.2zM920.2 2172.0h256.2v3.3h-256.2zM920.2 2175.0h256.2v5.3h-256.2zM920.2 2184.0h256.2v6.3h-256.2zM920.2 2466.0h256.2v4.3h-256.2zM920.2 2530.0h256.2v5.3h-256.2zM920.2 2545.0h256.2v1.9h-256.2zM1175.8 1826.0h256.2v4.3h-256.2zM1175.8 1951.0h256.2v4.3h-256.2zM1175.8 1960.0h256.2v1.3h-256.2zM1175.8 1982.0h256.2v5.7h-256.2zM1175.8 2087.0h256.2v1.3h-256.2zM1175.8 2222.4h256.2v2.9h-256.2zM1175.8 2433.0h256.2v5.3h-256.2zM1175.8 2595.0h256.2v4.3h-256.2zM1431.5 909.0h256.2v5.3h-256.2zM1431.5 1085.0h256.2v3.3h-256.2zM1431.5 1132.0h256.2v3.3h-256.2zM1431.5 1169.0h256.2v4.3h-256.2zM1431.5 1226.0h256.2v5.3h-256.2zM1431.5 1231.0h256.2v4.3h-256.2zM1431.5 1553.0h256.2v6.3h-256.2zM1687.2 926.0h256.2v3.3h-256.2zM1687.2 940.0h256.2v4.3h-256.2zM1687.2 1147.0h256.2v3.3h-256.2zM1687.2 1207.0h256.2v6.3h-256.2zM1687.2 1731.0h256.2v3.3h-256.2zM1942.8 886.0h256.2v3.3h-256.2zM1942.8 1283.0h256.2v6.3h-256.2zM1942.8 1690.0h256.2v3.3h-256.2z"/>
<path fill="#29aad4" d="M664.5 1988.0h256.2v2.3h-256.2zM664.5 2415.0h256.2v4.3h-256.2zM920.2 1993.0h256.2v3.9h-256.2zM920.2 2398.0h256.2v5.3h-256.2zM920.2 2403.0h256.2v3.3h-256.2zM920.2 2525.0h256.2v5.3h-256.2zM1175.8 1814.0h256.2v5.3h-256.2zM1175.8 1819.0h256.2v4.3h-256.2zM1175.8 2015.0h256.2v3.3h-256.2zM1175.8 2024.0h256.2v3.3h-256.2zM1175.8 2068.0h256.2v4.3h-256.2zM1175.8 2072.0h256.2v6.3h-256.2zM1175.8 2233.0h256.2v3.3h-256.2zM1431.5 901.0h256.2v5.3h-256.2zM1431.5 1150.0h256.2v5.3h-256.2zM1431.5 1378.4h256.2v1.9h-256.2zM1431.5 1384.0h256.2v4.3h-256.2zM1431.5 1565.0h256.2v6.3h-256.2zM1431.5 1571.0h256.2v3.3h-256.2zM1687.2 1106.9h256.2v1.4h-256.2zM1687.2 1108.0h256.2v4.3h-256.2zM1687.2 1112.0h256.2v5.3h-256.2zM1942.8 1272.4h256.2v0.9h-256.2zM1942.8 1289.0h256.2v2.9h-256.2zM1942.8 1584.0h256.2v5.3h-256.2zM1942.8 1597.0h256.2v3.0h-256.2zM1942.8 1687.0h256.2v3.3h-256.2z"/>
<path fill="#0088c2" d="M664.5 2028.6h256.2v2.7h-256.2zM664.5 2087.0h256.2v3.3h-256.2zM664.5 2383.0h256.2v5.3h-256.2zM664.5 2395.0h256.2v3.3h-256.2zM664.5 2445.0h256.2v6.3h-256.2zM664.5 2473.4h256.2v4.9h-256.2zM664.5 2502.0h256.2v1.3h-256.2zM664.5 2540.0h256.2v5.3h-256.2zM920.2 1892.0h256.2v5.3h-256.2zM920.2 2018.0h256.2v3.3h-256.2zM920.2 2362.0h256.2v5.3h-256.2zM1175.8 1786.0h256.2v4.3h-256.2zM1175.8 1803.0h256.2v2.3h-256.2zM1175.8 1873.0h256.2v4.3h-256.2zM1431.5 823.0h256.2v4.3h-256.2zM1431.5 1294.0h256.2v2.3h-256.2zM1431.5 1319.0h256.2v5.3h-256.2zM1431.5 1373.0h256.2v3.3h-256.2zM1687.2 906.0h256.2v3.3h-256.2zM1942.8 809.0h256.2v1.3h-256.2zM1942.8 835.0h256.2v5.3h-256.2zM1942.8 1235.0h256.2v3.3h-256.2zM1942.8 1245.0h256.2v4.3h-256.2zM1942.8 1308.0h256.2v6.3h-256.2zM1942.8 1384.0h256.2v4.3h-256.2z"/>
<path fill="#0080bd" d="M664.5 2031.0h256.2v3.3h-256.2zM664.5 2068.0h256.2v4.3h-256.2zM664.5 2078.0h256.2v3.3h-256.2zM664.5 2456.0h256.2v5.3h-256.2zM664.5 2506.0h256.2v5.3h-256.2zM664.5 2514.0h256.2v3.3h-256.2zM664.5 2530.0h256.2v5.3h-256.2zM920.2 2567.0h256.2v5.3h-256.2zM1175.8 1877.0h256.2v3.3h-256.2zM1175.8 1887.0h256.2v5.3h-256.2zM1431.5 1347.0h256.2v3.3h-256.2zM1431.5 1350.0h256.2v4.3h-256.2zM1687.2 1088.6h256.2v2.7h-256.2zM1687.2 1411.0h256.2v3.3h-256.2zM1687.2 1578.0h256.2v6.3h-256.2zM1687.2 1601.0h256.2v3.6h-256.2zM1687.2 1741.0h256.2v4.3h-256.2zM1942.8 804.2h256.2v5.1h-256.2zM1942.8 819.0h256.2v1.3h-256.2zM1942.8 843.0h256.2v1.7h-256.2zM1942.8 1180.0h256.2v6.3h-256.2zM1942.8 1226.0h256.2v5.3h-256.2zM1942.8 1241.0h256.2v4.3h-256.2zM1942.8 1261.0h256.2v3.3h-256.2zM1942.8 1318.0h256.2v6.3h-256.2z"/>
<path fill="#008ac3" d="M664.5 2038.0h256.2v3.3h-256.2zM664.5 2083.0h256.2v4.3h-256.2zM664.5 2254.0h256.2v5.3h-256.2zM664.5 2259.0h256.2v6.3h-256.2zM664.5 2334.0h256.2v4.3h-256.2zM920.2 1814.0h256.2v5.3h-256.2zM920.2 1819.0h256.2v4.3h-256.2zM920.2 1947.0h256.2v4.3h-256.2zM920.2 2358.0h256.2v4.3h-256.2zM920.2 2378.0h256.2v4.7h-256.2zM920.2 2430.0h256.2v3.3h-256.2zM1175.8 1858.0h256.2v6.3h-256.2zM1175.8 1868.0h256.2v5.3h-256.2zM1175.8 1894.0h256.2v3.3h-256.2zM1431.5 835.0h256.2v5.3h-256.2zM1431.5 840.0h256.2v2.3h-256.2zM1431.5 915.3h256.2v4.0h-256.2zM1431.5 1289.0h256.2v5.3h-256.2zM1431.5 1324.0h256.2v4.3h-256.2zM1431.5 1335.0h256.2v4.3h-256.2zM1431.5 1354.0h256.2v3.3h-256.2zM1431.5 1738.0h256.2v3.3h-256.2zM1687.2 1045.0h256.2v6.3h-256.2zM1687.2 1414.0h256.2v4.3h-256.2zM1687.2 1576.9h256.2v1.4h-256.2zM1687.2 1597.0h256.2v4.3h-256.2zM1942.8 1166.0h256.2v3.3h-256.2zM1942.8 1186.0h256.2v3.3h-256.2zM1942.8 1291.6h256.2v2.7h-256.2zM1942.8 1294.0h256.2v6.3h-256.2zM1942.8 1300.0h256.2v4.3h-256.2zM1942.8 1324.0h256.2v2.2h-256.2zM1942.8 1388.0h256.2v3.3h-256.2zM1942.8 1599.7h256.2v1.6h-256.2z"/>
<path fill="#008dc5" d="M664.5 2041.0h256.2v4.3h-256.2zM664.5 2045.0h256.2v5.3h-256.2zM664.5 2065.0h256.2v3.3h-256.2zM664.5 2195.0h256.2v3.3h-256.2zM664.5 2220.0h256.2v5.3h-256.2zM664.5 2233.0h256.2v3.3h-256.2zM664.5 2236.0h256.2v3.3h-256.2zM664.5 2268.0h256.2v4.3h-256.2zM664.5 2342.0h256.2v4.3h-256.2zM664.5 2487.0h256.2v4.3h-256.2zM664.5 2558.0h256.2v2.3h-256.2zM920.2 1961.0h256.2v3.3h-256.2zM920.2 2021.0h256.2v3.3h-256.2zM920.2 2370.0h256.2v5.3h-256.2zM1175.8 1923.0h256.2v3.3h-256.2zM1175.8 2478.0h256.2v3.3h-256.2zM1431.5 821.6h256.2v1.7h-256.2zM1431.5 1394.0h256.2v4.3h-256.2zM1687.2 1589.0h256.2v4.3h-256.2zM1687.2 1764.0h256.2v3.3h-256.2zM1942.8 1173.0h256.2v4.3h-256.2zM1942.8 1199.0h256.2v4.3h-256.2zM1942.8 1231.0h256.2v4.3h-256.2zM1942.8 1565.0h256.2v6.3h-256.2zM1942.8 1647.7h256.2v0.6h-256.2zM1942.8 1659.0h256.2v3.3h-256.2z"/>
<path fill="#0093c8" d="M664.5 2050.0h256.2v5.3h-256.2zM664.5 2055.0h256.2v3.3h-256.2zM664.5 2133.0h256.2v4.3h-256.2zM664.5 2213.0h256.2v4.3h-256.2zM664.5 2245.0h256.2v6.3h-256.2zM664.5 2272.0h256.2v3.3h-256.2zM664.5 2318.4h256.2v3.9h-256.2zM664.5 2322.0h256.2v3.3h-256.2zM664.5 2325.0h256.2v3.3h-256.2zM664.5 2375.0h256.2v3.3h-256.2zM664.5 2391.0h256.2v4.3h-256.2zM664.5 2412.0h256.2v2.7h-256.2zM664.5 2484.0h256.2v3.3h-256.2zM920.2 2027.0h256.2v1.9h-256.2zM920.2 2236.0h256.2v3.3h-256.2zM920.2 2279.6h256.2v1.7h-256.2zM920.2 2433.0h256.2v5.3h-256.2zM1175.8 2193.0h256.2v2.3h-256.2zM1175.8 2263.6h256.2v1.7h-256.2zM1175.8 2275.0h256.2v3.3h-256.2zM1175.8 2415.0h256.2v4.3h-256.2zM1431.5 827.0h256.2v5.3h-256.2zM1431.5 832.0h256.2v3.3h-256.2zM1431.5 1112.0h256.2v5.3h-256.2zM1431.5 1117.0h256.2v4.3h-256.2zM1431.5 1121.0h256.2v4.3h-256.2zM1431.5 1357.0h256.2v3.3h-256.2zM1431.5 1402.0h256.2v5.3h-256.2zM1431.5 1414.0h256.2v4.3h-256.2zM1431.5 1418.0h256.2v1.9h-256.2zM1687.2 1020.0h256.2v2.3h-256.2zM1687.2 1264.0h256.2v3.3h-256.2zM1942.8 937.0h256.2v3.3h-256.2zM1942.8 1238.0h256.2v3.3h-256.2zM1942.8 1249.0h256.2v6.3h-256.2zM1942.8 1559.0h256.2v6.3h-256.2zM1942.8 1612.0h256.2v6.3h-256.2zM1942.8 1656.0h256.2v3.3h-256.2z"/>
<path fill="#0094c9" d="M664.5 2058.0h256.2v4.3h-256.2zM664.5 2110.0h256.2v4.3h-256.2zM664.5 2127.0h256.2v6.3h-256.2zM664.5 2180.0h256.2v4.3h-256.2zM664.5 2198.0h256.2v5.3h-256.2zM664.5 2203.0h256.2v4.3h-256.2zM664.5 2403.0h256.2v3.3h-256.2zM920.2 1832.0h256.2v5.3h-256.2zM920.2 1840.0h256.2v5.3h-256.2zM920.2 1902.0h256.2v4.3h-256.2zM920.2 2097.0h256.2v3.3h-256.2zM920.2 2281.0h256.2v4.3h-256.2zM920.2 2334.0h256.2v4.3h-256.2zM920.2 2338.0h256.2v4.3h-256.2zM920.2 2367.0h256.2v3.3h-256.2zM920.2 2375.0h256.2v3.3h-256.2zM1175.8 1902.0h256.2v4.3h-256.2zM1175.8 1906.0h256.2v6.3h-256.2zM1175.8 1926.0h256.2v4.3h-256.2zM1175.8 1942.0h256.2v2.3h-256.2zM1175.8 2137.0h256.2v4.3h-256.2zM1175.8 2145.0h256.2v6.3h-256.2zM1175.8 2154.0h256.2v6.3h-256.2zM1175.8 2281.0h256.2v4.3h-256.2zM1175.8 2305.0h256.2v4.3h-256.2zM1175.8 2328.0h256.2v4.3h-256.2zM1175.8 2497.0h256.2v1.9h-256.2zM1175.8 2576.0h256.2v5.3h-256.2zM1431.5 1020.0h256.2v2.3h-256.2zM1431.5 1030.0h256.2v3.3h-256.2zM1431.5 1033.0h256.2v5.3h-256.2zM1431.5 1125.0h256.2v6.3h-256.2zM1431.5 1296.0h256.2v4.3h-256.2zM1431.5 1300.0h256.2v4.3h-256.2zM1431.5 1304.0h256.2v4.3h-256.2zM1431.5 1328.0h256.2v3.3h-256.2zM1431.5 1411.0h256.2v3.3h-256.2zM1431.5 1734.0h256.2v1.3h-256.2zM1942.8 1106.9h256.2v1.4h-256.2zM1942.8 1213.0h256.2v4.3h-256.2zM1942.8 1264.0h256.2v3.3h-256.2zM1942.8 1543.0h256.2v5.3h-256.2zM1942.8 1571.0h256.2v1.6h-256.2zM1942.8 1601.0h256.2v4.3h-256.2zM1942.8 1625.0h256.2v2.3h-256.2z"/>
<path fill="#007bba" d="M664.5 2072.0h256.2v6.3h-256.2zM664.5 2517.0h256.2v4.3h-256.2zM664.5 2521.0h256.2v4.3h-256.2zM1175.8 1855.0h256.2v3.3h-256.2zM1431.5 1342.0h256.2v5.3h-256.2zM1431.5 1376.0h256.2v2.7h-256.2zM1687.2 1418.0h256.2v5.3h-256.2zM1687.2 1423.0h256.2v1.3h-256.2zM1687.2 1634.0h256.2v4.3h-256.2zM1687.2 1734.0h256.2v1.3h-256.2zM1942.8 820.0h256.2v3.3h-256.2zM1942.8 823.0h256.2v4.3h-256.2zM1942.8 1159.0h256.2v3.3h-256.2zM1942.8 1378.4h256.2v1.9h-256.2zM1942.8 1380.0h256.2v4.3h-256.2zM1942.8 1437.0h256.2v4.3h-256.2zM1942.8 1454.0h256.2v3.3h-256.2zM1942.8 1493.0h256.2v4.3h-256.2zM1942.8 1530.0h256.2v4.3h-256.2z"/>
<path fill="#0082be" d="M664.5 2081.0h256.2v2.3h-256.2zM664.5 2382.4h256.2v0.9h-256.2zM664.5 2451.0h256.2v5.3h-256.2zM664.5 2461.0h256.2v5.3h-256.2zM664.5 2491.0h256.2v3.3h-256.2zM664.5 2548.0h256.2v6.3h-256.2zM664.5 2554.0h256.2v4.3h-256.2zM920.2 1805.0h256.2v3.3h-256.2zM920.2 1808.0h256.2v3.3h-256.2zM920.2 1826.0h256.2v6.3h-256.2zM920.2 2572.0h256.2v4.3h-256.2zM920.2 2581.0h256.2v3.3h-256.2zM1175.8 1776.0h256.2v4.3h-256.2zM1175.8 1864.0h256.2v4.3h-256.2zM1431.5 1273.0h256.2v6.3h-256.2zM1431.5 1331.0h256.2v4.3h-256.2zM1431.5 1364.0h256.2v3.3h-256.2zM1687.2 1051.0h256.2v5.3h-256.2zM1687.2 1394.4h256.2v3.9h-256.2zM1687.2 1584.0h256.2v5.3h-256.2zM1942.8 1207.0h256.2v6.3h-256.2zM1942.8 1314.0h256.2v4.3h-256.2zM1942.8 1394.0h256.2v0.7h-256.2z"/>
<path fill="#0098cb" d="M664.5 2090.0h256.2v4.3h-256.2zM664.5 2100.0h256.2v3.3h-256.2zM664.5 2103.0h256.2v4.3h-256.2zM664.5 2114.0h256.2v6.3h-256.2zM664.5 2172.0h256.2v3.3h-256.2zM664.5 2279.6h256.2v1.7h-256.2zM664.5 2305.0h256.2v4.3h-256.2zM664.5 2328.0h256.2v6.3h-256.2zM664.5 2481.0h256.2v3.3h-256.2zM664.5 2497.0h256.2v5.3h-256.2zM920.2 1837.0h256.2v3.3h-256.2zM920.2 1845.0h256.2v4.3h-256.2zM920.2 1897.0h256.2v5.3h-256.2zM920.2 1920.0h256.2v3.3h-256.2zM920.2 2001.0h256.2v6.3h-256.2zM920.2 2100.0h256.2v3.3h-256.2zM920.2 2120.0h256.2v4.3h-256.2zM920.2 2239.0h256.2v6.3h-256.2zM920.2 2285.0h256.2v3.3h-256.2zM920.2 2288.0h256.2v4.3h-256.2zM920.2 2348.0h256.2v5.3h-256.2zM920.2 2353.0h256.2v5.3h-256.2zM920.2 2419.0h256.2v5.3h-256.2zM920.2 2652.0h256.2v2.3h-256.2zM1175.8 2163.0h256.2v3.3h-256.2zM1175.8 2166.0h256.2v3.3h-256.2zM1175.8 2292.0h256.2v5.3h-256.2zM1175.8 2325.0h256.2v3.3h-256.2zM1175.8 2567.0h256.2v5.3h-256.2zM1431.5 1022.0h256.2v3.3h-256.2zM1431.5 1038.0h256.2v3.3h-256.2zM1431.5 1111.4h256.2v0.9h-256.2zM1431.5 1314.0h256.2v4.3h-256.2zM1431.5 1318.0h256.2v1.3h-256.2zM1431.5 1392.0h256.2v2.3h-256.2zM1687.2 914.0h256.2v3.9h-256.2zM1687.2 1025.0h256.2v5.3h-256.2zM1687.2 1085.0h256.2v3.3h-256.2zM1687.2 1328.0h256.2v3.3h-256.2zM1942.8 951.0h256.2v5.3h-256.2zM1942.8 968.0h256.2v5.3h-256.2zM1942.8 985.0h256.2v5.3h-256.2zM1942.8 995.0h256.2v6.3h-256.2zM1942.8 1016.0h256.2v4.3h-256.2zM1942.8 1081.0h256.2v4.3h-256.2zM1942.8 1144.0h256.2v3.3h-256.2zM1942.8 1622.0h256.2v3.3h-256.2z"/>
<path fill="#009ccd" d="M664.5 2097.0h256.2v3.3h-256.2zM664.5 2120.0h256.2v4.3h-256.2zM664.5 2160.0h256.2v3.3h-256.2zM664.5 2184.0h256.2v6.3h-256.2zM664.5 2288.0h256.2v4.3h-256.2zM664.5 2292.0h256.2v5.3h-256.2zM664.5 2300.0h256.2v5.3h-256.2zM664.5 2362.0h256.2v5.3h-256.2zM664.5 2478.0h256.2v3.3h-256.2zM920.2 1982.0h256.2v6.3h-256.2zM920.2 1988.0h256.2v5.3h-256.2zM920.2 2107.0h256.2v3.3h-256.2zM920.2 2124.0h256.2v3.3h-256.2zM920.2 2409.0h256.2v3.3h-256.2zM1175.8 1915.0h256.2v5.3h-256.2zM1175.8 2027.0h256.2v4.3h-256.2zM1175.8 2151.0h256.2v3.3h-256.2zM1175.8 2180.0h256.2v4.3h-256.2zM1175.8 2190.0h256.2v3.3h-256.2zM1175.8 2285.0h256.2v3.3h-256.2zM1175.8 2309.0h256.2v4.3h-256.2zM1175.8 2382.4h256.2v0.9h-256.2zM1175.8 2383.0h256.2v5.3h-256.2zM1175.8 2473.0h256.2v5.3h-256.2zM1175.8 2655.0h256.2v3.9h-256.2zM1431.5 926.0h256.2v3.3h-256.2zM1431.5 968.0h256.2v5.3h-256.2zM1431.5 982.0h256.2v3.3h-256.2zM1431.5 1011.0h256.2v5.3h-256.2zM1431.5 1398.0h256.2v4.3h-256.2zM1687.2 995.0h256.2v6.3h-256.2zM1687.2 1022.0h256.2v3.3h-256.2zM1687.2 1033.0h256.2v5.3h-256.2zM1687.2 1261.0h256.2v3.3h-256.2zM1687.2 1520.0h256.2v4.6h-256.2zM1687.2 1622.0h256.2v3.3h-256.2zM1942.8 964.0h256.2v4.3h-256.2zM1942.8 979.0h256.2v3.3h-256.2zM1942.8 982.0h256.2v3.3h-256.2zM1942.8 990.0h256.2v5.3h-256.2zM1942.8 1008.0h256.2v3.3h-256.2zM1942.8 1085.0h256.2v1.6h-256.2z"/>
<path fill="#0085c0" d="M664.5 2107.0h256.2v3.3h-256.2zM664.5 2278.0h256.2v1.9h-256.2zM664.5 2388.0h256.2v3.3h-256.2zM664.5 2466.0h256.2v4.3h-256.2zM920.2 1944.4h256.2v2.9h-256.2zM920.2 2011.0h256.2v4.3h-256.2zM920.2 2015.0h256.2v3.3h-256.2zM1175.8 1770.0h256.2v6.3h-256.2zM1175.8 1880.0h256.2v4.3h-256.2zM1175.8 1920.0h256.2v3.3h-256.2zM1175.8 2471.0h256.2v2.3h-256.2zM1431.5 1339.0h256.2v3.3h-256.2zM1431.5 1367.0h256.2v6.3h-256.2zM1687.2 1043.0h256.2v2.3h-256.2zM1687.2 1056.0h256.2v3.2h-256.2zM1687.2 1091.0h256.2v6.3h-256.2zM1687.2 1593.0h256.2v4.3h-256.2zM1942.8 827.0h256.2v5.3h-256.2zM1942.8 932.0h256.2v5.3h-256.2zM1942.8 1177.0h256.2v3.3h-256.2zM1942.8 1203.0h256.2v4.3h-256.2zM1942.8 1222.0h256.2v4.3h-256.2zM1942.8 1391.0h256.2v3.3h-256.2zM1942.8 1653.0h256.2v3.3h-256.2z"/>
<path fill="#009acc" d="M664.5 2124.0h256.2v3.3h-256.2zM664.5 2145.0h256.2v6.3h-256.2zM664.5 2358.0h256.2v4.3h-256.2zM920.2 1915.0h256.2v5.3h-256.2zM920.2 1923.0h256.2v3.3h-256.2zM920.2 1939.0h256.2v3.3h-256.2zM920.2 1971.0h256.2v4.3h-256.2zM920.2 1979.0h256.2v3.3h-256.2zM920.2 2127.0h256.2v2.3h-256.2zM920.2 2233.0h256.2v3.3h-256.2zM920.2 2245.0h256.2v6.3h-256.2zM920.2 2259.0h256.2v4.9h-256.2zM920.2 2325.0h256.2v3.3h-256.2zM920.2 2342.0h256.2v6.3h-256.2zM920.2 2391.0h256.2v4.3h-256.2zM920.2 2395.0h256.2v3.3h-256.2zM1175.8 1912.0h256.2v3.3h-256.2zM1175.8 1930.0h256.2v6.3h-256.2zM1175.8 1939.0h256.2v3.3h-256.2zM1175.8 2133.7h256.2v3.6h-256.2zM1175.8 2169.0h256.2v3.3h-256.2zM1175.8 2184.0h256.2v6.3h-256.2zM1175.8 2288.0h256.2v4.3h-256.2zM1175.8 2297.0h256.2v3.3h-256.2zM1175.8 2322.0h256.2v3.3h-256.2zM1431.5 951.0h256.2v5.3h-256.2zM1431.5 964.0h256.2v4.3h-256.2zM1431.5 979.0h256.2v3.3h-256.2zM1431.5 990.0h256.2v5.3h-256.2zM1431.5 995.0h256.2v6.3h-256.2zM1431.5 1001.0h256.2v3.3h-256.2zM1431.5 1407.0h256.2v4.3h-256.2zM1687.2 979.0h256.2v3.3h-256.2zM1687.2 1058.9h256.2v1.4h-256.2zM1687.2 1255.0h256.2v6.3h-256.2zM1687.2 1267.0h256.2v5.7h-256.2zM1687.2 1331.0h256.2v4.3h-256.2zM1687.2 1339.0h256.2v3.3h-256.2zM1687.2 1347.0h256.2v3.3h-256.2zM1687.2 1612.0h256.2v6.3h-256.2zM1942.8 948.0h256.2v3.3h-256.2zM1942.8 1004.0h256.2v4.3h-256.2zM1942.8 1056.6h256.2v3.7h-256.2zM1942.8 1135.0h256.2v4.3h-256.2zM1942.8 1155.0h256.2v2.3h-256.2zM1942.8 1548.0h256.2v5.3h-256.2z"/>
<path fill="#0ba0cf" d="M664.5 2285.0h256.2v3.3h-256.2zM664.5 2297.0h256.2v3.3h-256.2zM920.2 1849.0h256.2v4.3h-256.2zM920.2 2220.0h256.2v5.3h-256.2zM920.2 2292.0h256.2v5.3h-256.2zM920.2 2322.0h256.2v3.3h-256.2zM920.2 2626.6h256.2v2.7h-256.2zM920.2 2642.0h256.2v3.3h-256.2zM920.2 2649.0h256.2v3.3h-256.2zM1175.8 2175.0h256.2v5.3h-256.2zM1175.8 2278.0h256.2v3.3h-256.2zM1175.8 2414.4h256.2v0.9h-256.2zM1175.8 2419.0h256.2v5.3h-256.2zM1175.8 2636.0h256.2v6.3h-256.2zM1431.5 940.0h256.2v4.3h-256.2zM1431.5 948.0h256.2v3.3h-256.2zM1687.2 968.0h256.2v5.3h-256.2zM1687.2 1008.0h256.2v3.3h-256.2zM1687.2 1064.0h256.2v4.3h-256.2zM1687.2 1465.3h256.2v1.0h-256.2zM1687.2 1469.0h256.2v6.3h-256.2zM1687.2 1618.0h256.2v4.3h-256.2zM1942.8 973.0h256.2v6.3h-256.2zM1942.8 1112.0h256.2v5.3h-256.2zM1942.8 1131.0h256.2v4.3h-256.2zM1942.8 1589.0h256.2v4.3h-256.2zM1942.8 1627.0h256.2v1.3h-256.2z"/>
<path fill="#007dbb" d="M664.5 2437.0h256.2v1.3h-256.2zM664.5 2438.0h256.2v3.3h-256.2zM664.5 2441.0h256.2v4.3h-256.2zM664.5 2470.0h256.2v3.3h-256.2zM664.5 2473.0h256.2v0.7h-256.2zM664.5 2511.0h256.2v3.3h-256.2zM920.2 1951.0h256.2v4.3h-256.2zM920.2 1955.0h256.2v6.3h-256.2zM920.2 2560.3h256.2v2.0h-256.2zM920.2 2576.0h256.2v5.3h-256.2zM920.2 2584.0h256.2v1.7h-256.2zM1175.8 1790.0h256.2v4.3h-256.2zM1175.8 1800.0h256.2v3.3h-256.2zM1175.8 1892.0h256.2v2.3h-256.2zM1431.5 809.0h256.2v3.3h-256.2zM1431.5 923.0h256.2v1.7h-256.2zM1431.5 1279.0h256.2v4.3h-256.2zM1431.5 1283.0h256.2v6.3h-256.2zM1431.5 1360.0h256.2v4.3h-256.2zM1431.5 1727.0h256.2v4.3h-256.2zM1687.2 1738.0h256.2v3.3h-256.2zM1942.8 1157.0h256.2v2.3h-256.2zM1942.8 1162.0h256.2v4.3h-256.2zM1942.8 1427.0h256.2v6.3h-256.2z"/>
<path fill="#0075b6" d="M664.5 2503.0h256.2v3.3h-256.2zM664.5 2525.0h256.2v5.3h-256.2zM664.5 2545.0h256.2v3.3h-256.2zM920.2 1964.0h256.2v3.3h-256.2zM920.2 2599.0h256.2v5.3h-256.2zM1687.2 1097.0h256.2v3.3h-256.2zM1687.2 1398.0h256.2v4.3h-256.2zM1687.2 1735.0h256.2v3.3h-256.2zM1942.8 832.0h256.2v3.3h-256.2zM1942.8 840.0h256.2v3.3h-256.2zM1942.8 1463.0h256.2v3.3h-256.2zM1942.8 1466.0h256.2v3.3h-256.2zM1942.8 1478.0h256.2v3.3h-256.2zM1942.8 1520.0h256.2v5.3h-256.2zM1942.8 1525.0h256.2v5.3h-256.2z"/>
<path fill="#006eb1" d="M664.5 2535.0h256.2v5.3h-256.2zM1431.5 919.0h256.2v4.3h-256.2zM1431.5 1722.0h256.2v3.3h-256.2zM1431.5 1725.0h256.2v2.3h-256.2zM1942.8 812.0h256.2v3.3h-256.2zM1942.8 1433.0h256.2v4.3h-256.2zM1942.8 1447.0h256.2v4.3h-256.2zM1942.8 1460.0h256.2v3.3h-256.2zM1942.8 1475.0h256.2v3.3h-256.2zM1942.8 1485.0h256.2v5.3h-256.2zM1942.8 1497.0h256.2v3.3h-256.2zM1942.8 1516.0h256.2v4.3h-256.2z"/>
<path fill="#a6d3e6" d="M664.5 2567.0h256.2v3.3h-256.2zM664.5 2595.0h256.2v4.3h-256.2zM920.2 2491.0h256.2v3.3h-256.2zM920.2 2494.0h256.2v2.6h-256.2zM1175.8 2511.0h256.2v3.3h-256.2zM1431.5 1457.0h256.2v3.3h-256.2zM1431.5 1581.4h256.2v2.9h-256.2zM1431.5 1584.0h256.2v5.3h-256.2zM1431.5 1589.0h256.2v4.3h-256.2zM1431.5 1593.0h256.2v4.3h-256.2zM1687.2 1384.0h256.2v4.3h-256.2z"/>
<path fill="#b6d9e7" d="M664.5 2570.0h256.2v2.3h-256.2zM664.5 2636.0h256.2v4.3h-256.2zM1175.8 1849.0h256.2v4.3h-256.2zM1175.8 2614.0h256.2v4.3h-256.2zM1175.8 2625.0h256.2v1.9h-256.2zM1431.5 866.0h256.2v1.3h-256.2zM1431.5 1644.0h256.2v1.7h-256.2zM1687.2 1388.0h256.2v3.3h-256.2zM1687.2 1682.0h256.2v5.3h-256.2zM1687.2 1693.0h256.2v3.3h-256.2z"/>
<path fill="#bbdbe7" d="M664.5 2572.0h256.2v4.3h-256.2zM664.5 2576.0h256.2v4.3h-256.2zM1175.8 1832.0h256.2v5.3h-256.2zM1175.8 2618.0h256.2v1.3h-256.2zM1431.5 2629.0h256.2v4.3h-256.2zM1687.2 823.0h256.2v4.3h-256.2zM1687.2 827.0h256.2v5.3h-256.2zM1687.2 1447.0h256.2v4.3h-256.2zM1687.2 1457.0h256.2v3.3h-256.2zM1687.2 1687.0h256.2v3.3h-256.2zM1942.8 1741.0h256.2v2.6h-256.2z"/>
<path fill="#4ab4d9" d="M664.5 2584.0h256.2v6.3h-256.2zM664.5 2655.0h256.2v3.9h-256.2zM920.2 2160.0h256.2v3.3h-256.2zM920.2 2470.0h256.2v3.3h-256.2zM920.2 2473.0h256.2v0.7h-256.2zM1175.8 1811.0h256.2v3.3h-256.2zM1175.8 1955.0h256.2v5.3h-256.2zM1175.8 1961.0h256.2v3.3h-256.2zM1175.8 1975.0h256.2v4.3h-256.2zM1175.8 2239.0h256.2v6.3h-256.2zM1175.8 2245.0h256.2v6.3h-256.2zM1175.8 2334.0h256.2v4.3h-256.2zM1175.8 2581.0h256.2v3.3h-256.2zM1431.5 886.0h256.2v3.3h-256.2zM1431.5 1068.0h256.2v5.3h-256.2zM1431.5 1194.0h256.2v5.3h-256.2zM1431.5 1199.0h256.2v4.3h-256.2zM1431.5 1241.0h256.2v4.3h-256.2zM1431.5 1419.6h256.2v3.7h-256.2zM1687.2 956.0h256.2v3.3h-256.2zM1942.8 889.0h256.2v6.3h-256.2zM1942.8 1572.3h256.2v2.0h-256.2zM1942.8 1678.0h256.2v4.3h-256.2zM1942.8 1682.0h256.2v5.3h-256.2zM1942.8 1696.0h256.2v5.3h-256.2zM1942.8 1701.0h256.2v4.3h-256.2zM1942.8 1718.0h256.2v4.3h-256.2zM1942.8 1722.0h256.2v3.3h-256.2z"/>
<path fill="#b0d7e6" d="M664.5 2599.0h256.2v2.7h-256.2zM1687.2 878.0h256.2v3.3h-256.2zM1687.2 1670.0h256.2v5.3h-256.2zM1687.2 1675.0h256.2v3.3h-256.2zM1687.2 2631.0h256.2v2.3h-256.2z"/>
<path fill="#fad9c9" d="M664.5 2601.4h256.2v2.9h-256.2zM1431.5 796.0h256.2v0.7h-256.2zM1431.5 2511.0h256.2v3.3h-256.2zM1942.8 796.4h256.2v2.9h-256.2z"/>
<path fill="#f1dfd5" d="M664.5 2604.0h256.2v3.3h-256.2zM1175.8 1764.0h256.2v2.3h-256.2zM1175.8 2621.0h256.2v1.3h-256.2zM1431.5 2514.0h256.2v3.3h-256.2zM1687.2 815.0h256.2v5.3h-256.2zM1687.2 1780.0h256.2v6.3h-256.2z"/>
<path fill="#eee0d7" d="M664.5 2607.0h256.2v3.9h-256.2zM1687.2 1718.0h256.2v0.9h-256.2zM1687.2 1753.0h256.2v4.3h-256.2zM1687.2 1786.0h256.2v3.3h-256.2zM1687.2 2525.0h256.2v5.3h-256.2zM1687.2 2671.0h256.2v3.8h-256.2z"/>
<path fill="#9bcfe5" d="M664.5 2625.0h256.2v4.3h-256.2zM920.2 2065.0h256.2v3.3h-256.2zM920.2 2451.0h256.2v5.3h-256.2zM920.2 2507.7h256.2v3.6h-256.2zM1175.8 2110.0h256.2v4.3h-256.2zM1175.8 2124.0h256.2v3.3h-256.2zM1175.8 2133.0h256.2v1.0h-256.2zM1175.8 2498.6h256.2v3.7h-256.2zM1175.8 2502.0h256.2v4.3h-256.2zM1175.8 2521.0h256.2v4.3h-256.2zM1175.8 2530.0h256.2v0.9h-256.2zM1175.8 2562.0h256.2v5.3h-256.2zM1431.5 1466.0h256.2v3.3h-256.2zM1431.5 1525.0h256.2v5.3h-256.2zM1431.5 1597.0h256.2v4.3h-256.2zM1687.2 875.0h256.2v3.3h-256.2zM1687.2 1162.0h256.2v4.3h-256.2zM1687.2 1273.0h256.2v6.3h-256.2zM1687.2 1308.0h256.2v6.3h-256.2zM1687.2 1433.0h256.2v4.3h-256.2zM1687.2 1525.0h256.2v5.3h-256.2zM1942.8 1360.0h256.2v4.3h-256.2zM1942.8 1641.0h256.2v3.3h-256.2z"/>
<path fill="#a0d1e5" d="M664.5 2633.0h256.2v3.3h-256.2zM920.2 2078.0h256.2v3.3h-256.2zM920.2 2478.0h256.2v3.3h-256.2zM920.2 2481.0h256.2v3.3h-256.2zM920.2 2558.0h256.2v2.6h-256.2zM1175.8 1988.0h256.2v5.3h-256.2zM1175.8 2090.0h256.2v4.3h-256.2zM1175.8 2517.0h256.2v4.3h-256.2zM1431.5 1534.0h256.2v3.3h-256.2zM1431.5 1537.0h256.2v6.3h-256.2zM1431.5 1601.0h256.2v4.3h-256.2zM1687.2 1383.0h256.2v1.3h-256.2zM1687.2 1530.0h256.2v4.3h-256.2zM1687.2 1534.0h256.2v3.3h-256.2zM1687.2 2636.0h256.2v4.6h-256.2z"/>
<path fill="#004285" d="M664.5 2658.6h256.2v2.7h-256.2zM1431.5 1670.0h256.2v3.3h-256.2zM1942.8 844.4h256.2v1.9h-256.2z"/>
<path fill="#003b7b" d="M664.5 2661.0h256.2v4.3h-256.2zM1431.5 1667.0h256.2v3.3h-256.2zM1431.5 1753.0h256.2v4.3h-256.2z"/>
<path fill="#002b5d" d="M664.5 2665.0h256.2v3.3h-256.2zM1942.8 857.0h256.2v3.3h-256.2z"/>
<path fill="#003876" d="M664.5 2668.0h256.2v3.3h-256.2zM920.2 2614.0h256.2v4.3h-256.2zM1431.5 1757.0h256.2v4.3h-256.2zM1431.5 1761.0h256.2v3.3h-256.2z"/>
<path fill="#00336c" d="M664.5 2671.0h256.2v3.8h-256.2zM920.2 2606.0h256.2v1.3h-256.2zM920.2 2611.0h256.2v3.3h-256.2zM920.2 2618.0h256.2v3.3h-256.2zM1687.2 799.0h256.2v4.3h-256.2z"/>
<path fill="#fdd1bb" d="M920.2 798.7h256.2v0.6h-256.2zM1431.5 1800.0h256.2v3.0h-256.2zM1687.2 1704.9h256.2v0.4h-256.2z"/>
<path fill="#fbd5c2" d="M920.2 803.0h256.2v5.3h-256.2zM1175.8 2658.6h256.2v2.7h-256.2zM1431.5 1786.7h256.2v3.6h-256.2zM1687.2 808.0h256.2v1.3h-256.2z"/>
<path fill="#fdb393" d="M920.2 866.0h256.2v5.3h-256.2zM920.2 923.0h256.2v3.3h-256.2zM1175.8 1391.0h256.2v3.3h-256.2zM1431.5 2342.0h256.2v4.2h-256.2zM1687.2 2473.0h256.2v3.0h-256.2z"/>
<path fill="#fca989" d="M920.2 871.0h256.2v4.3h-256.2zM920.2 1380.0h256.2v4.3h-256.2zM1431.5 2338.0h256.2v4.3h-256.2zM1431.5 2370.0h256.2v5.3h-256.2zM1431.5 2584.0h256.2v6.3h-256.2zM1687.2 2120.0h256.2v4.3h-256.2zM1687.2 2554.0h256.2v4.3h-256.2zM1942.8 2406.0h256.2v3.3h-256.2zM1942.8 2424.0h256.2v6.3h-256.2zM1942.8 2644.9h256.2v0.4h-256.2z"/>
<path fill="#fcd3be" d="M920.2 1659.0h256.2v3.3h-256.2zM920.2 1670.0h256.2v0.9h-256.2zM1175.8 2668.0h256.2v3.3h-256.2zM1175.8 2671.0h256.2v3.8h-256.2z"/>
<path fill="#fad7c6" d="M920.2 1667.0h256.2v3.3h-256.2zM1431.5 792.0h256.2v4.3h-256.2zM1431.5 1648.0h256.2v5.3h-256.2zM1431.5 1659.0h256.2v3.3h-256.2zM1431.5 1773.0h256.2v3.3h-256.2zM1687.2 809.0h256.2v3.3h-256.2zM1687.2 2665.4h256.2v2.9h-256.2zM1687.2 2668.0h256.2v3.3h-256.2z"/>
<path fill="#0078b8" d="M920.2 2562.0h256.2v5.3h-256.2zM1175.8 1767.0h256.2v3.3h-256.2zM1175.8 1794.0h256.2v6.3h-256.2zM1431.5 803.3h256.2v6.0h-256.2zM1431.5 1693.0h256.2v3.3h-256.2zM1431.5 1714.0h256.2v4.3h-256.2zM1687.2 1631.0h256.2v3.3h-256.2zM1687.2 1653.0h256.2v3.3h-256.2zM1942.8 1169.0h256.2v4.3h-256.2zM1942.8 1441.0h256.2v6.3h-256.2zM1942.8 1469.0h256.2v6.3h-256.2z"/>
<path fill="#0064aa" d="M920.2 2585.4h256.2v4.9h-256.2zM920.2 2590.0h256.2v5.3h-256.2zM920.2 2595.0h256.2v4.3h-256.2zM1431.5 1687.0h256.2v3.3h-256.2zM1431.5 1705.0h256.2v3.3h-256.2zM1431.5 1708.0h256.2v6.3h-256.2zM1687.2 1638.0h256.2v3.3h-256.2zM1942.8 810.0h256.2v2.3h-256.2zM1942.8 815.0h256.2v4.3h-256.2z"/>
<path fill="#0061a8" d="M920.2 2604.0h256.2v2.3h-256.2zM1431.5 1682.0h256.2v5.3h-256.2zM1431.5 1696.0h256.2v5.3h-256.2zM1431.5 1718.0h256.2v4.3h-256.2zM1431.5 1731.0h256.2v3.3h-256.2zM1942.8 860.0h256.2v3.3h-256.2zM1942.8 1490.0h256.2v3.3h-256.2z"/>
<path fill="#003671" d="M920.2 2607.0h256.2v4.3h-256.2zM920.2 2625.0h256.2v1.9h-256.2zM1431.5 1666.0h256.2v1.3h-256.2zM1431.5 1748.0h256.2v1.3h-256.2zM1687.2 796.0h256.2v3.3h-256.2z"/>
<path fill="#004a8e" d="M920.2 2621.0h256.2v4.3h-256.2zM1942.8 866.0h256.2v5.3h-256.2z"/>
<path fill="#cee0e6" d="M920.2 2654.0h256.2v1.3h-256.2zM920.2 2661.0h256.2v4.3h-256.2zM1687.2 846.0h256.2v3.3h-256.2zM1687.2 849.0h256.2v2.6h-256.2zM1687.2 1524.3h256.2v1.0h-256.2zM1942.8 1732.0h256.2v3.3h-256.2z"/>
<path fill="#c1dde8" d="M920.2 2671.0h256.2v3.8h-256.2zM1175.8 1840.0h256.2v5.3h-256.2zM1175.8 1845.0h256.2v4.3h-256.2zM1431.5 853.6h256.2v3.7h-256.2zM1431.5 2625.0h256.2v4.3h-256.2zM1687.2 832.0h256.2v3.3h-256.2zM1687.2 1169.0h256.2v4.3h-256.2zM1687.2 1667.0h256.2v3.3h-256.2zM1687.2 1761.0h256.2v3.3h-256.2zM1942.8 1738.0h256.2v3.3h-256.2z"/>
<path fill="#f9dbcc" d="M1175.8 1757.0h256.2v4.3h-256.2zM1175.8 2665.0h256.2v3.3h-256.2zM1431.5 1662.0h256.2v4.3h-256.2zM1431.5 1776.0h256.2v4.3h-256.2zM1431.5 2497.0h256.2v5.3h-256.2zM1942.8 803.0h256.2v1.5h-256.2z"/>
<path fill="#e4e2de" d="M1175.8 1761.0h256.2v3.3h-256.2zM1942.8 1753.0h256.2v4.3h-256.2z"/>
<path fill="#f8ddd0" d="M1175.8 2530.6h256.2v4.7h-256.2zM1175.8 2619.0h256.2v2.3h-256.2zM1431.5 1645.4h256.2v2.9h-256.2zM1431.5 1653.0h256.2v3.3h-256.2zM1431.5 2496.3h256.2v1.0h-256.2zM1687.2 820.0h256.2v1.9h-256.2zM1687.2 1714.0h256.2v4.3h-256.2zM1942.8 1745.0h256.2v4.3h-256.2zM1942.8 2642.0h256.2v3.2h-256.2z"/>
<path fill="#e7e1dc" d="M1175.8 2661.0h256.2v4.3h-256.2zM1942.8 1749.0h256.2v4.3h-256.2z"/>
<path fill="#006baf" d="M1431.5 812.0h256.2v0.7h-256.2zM1431.5 1690.0h256.2v3.3h-256.2zM1687.2 1629.4h256.2v1.9h-256.2zM1687.2 1662.0h256.2v2.0h-256.2z"/>
<path fill="#e0e2df" d="M1431.5 875.0h256.2v3.3h-256.2zM1431.5 878.0h256.2v3.3h-256.2zM1687.2 1708.0h256.2v6.3h-256.2zM1687.2 2521.0h256.2v4.3h-256.2zM1942.8 2633.4h256.2v2.9h-256.2z"/>
<path fill="#f5ded2" d="M1431.5 1656.0h256.2v3.3h-256.2zM1431.5 2502.0h256.2v4.3h-256.2zM1431.5 2506.0h256.2v5.3h-256.2zM1431.5 2517.0h256.2v4.3h-256.2zM1431.5 2521.0h256.2v0.7h-256.2zM1687.2 1705.0h256.2v3.3h-256.2zM1942.8 799.0h256.2v4.3h-256.2zM1942.8 1761.0h256.2v3.3h-256.2z"/>
<path fill="#0068ad" d="M1431.5 1673.0h256.2v2.3h-256.2zM1431.5 1701.0h256.2v4.3h-256.2zM1687.2 1656.0h256.2v3.3h-256.2zM1942.8 1457.0h256.2v3.3h-256.2zM1942.8 1500.0h256.2v1.3h-256.2zM1942.8 1534.0h256.2v3.3h-256.2zM1942.8 1537.0h256.2v5.9h-256.2z"/>
<path fill="#005ea6" d="M1431.5 1675.0h256.2v3.3h-256.2zM1942.8 1481.0h256.2v4.3h-256.2zM1942.8 1511.0h256.2v5.3h-256.2z"/>
<path fill="#0072b4" d="M1431.5 1678.0h256.2v4.3h-256.2zM1687.2 1103.0h256.2v4.2h-256.2zM1687.2 1402.0h256.2v5.3h-256.2zM1687.2 1407.0h256.2v4.3h-256.2zM1687.2 1641.0h256.2v3.3h-256.2zM1687.2 1644.0h256.2v4.3h-256.2zM1687.2 1648.0h256.2v5.3h-256.2zM1687.2 1659.0h256.2v3.3h-256.2zM1942.8 1255.0h256.2v6.3h-256.2zM1942.8 1424.0h256.2v3.3h-256.2zM1942.8 1451.0h256.2v3.3h-256.2z"/>
<path fill="#003067" d="M1431.5 1749.0h256.2v4.3h-256.2zM1942.8 849.0h256.2v4.3h-256.2z"/>
<path fill="#d22932" d="M1431.5 2636.0h256.2v6.3h-256.2zM1942.8 2625.0h256.2v4.3h-256.2z"/>
<path fill="#00468a" d="M1687.2 792.0h256.2v4.3h-256.2zM1942.8 863.0h256.2v3.3h-256.2z"/>
<path fill="#003e80" d="M1687.2 803.0h256.2v0.6h-256.2z"/>
<path fill="#ebe0d9" d="M1687.2 812.0h256.2v3.3h-256.2zM1687.2 2530.0h256.2v5.3h-256.2zM1942.8 1757.0h256.2v4.3h-256.2zM1942.8 2636.0h256.2v6.3h-256.2z"/>
<path fill="#d42d34" d="M1687.2 2502.0h256.2v4.3h-256.2zM1687.2 2649.0h256.2v0.7h-256.2zM1942.8 2511.0h256.2v3.3h-256.2zM1942.8 2621.0h256.2v4.3h-256.2z"/>
<path fill="#00569d" d="M1942.8 846.0h256.2v3.3h-256.2zM1942.8 878.0h256.2v3.3h-256.2zM1942.8 1504.0h256.2v3.3h-256.2z"/>
<path fill="#002e62" d="M1942.8 853.0h256.2v4.3h-256.2z"/>
<path fill="#004e93" d="M1942.8 871.0h256.2v4.3h-256.2zM1942.8 875.0h256.2v3.3h-256.2z"/>
<path fill="#005aa1" d="M1942.8 1501.0h256.2v3.3h-256.2zM1942.8 1507.0h256.2v4.3h-256.2z"/>
<path fill="#db3639" d="M1942.8 2612.9h256.2v1.4h-256.2z"/>
<path fill="#cc232f" d="M1942.8 2629.0h256.2v1.3h-256.2z"/></g>
<text transform="translate(821.8,2699.5) rotate(-90) scale(0.94,1)" font-family="Liberation Sans, Arial, Helvetica, sans-serif" font-size="45" text-anchor="end" fill="#111" stroke="#111" stroke-width="2.1">X4_GCE</text>
<text transform="translate(1077.2,2699.5) rotate(-90) scale(0.94,1)" font-family="Liberation Sans, Arial, Helvetica, sans-serif" font-size="45" text-anchor="end" fill="#111" stroke="#111" stroke-width="2.1">X5_GCE</text>
<text transform="translate(1330.9,2699.5) rotate(-90) scale(0.94,1)" font-family="Liberation Sans, Arial, Helvetica, sans-serif" font-size="45" text-anchor="end" fill="#111" stroke="#111" stroke-width="2.1">X6_GCE</text>
<text transform="translate(1585.2,2699.5) rotate(-90) scale(0.94,1)" font-family="Liberation Sans, Arial, Helvetica, sans-serif" font-size="45" text-anchor="end" fill="#111" stroke="#111" stroke-width="2.1">X3_BHI</text>
<text transform="translate(1839.0,2699.5) rotate(-90) scale(0.94,1)" font-family="Liberation Sans, Arial, Helvetica, sans-serif" font-size="45" text-anchor="end" fill="#111" stroke="#111" stroke-width="2.1">X1_BHI</text>
<text transform="translate(2092.7,2699.5) rotate(-90) scale(0.94,1)" font-family="Liberation Sans, Arial, Helvetica, sans-serif" font-size="45" text-anchor="end" fill="#111" stroke="#111" stroke-width="2.1">X2_BHI</text>
</svg>
</body></html>
